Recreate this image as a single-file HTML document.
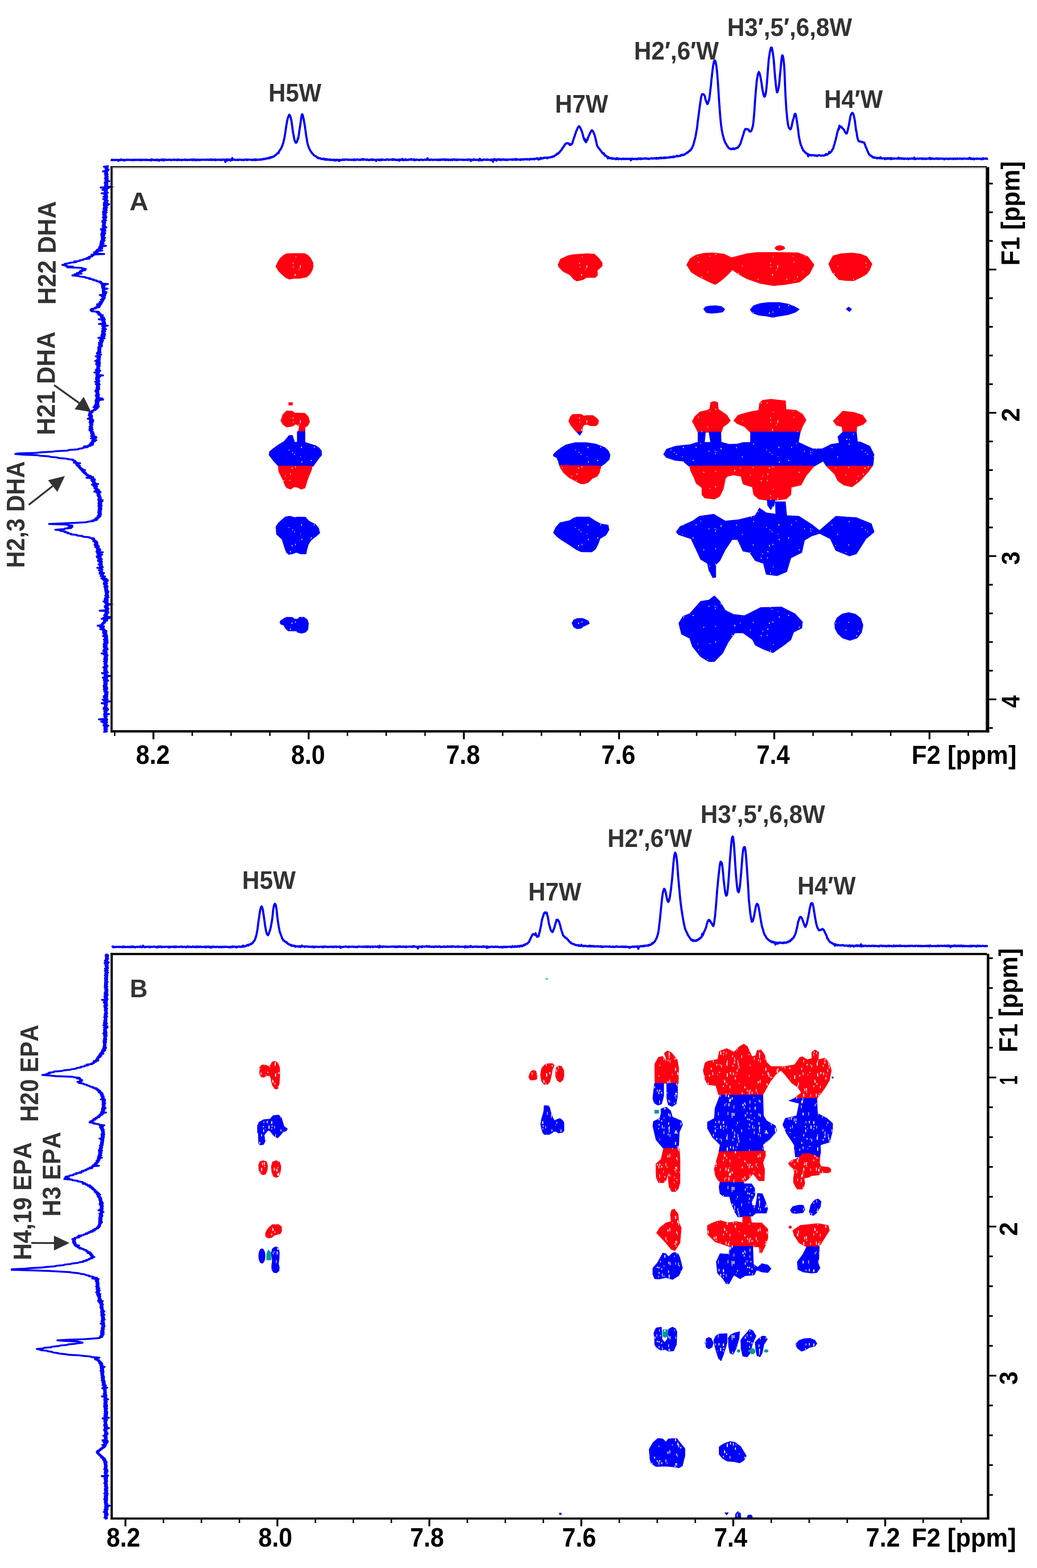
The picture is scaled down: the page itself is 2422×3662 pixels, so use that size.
<!DOCTYPE html><html><head><meta charset="utf-8"><title>NOESY spectra</title><style>html,body{margin:0;padding:0;background:#fff;}svg{display:block;}text{font-family:"Liberation Sans",Arial,sans-serif;font-weight:bold;font-kerning:none;}</style></head><body>
<svg xmlns="http://www.w3.org/2000/svg" width="2422" height="3662" viewBox="0 0 2422 3662">
<rect width="2422" height="3662" fill="#fff"/>
<polyline points="258.5,373.8 259.5,374.0 260.5,373.8 261.5,372.9 262.5,374.1 263.5,373.2 264.5,373.3 265.5,373.9 266.5,373.8 267.5,373.7 268.5,373.6 269.5,373.9 270.5,373.2 271.5,373.4 272.5,373.3 273.5,373.9 274.5,373.6 275.5,373.4 276.5,375.6 277.5,373.5 278.5,373.6 279.5,373.4 280.5,374.2 281.5,374.1 282.5,372.2 283.5,372.6 284.5,373.5 285.5,373.4 286.5,373.7 287.5,373.7 288.5,374.6 289.5,373.0 290.5,373.4 291.5,374.6 292.5,373.9 293.5,373.9 294.5,373.3 295.5,372.7 296.5,373.6 297.5,373.6 298.5,372.9 299.5,373.2 300.5,373.5 301.5,373.1 302.5,373.5 303.5,373.6 304.5,373.6 305.5,373.3 306.5,373.8 307.5,374.0 308.5,373.7 309.5,373.1 310.5,373.9 311.5,373.3 312.5,374.0 313.5,373.0 314.5,374.0 315.5,373.5 316.5,372.9 317.5,373.4 318.5,373.5 319.5,373.7 320.5,373.0 321.5,373.0 322.5,373.6 323.5,373.3 324.5,373.6 325.5,373.9 326.5,372.7 327.5,373.6 328.5,374.1 329.5,373.4 330.5,373.1 331.5,373.9 332.5,373.6 333.5,373.9 334.5,373.3 335.5,372.8 336.5,373.4 337.5,373.3 338.5,373.9 339.5,373.6 340.5,372.7 341.5,372.9 342.5,373.9 343.5,373.8 344.5,373.2 345.5,373.5 346.5,373.7 347.5,373.7 348.5,373.9 349.5,373.6 350.5,372.9 351.5,373.3 352.5,374.8 353.5,372.3 354.5,373.4 355.5,373.5 356.5,372.7 357.5,373.6 358.5,373.1 359.5,373.9 360.5,373.4 361.5,373.8 362.5,374.1 363.5,373.6 364.5,373.0 365.5,372.7 366.5,374.3 367.5,373.4 368.5,373.1 369.5,374.0 370.5,373.3 371.5,375.3 372.5,373.5 373.5,373.4 374.5,373.1 375.5,373.7 376.5,372.9 377.5,373.8 378.5,374.2 379.5,372.7 380.5,372.2 381.5,373.7 382.5,374.7 383.5,372.9 384.5,372.8 385.5,373.7 386.5,373.0 387.5,373.2 388.5,372.8 389.5,373.7 390.5,373.2 391.5,373.6 392.5,373.3 393.5,373.0 394.5,373.2 395.5,372.9 396.5,373.4 397.5,372.8 398.5,372.9 399.5,374.1 400.5,373.4 401.5,373.4 402.5,373.7 403.5,373.2 404.5,373.3 405.5,372.6 406.5,373.5 407.5,372.8 408.5,373.8 409.5,373.1 410.5,372.9 411.5,372.9 412.5,373.2 413.5,374.2 414.5,372.8 415.5,373.5 416.5,372.3 417.5,373.4 418.5,373.8 419.5,373.3 420.5,373.1 421.5,373.5 422.5,373.7 423.5,373.7 424.5,374.3 425.5,373.5 426.5,373.1 427.5,373.3 428.5,373.3 429.5,373.4 430.5,373.3 431.5,373.4 432.5,372.5 433.5,373.8 434.5,373.1 435.5,372.8 436.5,373.7 437.5,374.0 438.5,373.6 439.5,373.4 440.5,372.9 441.5,373.4 442.5,373.8 443.5,372.8 444.5,372.9 445.5,373.4 446.5,372.5 447.5,373.4 448.5,373.1 449.5,373.9 450.5,373.8 451.5,372.0 452.5,373.3 453.5,372.5 454.5,373.9 455.5,373.4 456.5,373.6 457.5,372.8 458.5,374.2 459.5,374.3 460.5,372.8 461.5,373.5 462.5,373.0 463.5,373.3 464.5,373.1 465.5,374.2 466.5,372.8 467.5,373.1 468.5,373.5 469.5,373.0 470.5,373.2 471.5,373.0 472.5,373.2 473.5,372.9 474.5,373.1 475.5,373.2 476.5,373.1 477.5,372.8 478.5,373.1 479.5,373.6 480.5,373.1 481.5,373.2 482.5,372.9 483.5,373.0 484.5,372.6 485.5,373.5 486.5,372.7 487.5,372.9 488.5,373.4 489.5,373.5 490.5,373.0 491.5,372.2 492.5,373.5 493.5,373.4 494.5,372.5 495.5,373.6 496.5,372.9 497.5,372.7 498.5,373.3 499.5,373.1 500.5,373.3 501.5,372.4 502.5,374.1 503.5,372.9 504.5,372.5 505.5,373.5 506.5,373.1 507.5,373.4 508.5,373.1 509.5,373.2 510.5,373.3 511.5,372.8 512.5,373.6 513.5,373.0 514.5,372.8 515.5,373.3 516.5,373.9 517.5,373.1 518.5,372.8 519.5,373.5 520.5,372.3 521.5,372.7 522.5,373.2 523.5,372.5 524.5,373.2 525.5,373.2 526.5,378.4 527.5,372.8 528.5,372.9 529.5,373.4 530.5,372.0 531.5,374.8 532.5,372.9 533.5,372.8 534.5,373.6 535.5,373.2 536.5,372.3 537.5,373.5 538.5,375.2 539.5,373.0 540.5,373.1 541.5,373.4 542.5,369.1 543.5,373.4 544.5,373.3 545.5,372.9 546.5,372.5 547.5,373.1 548.5,372.8 549.5,373.7 550.5,373.3 551.5,373.6 552.5,373.3 553.5,373.3 554.5,372.8 555.5,373.5 556.5,374.1 557.5,373.0 558.5,372.9 559.5,373.1 560.5,373.0 561.5,372.8 562.5,373.3 563.5,373.1 564.5,373.9 565.5,373.2 566.5,373.4 567.5,373.7 568.5,373.0 569.5,373.9 570.5,372.9 571.5,372.8 572.5,373.0 573.5,373.1 574.5,372.5 575.5,373.2 576.5,372.4 577.5,373.9 578.5,373.2 579.5,372.9 580.5,372.7 581.5,373.0 582.5,373.1 583.5,372.7 584.5,372.7 585.5,373.1 586.5,372.9 587.5,373.7 588.5,373.8 589.5,373.2 590.5,373.4 591.5,372.5 592.5,373.5 593.5,373.2 594.5,373.4 595.5,374.0 596.5,372.1 597.5,373.3 598.5,372.7 599.5,373.5 600.5,372.5 601.5,372.9 602.5,373.2 603.5,373.4 604.5,373.1 605.5,372.5 606.5,372.6 607.5,373.2 608.5,372.6 609.5,371.6 610.5,372.7 611.5,372.4 612.5,372.4 613.5,371.6 614.5,372.1 615.5,370.9 616.5,371.5 617.5,370.8 618.5,371.2 619.5,371.2 620.5,370.1 621.5,370.3 622.5,370.1 623.5,370.5 624.5,370.1 625.5,368.9 626.5,369.5 627.5,369.4 628.5,369.9 629.5,367.7 630.5,368.0 631.5,368.7 632.5,367.1 633.5,366.8 634.5,367.3 635.5,367.2 636.5,366.0 637.5,366.2 638.5,365.6 639.5,365.8 640.5,364.4 641.5,364.3 642.5,362.6 643.5,362.2 644.5,361.4 645.5,361.1 646.5,359.8 647.5,358.2 648.5,357.8 649.5,356.8 650.5,357.8 651.5,354.0 652.5,352.8 653.5,350.6 654.5,350.1 655.5,348.5 656.5,346.1 657.5,345.0 658.5,341.8 659.5,339.7 660.5,336.8 661.5,334.5 662.5,328.9 663.5,325.7 664.5,321.0 665.5,314.8 666.5,308.7 667.5,301.3 668.5,294.5 669.5,289.6 670.5,282.9 671.5,279.0 672.5,274.9 673.5,272.7 674.5,270.0 675.5,267.8 676.5,268.8 677.5,270.3 678.5,273.2 679.5,277.1 680.5,281.1 681.5,287.6 682.5,295.3 683.5,302.9 684.5,309.8 685.5,314.6 686.5,320.5 687.5,325.3 688.5,329.4 689.5,330.6 690.5,333.1 691.5,333.4 692.5,332.7 693.5,330.8 694.5,328.9 695.5,323.4 696.5,323.9 697.5,317.0 698.5,310.9 699.5,303.5 700.5,297.2 701.5,290.9 702.5,283.3 703.5,276.0 704.5,269.8 705.5,266.8 706.5,267.5 707.5,270.9 708.5,274.8 709.5,279.7 710.5,285.7 711.5,291.0 712.5,297.5 713.5,305.0 714.5,312.1 715.5,319.2 716.5,324.7 717.5,331.2 718.5,336.1 719.5,338.8 720.5,342.7 721.5,345.1 722.5,347.1 723.5,349.6 724.5,351.4 725.5,352.9 726.5,354.4 727.5,356.0 728.5,357.5 729.5,358.1 730.5,359.6 731.5,359.9 732.5,361.8 733.5,362.8 734.5,363.3 735.5,364.0 736.5,364.8 737.5,364.8 738.5,365.6 739.5,366.6 740.5,367.4 741.5,367.6 742.5,369.2 743.5,368.3 744.5,369.3 745.5,369.9 746.5,369.5 747.5,369.6 748.5,369.7 749.5,370.7 750.5,371.4 751.5,371.2 752.5,371.3 753.5,371.2 754.5,371.8 755.5,370.5 756.5,371.8 757.5,371.9 758.5,371.3 759.5,373.2 760.5,371.5 761.5,371.7 762.5,371.8 763.5,373.0 764.5,372.1 765.5,373.0 766.5,373.1 767.5,373.0 768.5,372.3 769.5,372.7 770.5,373.9 771.5,372.5 772.5,372.8 773.5,373.2 774.5,373.8 775.5,373.6 776.5,373.9 777.5,373.0 778.5,374.1 779.5,373.9 780.5,372.9 781.5,374.5 782.5,374.9 783.5,373.4 784.5,373.8 785.5,374.5 786.5,373.1 787.5,372.9 788.5,373.2 789.5,373.6 790.5,373.4 791.5,376.2 792.5,374.0 793.5,373.1 794.5,373.9 795.5,374.4 796.5,373.9 797.5,373.7 798.5,373.1 799.5,373.5 800.5,372.5 801.5,373.4 802.5,373.0 803.5,373.6 804.5,373.2 805.5,372.5 806.5,373.1 807.5,372.4 808.5,372.4 809.5,372.7 810.5,372.6 811.5,372.3 812.5,373.5 813.5,373.7 814.5,373.4 815.5,373.1 816.5,373.0 817.5,373.1 818.5,372.6 819.5,373.5 820.5,373.5 821.5,373.5 822.5,372.7 823.5,373.0 824.5,372.9 825.5,373.9 826.5,373.1 827.5,372.1 828.5,373.2 829.5,374.0 830.5,373.4 831.5,373.5 832.5,373.0 833.5,372.0 834.5,372.1 835.5,372.4 836.5,373.0 837.5,373.2 838.5,373.4 839.5,372.9 840.5,373.5 841.5,372.9 842.5,372.7 843.5,373.5 844.5,372.6 845.5,371.7 846.5,372.5 847.5,373.1 848.5,371.5 849.5,372.9 850.5,372.9 851.5,372.3 852.5,372.3 853.5,372.8 854.5,372.8 855.5,373.7 856.5,373.2 857.5,372.2 858.5,372.6 859.5,373.4 860.5,374.0 861.5,373.2 862.5,373.2 863.5,374.0 864.5,373.0 865.5,372.9 866.5,372.3 867.5,372.8 868.5,374.1 869.5,372.3 870.5,373.1 871.5,372.4 872.5,373.1 873.5,373.5 874.5,372.9 875.5,373.4 876.5,373.4 877.5,373.3 878.5,376.0 879.5,373.5 880.5,372.9 881.5,372.7 882.5,372.7 883.5,373.3 884.5,372.9 885.5,374.4 886.5,374.0 887.5,373.0 888.5,372.9 889.5,373.9 890.5,372.1 891.5,372.9 892.5,373.6 893.5,372.6 894.5,372.9 895.5,372.9 896.5,373.4 897.5,373.2 898.5,373.3 899.5,373.4 900.5,373.1 901.5,373.7 902.5,372.7 903.5,372.4 904.5,372.2 905.5,372.3 906.5,372.8 907.5,373.6 908.5,373.2 909.5,372.8 910.5,372.6 911.5,372.9 912.5,372.9 913.5,372.8 914.5,372.4 915.5,372.9 916.5,373.6 917.5,371.5 918.5,373.0 919.5,372.1 920.5,373.2 921.5,372.8 922.5,372.1 923.5,373.2 924.5,374.0 925.5,373.2 926.5,373.7 927.5,373.1 928.5,374.0 929.5,373.4 930.5,372.9 931.5,372.4 932.5,375.2 933.5,373.3 934.5,372.9 935.5,373.6 936.5,372.7 937.5,373.5 938.5,372.7 939.5,371.1 940.5,372.6 941.5,373.9 942.5,374.0 943.5,373.9 944.5,372.8 945.5,372.9 946.5,373.6 947.5,371.8 948.5,372.6 949.5,373.7 950.5,373.4 951.5,373.7 952.5,373.0 953.5,373.5 954.5,372.8 955.5,372.5 956.5,372.3 957.5,372.9 958.5,372.9 959.5,372.9 960.5,371.4 961.5,373.1 962.5,372.9 963.5,373.3 964.5,372.9 965.5,372.7 966.5,372.0 967.5,374.2 968.5,372.6 969.5,374.0 970.5,374.0 971.5,373.3 972.5,372.9 973.5,373.3 974.5,372.6 975.5,373.3 976.5,373.2 977.5,373.5 978.5,373.7 979.5,374.1 980.5,373.0 981.5,373.7 982.5,372.8 983.5,372.7 984.5,372.9 985.5,372.7 986.5,373.7 987.5,373.7 988.5,373.7 989.5,373.2 990.5,373.3 991.5,372.9 992.5,372.6 993.5,373.4 994.5,373.3 995.5,372.6 996.5,373.5 997.5,372.3 998.5,369.5 999.5,372.9 1000.5,372.9 1001.5,372.7 1002.5,373.7 1003.5,373.5 1004.5,373.8 1005.5,373.3 1006.5,372.6 1007.5,373.0 1008.5,372.6 1009.5,373.4 1010.5,373.8 1011.5,373.4 1012.5,372.9 1013.5,373.0 1014.5,373.3 1015.5,372.5 1016.5,373.3 1017.5,373.3 1018.5,372.9 1019.5,373.0 1020.5,373.8 1021.5,372.8 1022.5,372.8 1023.5,373.6 1024.5,373.3 1025.5,374.0 1026.5,372.7 1027.5,372.3 1028.5,373.7 1029.5,373.7 1030.5,372.8 1031.5,372.4 1032.5,373.2 1033.5,372.3 1034.5,373.0 1035.5,372.1 1036.5,373.1 1037.5,372.1 1038.5,373.1 1039.5,373.9 1040.5,372.4 1041.5,373.6 1042.5,372.8 1043.5,372.7 1044.5,372.4 1045.5,373.7 1046.5,373.1 1047.5,374.0 1048.5,372.6 1049.5,373.0 1050.5,373.2 1051.5,373.9 1052.5,374.1 1053.5,372.8 1054.5,372.6 1055.5,372.3 1056.5,373.8 1057.5,373.1 1058.5,372.8 1059.5,373.1 1060.5,371.9 1061.5,372.3 1062.5,373.6 1063.5,373.3 1064.5,373.2 1065.5,372.6 1066.5,373.4 1067.5,374.0 1068.5,372.5 1069.5,373.1 1070.5,372.9 1071.5,373.3 1072.5,373.1 1073.5,373.1 1074.5,372.7 1075.5,373.1 1076.5,372.8 1077.5,373.0 1078.5,373.1 1079.5,373.4 1080.5,372.8 1081.5,373.0 1082.5,373.7 1083.5,373.0 1084.5,373.0 1085.5,373.5 1086.5,373.2 1087.5,373.2 1088.5,373.2 1089.5,372.5 1090.5,373.3 1091.5,373.8 1092.5,373.4 1093.5,372.3 1094.5,373.2 1095.5,372.6 1096.5,373.0 1097.5,373.2 1098.5,372.5 1099.5,376.1 1100.5,373.1 1101.5,373.5 1102.5,373.4 1103.5,373.8 1104.5,373.7 1105.5,372.3 1106.5,373.1 1107.5,372.0 1108.5,372.9 1109.5,373.4 1110.5,373.5 1111.5,373.7 1112.5,372.9 1113.5,373.2 1114.5,373.1 1115.5,373.7 1116.5,373.9 1117.5,372.9 1118.5,374.9 1119.5,373.1 1120.5,370.7 1121.5,373.3 1122.5,373.4 1123.5,373.3 1124.5,374.7 1125.5,373.8 1126.5,373.1 1127.5,373.8 1128.5,373.7 1129.5,372.7 1130.5,372.5 1131.5,372.5 1132.5,373.2 1133.5,373.1 1134.5,373.2 1135.5,372.6 1136.5,373.2 1137.5,373.7 1138.5,372.3 1139.5,372.9 1140.5,373.1 1141.5,372.9 1142.5,372.9 1143.5,373.9 1144.5,373.6 1145.5,373.4 1146.5,372.6 1147.5,374.1 1148.5,373.2 1149.5,372.7 1150.5,372.8 1151.5,377.8 1152.5,374.0 1153.5,373.1 1154.5,371.0 1155.5,371.9 1156.5,373.3 1157.5,372.4 1158.5,372.4 1159.5,375.2 1160.5,372.5 1161.5,373.4 1162.5,373.5 1163.5,372.0 1164.5,371.8 1165.5,372.1 1166.5,372.9 1167.5,373.4 1168.5,372.2 1169.5,373.8 1170.5,372.8 1171.5,372.3 1172.5,372.8 1173.5,373.3 1174.5,372.2 1175.5,372.9 1176.5,372.2 1177.5,373.5 1178.5,373.0 1179.5,372.7 1180.5,373.4 1181.5,372.2 1182.5,372.7 1183.5,373.8 1184.5,372.8 1185.5,373.5 1186.5,372.9 1187.5,372.5 1188.5,372.7 1189.5,372.9 1190.5,372.6 1191.5,372.4 1192.5,372.4 1193.5,372.1 1194.5,372.9 1195.5,373.0 1196.5,373.2 1197.5,371.9 1198.5,373.2 1199.5,372.8 1200.5,372.1 1201.5,372.8 1202.5,373.2 1203.5,373.0 1204.5,371.2 1205.5,373.2 1206.5,373.2 1207.5,372.7 1208.5,371.7 1209.5,372.3 1210.5,372.8 1211.5,372.4 1212.5,373.0 1213.5,373.0 1214.5,372.6 1215.5,373.5 1216.5,372.0 1217.5,373.0 1218.5,372.2 1219.5,372.1 1220.5,372.7 1221.5,372.1 1222.5,372.8 1223.5,371.7 1224.5,372.3 1225.5,371.8 1226.5,372.1 1227.5,372.0 1228.5,371.6 1229.5,372.4 1230.5,371.4 1231.5,371.5 1232.5,372.4 1233.5,372.4 1234.5,372.2 1235.5,372.0 1236.5,372.9 1237.5,371.1 1238.5,371.3 1239.5,371.1 1240.5,372.0 1241.5,371.6 1242.5,372.0 1243.5,371.8 1244.5,371.2 1245.5,370.8 1246.5,370.7 1247.5,372.2 1248.5,371.5 1249.5,371.3 1250.5,370.7 1251.5,370.7 1252.5,370.6 1253.5,370.5 1254.5,369.4 1255.5,370.5 1256.5,370.3 1257.5,372.7 1258.5,370.4 1259.5,370.6 1260.5,370.1 1261.5,371.6 1262.5,368.7 1263.5,369.3 1264.5,370.6 1265.5,369.1 1266.5,369.5 1267.5,369.9 1268.5,369.0 1269.5,369.7 1270.5,368.5 1271.5,368.2 1272.5,368.4 1273.5,368.1 1274.5,368.8 1275.5,368.6 1276.5,368.8 1277.5,368.0 1278.5,369.7 1279.5,368.3 1280.5,368.1 1281.5,368.2 1282.5,367.7 1283.5,367.3 1284.5,367.5 1285.5,367.6 1286.5,367.3 1287.5,367.1 1288.5,366.1 1289.5,365.7 1290.5,366.7 1291.5,365.3 1292.5,365.3 1293.5,365.1 1294.5,365.0 1295.5,363.2 1296.5,363.1 1297.5,362.6 1298.5,362.1 1299.5,360.4 1300.5,360.8 1301.5,358.7 1302.5,359.5 1303.5,358.8 1304.5,358.0 1305.5,356.2 1306.5,356.3 1307.5,354.5 1308.5,353.2 1309.5,352.1 1310.5,350.8 1311.5,349.8 1312.5,348.6 1313.5,345.6 1314.5,344.8 1315.5,344.1 1316.5,342.3 1317.5,341.2 1318.5,338.8 1319.5,338.5 1320.5,335.8 1321.5,335.4 1322.5,335.1 1323.5,335.0 1324.5,334.3 1325.5,334.7 1326.5,334.3 1327.5,334.9 1328.5,336.2 1329.5,336.1 1330.5,338.7 1331.5,336.4 1332.5,337.5 1333.5,338.0 1334.5,337.2 1335.5,336.3 1336.5,335.2 1337.5,331.7 1338.5,328.4 1339.5,324.9 1340.5,322.4 1341.5,319.6 1342.5,317.1 1343.5,312.9 1344.5,311.1 1345.5,307.1 1346.5,305.1 1347.5,303.3 1348.5,300.5 1349.5,298.2 1350.5,296.9 1351.5,296.1 1352.5,294.6 1353.5,295.9 1354.5,297.2 1355.5,298.8 1356.5,301.5 1357.5,303.2 1358.5,305.7 1359.5,308.4 1360.5,312.1 1361.5,315.4 1362.5,320.2 1363.5,322.5 1364.5,326.4 1365.5,323.9 1366.5,329.1 1367.5,330.6 1368.5,332.0 1369.5,331.0 1370.5,326.6 1371.5,327.7 1372.5,324.4 1373.5,321.4 1374.5,319.2 1375.5,316.5 1376.5,314.9 1377.5,312.1 1378.5,310.4 1379.5,308.4 1380.5,306.5 1381.5,305.0 1382.5,304.2 1383.5,305.3 1384.5,306.1 1385.5,308.0 1386.5,309.8 1387.5,312.6 1388.5,314.8 1389.5,318.1 1390.5,321.6 1391.5,326.7 1392.5,330.8 1393.5,335.2 1394.5,339.8 1395.5,341.7 1396.5,342.7 1397.5,345.2 1398.5,346.1 1399.5,346.8 1400.5,348.8 1401.5,349.9 1402.5,351.3 1403.5,352.2 1404.5,353.8 1405.5,355.1 1406.5,357.1 1407.5,357.1 1408.5,358.5 1409.5,359.7 1410.5,357.9 1411.5,360.6 1412.5,363.4 1413.5,362.3 1414.5,364.3 1415.5,364.3 1416.5,365.0 1417.5,365.0 1418.5,366.0 1419.5,369.9 1420.5,366.6 1421.5,368.0 1422.5,368.2 1423.5,369.5 1424.5,368.6 1425.5,369.7 1426.5,369.8 1427.5,369.5 1428.5,369.0 1429.5,370.8 1430.5,369.5 1431.5,370.0 1432.5,370.8 1433.5,371.0 1434.5,370.0 1435.5,370.5 1436.5,370.4 1437.5,371.2 1438.5,371.9 1439.5,369.8 1440.5,371.2 1441.5,369.4 1442.5,370.9 1443.5,370.3 1444.5,371.9 1445.5,371.0 1446.5,370.6 1447.5,370.8 1448.5,370.8 1449.5,371.2 1450.5,371.0 1451.5,371.4 1452.5,371.9 1453.5,371.5 1454.5,370.5 1455.5,370.4 1456.5,370.8 1457.5,371.7 1458.5,371.0 1459.5,370.9 1460.5,371.3 1461.5,370.5 1462.5,370.6 1463.5,371.5 1464.5,371.0 1465.5,371.0 1466.5,371.3 1467.5,370.9 1468.5,370.8 1469.5,370.9 1470.5,371.5 1471.5,371.2 1472.5,370.5 1473.5,374.3 1474.5,371.4 1475.5,372.1 1476.5,370.5 1477.5,371.3 1478.5,370.9 1479.5,371.5 1480.5,371.3 1481.5,371.8 1482.5,371.3 1483.5,370.7 1484.5,370.7 1485.5,371.2 1486.5,371.2 1487.5,372.1 1488.5,371.8 1489.5,370.3 1490.5,371.1 1491.5,370.2 1492.5,370.0 1493.5,371.2 1494.5,371.1 1495.5,370.2 1496.5,371.6 1497.5,370.2 1498.5,370.1 1499.5,371.0 1500.5,370.8 1501.5,370.5 1502.5,370.6 1503.5,370.7 1504.5,370.2 1505.5,370.4 1506.5,369.5 1507.5,369.8 1508.5,370.7 1509.5,370.0 1510.5,370.6 1511.5,370.9 1512.5,370.1 1513.5,370.4 1514.5,371.3 1515.5,370.5 1516.5,371.1 1517.5,370.9 1518.5,370.5 1519.5,370.0 1520.5,369.6 1521.5,369.4 1522.5,370.2 1523.5,370.2 1524.5,369.8 1525.5,370.3 1526.5,369.5 1527.5,370.3 1528.5,369.8 1529.5,369.7 1530.5,369.7 1531.5,369.6 1532.5,370.8 1533.5,368.7 1534.5,369.6 1535.5,370.1 1536.5,369.8 1537.5,369.2 1538.5,370.2 1539.5,368.8 1540.5,368.6 1541.5,369.5 1542.5,368.4 1543.5,367.9 1544.5,369.5 1545.5,369.3 1546.5,369.3 1547.5,368.6 1548.5,368.8 1549.5,368.2 1550.5,369.5 1551.5,368.9 1552.5,368.9 1553.5,367.4 1554.5,368.7 1555.5,368.9 1556.5,368.7 1557.5,368.4 1558.5,367.9 1559.5,367.6 1560.5,367.9 1561.5,367.7 1562.5,367.5 1563.5,367.2 1564.5,368.0 1565.5,366.5 1566.5,367.0 1567.5,366.6 1568.5,367.2 1569.5,367.3 1570.5,367.1 1571.5,366.7 1572.5,365.5 1573.5,367.1 1574.5,366.2 1575.5,365.8 1576.5,365.7 1577.5,365.4 1578.5,365.6 1579.5,365.4 1580.5,365.0 1581.5,363.7 1582.5,364.8 1583.5,364.9 1584.5,364.7 1585.5,364.2 1586.5,364.3 1587.5,364.4 1588.5,363.4 1589.5,364.2 1590.5,362.2 1591.5,362.3 1592.5,362.3 1593.5,361.2 1594.5,361.7 1595.5,362.4 1596.5,362.0 1597.5,361.0 1598.5,361.3 1599.5,360.1 1600.5,359.2 1601.5,359.0 1602.5,358.3 1603.5,358.1 1604.5,356.3 1605.5,356.9 1606.5,355.5 1607.5,355.5 1608.5,353.5 1609.5,353.3 1610.5,352.6 1611.5,352.1 1612.5,349.9 1613.5,350.2 1614.5,348.2 1615.5,346.3 1616.5,345.3 1617.5,342.5 1618.5,340.4 1619.5,338.1 1620.5,334.2 1621.5,330.2 1622.5,326.7 1623.5,323.2 1624.5,318.5 1625.5,313.0 1626.5,307.5 1627.5,301.6 1628.5,294.8 1629.5,284.3 1630.5,278.1 1631.5,270.1 1632.5,262.7 1633.5,254.9 1634.5,247.2 1635.5,240.4 1636.5,233.7 1637.5,227.1 1638.5,223.6 1639.5,220.5 1640.5,220.2 1641.5,220.4 1642.5,219.8 1643.5,220.7 1644.5,221.3 1645.5,223.4 1646.5,225.8 1647.5,231.7 1648.5,234.4 1649.5,236.9 1650.5,240.2 1651.5,242.4 1652.5,243.0 1653.5,240.9 1654.5,237.9 1655.5,234.9 1656.5,231.9 1657.5,224.4 1658.5,216.3 1659.5,206.8 1660.5,199.1 1661.5,187.2 1662.5,179.3 1663.5,169.9 1664.5,161.9 1665.5,154.1 1666.5,149.3 1667.5,143.6 1668.5,141.6 1669.5,142.3 1670.5,141.8 1671.5,145.5 1672.5,150.9 1673.5,157.0 1674.5,165.6 1675.5,177.1 1676.5,189.6 1677.5,204.1 1678.5,220.1 1679.5,236.1 1680.5,249.5 1681.5,263.4 1682.5,275.2 1683.5,286.1 1684.5,294.4 1685.5,301.7 1686.5,307.0 1687.5,312.6 1688.5,316.2 1689.5,320.2 1690.5,323.8 1691.5,326.4 1692.5,330.1 1693.5,331.7 1694.5,334.6 1695.5,335.4 1696.5,337.3 1697.5,339.7 1698.5,341.1 1699.5,341.6 1700.5,343.8 1701.5,345.3 1702.5,346.2 1703.5,346.4 1704.5,347.1 1705.5,347.3 1706.5,348.4 1707.5,348.8 1708.5,347.8 1709.5,347.2 1710.5,348.0 1711.5,348.2 1712.5,346.3 1713.5,347.6 1714.5,348.4 1715.5,347.6 1716.5,347.2 1717.5,346.9 1718.5,347.0 1719.5,345.7 1720.5,345.4 1721.5,345.7 1722.5,344.8 1723.5,344.6 1724.5,342.4 1725.5,342.4 1726.5,340.8 1727.5,338.7 1728.5,336.8 1729.5,335.6 1730.5,331.2 1731.5,328.8 1732.5,325.4 1733.5,322.4 1734.5,318.8 1735.5,316.3 1736.5,312.9 1737.5,309.1 1738.5,305.7 1739.5,304.2 1740.5,301.7 1741.5,301.1 1742.5,301.3 1743.5,301.4 1744.5,302.0 1745.5,302.2 1746.5,301.9 1747.5,302.2 1748.5,303.1 1749.5,304.4 1750.5,307.1 1751.5,307.0 1752.5,306.9 1753.5,307.0 1754.5,305.6 1755.5,304.0 1756.5,300.4 1757.5,297.7 1758.5,293.6 1759.5,286.9 1760.5,276.2 1761.5,264.7 1762.5,250.8 1763.5,235.1 1764.5,221.9 1765.5,210.1 1766.5,199.0 1767.5,188.5 1768.5,182.4 1769.5,176.7 1770.5,172.7 1771.5,169.9 1772.5,168.2 1773.5,170.0 1774.5,173.2 1775.5,176.9 1776.5,182.2 1777.5,187.4 1778.5,193.2 1779.5,200.6 1780.5,207.5 1781.5,212.7 1782.5,217.3 1783.5,221.9 1784.5,224.3 1785.5,225.8 1786.5,225.0 1787.5,222.2 1788.5,217.8 1789.5,211.1 1790.5,201.7 1791.5,190.0 1792.5,176.8 1793.5,163.3 1794.5,150.6 1795.5,138.6 1796.5,132.4 1797.5,124.9 1798.5,119.6 1799.5,115.6 1800.5,111.3 1801.5,111.1 1802.5,111.2 1803.5,115.5 1804.5,120.6 1805.5,127.1 1806.5,134.4 1807.5,145.0 1808.5,157.5 1809.5,171.4 1810.5,182.2 1811.5,192.1 1812.5,202.0 1813.5,208.9 1814.5,215.2 1815.5,215.7 1816.5,212.6 1817.5,209.0 1818.5,205.1 1819.5,198.8 1820.5,189.6 1821.5,177.2 1822.5,168.2 1823.5,157.2 1824.5,146.0 1825.5,137.0 1826.5,130.3 1827.5,129.2 1828.5,131.9 1829.5,135.6 1830.5,144.2 1831.5,153.7 1832.5,170.6 1833.5,199.0 1834.5,221.0 1835.5,238.3 1836.5,254.1 1837.5,265.7 1838.5,275.8 1839.5,283.8 1840.5,290.7 1841.5,295.3 1842.5,297.9 1843.5,299.8 1844.5,300.7 1845.5,302.0 1846.5,301.6 1847.5,299.8 1848.5,296.6 1849.5,292.0 1850.5,287.4 1851.5,282.7 1852.5,279.1 1853.5,277.1 1854.5,272.4 1855.5,268.1 1856.5,266.2 1857.5,265.9 1858.5,267.4 1859.5,272.6 1860.5,278.2 1861.5,284.7 1862.5,291.3 1863.5,299.0 1864.5,306.3 1865.5,316.3 1866.5,321.4 1867.5,326.5 1868.5,330.4 1869.5,335.2 1870.5,338.7 1871.5,340.6 1872.5,342.7 1873.5,346.1 1874.5,347.3 1875.5,350.0 1876.5,352.1 1877.5,352.2 1878.5,353.3 1879.5,354.8 1880.5,356.0 1881.5,355.9 1882.5,357.8 1883.5,358.4 1884.5,358.9 1885.5,359.0 1886.5,360.4 1887.5,365.0 1888.5,360.4 1889.5,362.5 1890.5,361.7 1891.5,362.3 1892.5,362.1 1893.5,362.7 1894.5,363.2 1895.5,362.3 1896.5,361.9 1897.5,362.5 1898.5,362.2 1899.5,362.5 1900.5,362.8 1901.5,362.9 1902.5,363.6 1903.5,362.5 1904.5,363.2 1905.5,362.8 1906.5,363.8 1907.5,364.4 1908.5,363.3 1909.5,364.0 1910.5,362.9 1911.5,362.4 1912.5,362.6 1913.5,362.4 1914.5,362.8 1915.5,363.1 1916.5,363.8 1917.5,363.6 1918.5,363.5 1919.5,363.1 1920.5,362.9 1921.5,363.3 1922.5,363.4 1923.5,363.4 1924.5,363.4 1925.5,363.0 1926.5,361.9 1927.5,362.1 1928.5,361.9 1929.5,359.5 1930.5,361.2 1931.5,361.3 1932.5,361.2 1933.5,360.1 1934.5,359.2 1935.5,358.6 1936.5,354.9 1937.5,357.6 1938.5,357.2 1939.5,356.0 1940.5,355.0 1941.5,353.7 1942.5,353.0 1943.5,350.1 1944.5,348.9 1945.5,347.4 1946.5,345.2 1947.5,340.6 1948.5,338.2 1949.5,334.6 1950.5,330.4 1951.5,327.5 1952.5,323.6 1953.5,319.4 1954.5,314.4 1955.5,310.2 1956.5,306.3 1957.5,303.6 1958.5,300.2 1959.5,301.9 1960.5,293.4 1961.5,296.3 1962.5,296.7 1963.5,296.9 1964.5,295.7 1965.5,297.1 1966.5,298.4 1967.5,299.6 1968.5,300.2 1969.5,300.9 1970.5,302.6 1971.5,303.5 1972.5,306.3 1973.5,308.5 1974.5,308.8 1975.5,311.0 1976.5,311.8 1977.5,311.9 1978.5,309.8 1979.5,306.2 1980.5,301.3 1981.5,297.1 1982.5,293.3 1983.5,287.4 1984.5,281.4 1985.5,276.1 1986.5,270.9 1987.5,267.7 1988.5,266.2 1989.5,265.0 1990.5,263.5 1991.5,263.9 1992.5,265.4 1993.5,267.5 1994.5,271.7 1995.5,276.4 1996.5,281.0 1997.5,289.2 1998.5,297.1 1999.5,305.2 2000.5,307.7 2001.5,315.2 2002.5,321.5 2003.5,324.5 2004.5,327.9 2005.5,329.6 2006.5,330.2 2007.5,330.1 2008.5,330.7 2009.5,330.5 2010.5,330.8 2011.5,331.3 2012.5,331.7 2013.5,331.8 2014.5,331.5 2015.5,332.4 2016.5,332.6 2017.5,333.2 2018.5,333.1 2019.5,336.0 2020.5,338.1 2021.5,341.9 2022.5,344.3 2023.5,346.0 2024.5,348.1 2025.5,351.7 2026.5,353.0 2027.5,356.0 2028.5,357.5 2029.5,360.3 2030.5,360.5 2031.5,362.2 2032.5,363.1 2033.5,363.0 2034.5,363.9 2035.5,365.5 2036.5,365.4 2037.5,365.5 2038.5,367.1 2039.5,368.2 2040.5,367.2 2041.5,368.2 2042.5,367.6 2043.5,368.6 2044.5,368.0 2045.5,368.4 2046.5,368.8 2047.5,368.6 2048.5,370.0 2049.5,368.7 2050.5,368.5 2051.5,368.7 2052.5,369.3 2053.5,368.9 2054.5,369.7 2055.5,369.9 2056.5,367.0 2057.5,369.5 2058.5,369.8 2059.5,369.8 2060.5,370.5 2061.5,369.5 2062.5,369.7 2063.5,369.8 2064.5,369.9 2065.5,369.6 2066.5,371.7 2067.5,370.5 2068.5,369.7 2069.5,370.5 2070.5,371.1 2071.5,370.8 2072.5,369.2 2073.5,370.5 2074.5,370.4 2075.5,370.5 2076.5,369.4 2077.5,370.6 2078.5,369.7 2079.5,370.9 2080.5,369.1 2081.5,371.6 2082.5,370.1 2083.5,369.5 2084.5,370.8 2085.5,370.8 2086.5,370.1 2087.5,371.0 2088.5,370.7 2089.5,369.7 2090.5,370.2 2091.5,370.2 2092.5,370.3 2093.5,370.5 2094.5,370.1 2095.5,370.3 2096.5,370.7 2097.5,370.4 2098.5,368.2 2099.5,370.3 2100.5,370.4 2101.5,369.5 2102.5,370.5 2103.5,369.9 2104.5,370.5 2105.5,369.7 2106.5,370.9 2107.5,370.6 2108.5,369.8 2109.5,370.6 2110.5,370.1 2111.5,371.4 2112.5,370.7 2113.5,370.1 2114.5,370.6 2115.5,370.5 2116.5,371.1 2117.5,370.7 2118.5,370.8 2119.5,369.9 2120.5,370.9 2121.5,371.6 2122.5,370.8 2123.5,370.5 2124.5,370.6 2125.5,370.0 2126.5,370.6 2127.5,370.0 2128.5,370.6 2129.5,370.3 2130.5,370.1 2131.5,370.8 2132.5,369.8 2133.5,370.5 2134.5,369.9 2135.5,368.2 2136.5,371.5 2137.5,371.0 2138.5,371.5 2139.5,370.9 2140.5,370.8 2141.5,370.4 2142.5,370.1 2143.5,370.6 2144.5,370.3 2145.5,370.4 2146.5,370.9 2147.5,370.5 2148.5,369.8 2149.5,370.5 2150.5,370.2 2151.5,370.4 2152.5,370.0 2153.5,371.2 2154.5,371.5 2155.5,370.0 2156.5,370.9 2157.5,370.9 2158.5,370.1 2159.5,370.6 2160.5,371.3 2161.5,371.0 2162.5,371.4 2163.5,370.0 2164.5,370.2 2165.5,370.8 2166.5,370.8 2167.5,370.6 2168.5,370.4 2169.5,370.4 2170.5,368.9 2171.5,370.8 2172.5,369.2 2173.5,371.4 2174.5,370.3 2175.5,369.9 2176.5,370.9 2177.5,369.9 2178.5,370.8 2179.5,370.4 2180.5,370.9 2181.5,371.0 2182.5,371.3 2183.5,370.4 2184.5,370.5 2185.5,370.6 2186.5,369.9 2187.5,370.9 2188.5,370.7 2189.5,369.9 2190.5,371.2 2191.5,371.3 2192.5,370.0 2193.5,370.9 2194.5,371.2 2195.5,371.0 2196.5,370.1 2197.5,369.9 2198.5,370.6 2199.5,370.4 2200.5,370.6 2201.5,370.6 2202.5,370.9 2203.5,370.3 2204.5,370.5 2205.5,372.1 2206.5,370.6 2207.5,371.0 2208.5,370.8 2209.5,370.7 2210.5,370.2 2211.5,370.9 2212.5,370.6 2213.5,371.0 2214.5,371.6 2215.5,370.7 2216.5,371.0 2217.5,370.1 2218.5,370.7 2219.5,371.4 2220.5,370.6 2221.5,370.3 2222.5,370.7 2223.5,370.5 2224.5,370.5 2225.5,370.4 2226.5,371.6 2227.5,370.2 2228.5,370.4 2229.5,370.3 2230.5,371.2 2231.5,370.5 2232.5,371.3 2233.5,370.7 2234.5,370.6 2235.5,369.9 2236.5,371.2 2237.5,370.9 2238.5,370.8 2239.5,370.6 2240.5,370.4 2241.5,370.0 2242.5,371.1 2243.5,370.7 2244.5,370.4 2245.5,370.3 2246.5,370.7 2247.5,370.6 2248.5,371.4 2249.5,371.0 2250.5,370.3 2251.5,370.1 2252.5,370.5 2253.5,370.2 2254.5,370.6 2255.5,370.8 2256.5,370.9 2257.5,370.8 2258.5,370.5 2259.5,370.9 2260.5,370.2 2261.5,370.6 2262.5,371.0 2263.5,370.8 2264.5,368.5 2265.5,370.0 2266.5,369.8 2267.5,371.5 2268.5,369.8 2269.5,370.5 2270.5,371.5 2271.5,371.2 2272.5,371.3 2273.5,370.4 2274.5,371.0 2275.5,372.1 2276.5,370.6 2277.5,370.8 2278.5,370.5 2279.5,370.6 2280.5,370.8 2281.5,371.3 2282.5,370.2 2283.5,369.9 2284.5,370.6 2285.5,370.7 2286.5,371.3 2287.5,371.0 2288.5,370.3 2289.5,370.9 2290.5,371.2 2291.5,370.8 2292.5,372.1 2293.5,371.0 2294.5,370.4 2295.5,369.7 2296.5,371.3 2297.5,370.0 2298.5,370.5 2299.5,370.5 2300.5,370.4 2301.5,370.5 2302.5,369.9 2303.5,370.9 2304.5,370.6 2305.5,370.6 2306.5,371.2 2307.5,371.2" fill="none" stroke="#0000ff" stroke-width="5.0" stroke-linejoin="round" stroke-linecap="butt"/><polyline points="261.0,2211.8 262.0,2211.2 263.0,2211.3 264.0,2210.3 265.0,2212.4 266.0,2212.1 267.0,2211.3 268.0,2211.9 269.0,2211.6 270.0,2211.2 271.0,2212.0 272.0,2211.3 273.0,2211.3 274.0,2211.1 275.0,2211.7 276.0,2211.4 277.0,2211.7 278.0,2211.2 279.0,2211.5 280.0,2211.0 281.0,2211.9 282.0,2211.6 283.0,2211.6 284.0,2211.7 285.0,2211.0 286.0,2211.9 287.0,2212.5 288.0,2210.6 289.0,2210.6 290.0,2210.7 291.0,2211.9 292.0,2211.5 293.0,2212.0 294.0,2211.8 295.0,2211.6 296.0,2211.6 297.0,2211.4 298.0,2211.9 299.0,2210.9 300.0,2211.2 301.0,2211.6 302.0,2212.3 303.0,2211.1 304.0,2210.9 305.0,2211.2 306.0,2211.9 307.0,2211.3 308.0,2212.1 309.0,2210.5 310.0,2212.0 311.0,2211.9 312.0,2210.7 313.0,2211.5 314.0,2212.0 315.0,2211.5 316.0,2211.9 317.0,2212.6 318.0,2211.6 319.0,2211.3 320.0,2211.0 321.0,2211.7 322.0,2211.3 323.0,2211.3 324.0,2211.4 325.0,2211.7 326.0,2210.9 327.0,2210.6 328.0,2210.2 329.0,2212.0 330.0,2211.4 331.0,2212.2 332.0,2211.4 333.0,2211.0 334.0,2208.7 335.0,2211.4 336.0,2210.8 337.0,2211.0 338.0,2212.3 339.0,2211.6 340.0,2211.6 341.0,2211.3 342.0,2211.1 343.0,2211.8 344.0,2211.3 345.0,2211.0 346.0,2211.3 347.0,2210.9 348.0,2211.5 349.0,2212.2 350.0,2211.0 351.0,2212.1 352.0,2211.1 353.0,2211.5 354.0,2211.0 355.0,2211.3 356.0,2211.4 357.0,2211.2 358.0,2211.0 359.0,2211.0 360.0,2211.0 361.0,2210.6 362.0,2211.2 363.0,2211.6 364.0,2211.8 365.0,2211.7 366.0,2212.6 367.0,2211.5 368.0,2211.1 369.0,2212.3 370.0,2210.4 371.0,2211.9 372.0,2210.9 373.0,2211.5 374.0,2210.4 375.0,2211.8 376.0,2211.3 377.0,2210.9 378.0,2212.2 379.0,2211.7 380.0,2211.4 381.0,2211.0 382.0,2211.3 383.0,2211.3 384.0,2211.7 385.0,2211.8 386.0,2211.0 387.0,2211.1 388.0,2211.1 389.0,2210.7 390.0,2211.1 391.0,2211.3 392.0,2211.7 393.0,2212.0 394.0,2210.9 395.0,2212.8 396.0,2211.1 397.0,2212.4 398.0,2211.3 399.0,2211.6 400.0,2210.9 401.0,2210.9 402.0,2211.4 403.0,2211.2 404.0,2211.5 405.0,2210.6 406.0,2211.7 407.0,2210.9 408.0,2212.2 409.0,2211.2 410.0,2211.9 411.0,2210.6 412.0,2211.6 413.0,2210.9 414.0,2211.1 415.0,2211.3 416.0,2211.2 417.0,2211.5 418.0,2211.7 419.0,2211.7 420.0,2211.3 421.0,2210.7 422.0,2210.9 423.0,2211.2 424.0,2210.3 425.0,2211.7 426.0,2211.2 427.0,2211.2 428.0,2211.8 429.0,2211.7 430.0,2211.4 431.0,2210.8 432.0,2211.5 433.0,2211.5 434.0,2212.6 435.0,2211.8 436.0,2211.6 437.0,2210.3 438.0,2211.4 439.0,2210.7 440.0,2211.9 441.0,2211.7 442.0,2210.8 443.0,2210.9 444.0,2211.4 445.0,2211.2 446.0,2212.1 447.0,2211.7 448.0,2211.2 449.0,2211.6 450.0,2210.3 451.0,2211.5 452.0,2211.7 453.0,2211.2 454.0,2210.9 455.0,2211.6 456.0,2212.3 457.0,2211.4 458.0,2210.7 459.0,2212.0 460.0,2210.4 461.0,2211.6 462.0,2211.0 463.0,2211.8 464.0,2210.9 465.0,2212.0 466.0,2211.5 467.0,2210.5 468.0,2210.4 469.0,2211.2 470.0,2212.0 471.0,2211.4 472.0,2211.4 473.0,2211.3 474.0,2211.8 475.0,2211.6 476.0,2211.5 477.0,2210.9 478.0,2212.0 479.0,2212.1 480.0,2210.8 481.0,2212.6 482.0,2211.8 483.0,2211.2 484.0,2210.5 485.0,2211.8 486.0,2211.8 487.0,2211.2 488.0,2210.6 489.0,2212.1 490.0,2211.2 491.0,2211.3 492.0,2213.0 493.0,2213.2 494.0,2212.1 495.0,2211.4 496.0,2211.9 497.0,2210.5 498.0,2211.7 499.0,2211.3 500.0,2211.0 501.0,2210.9 502.0,2211.9 503.0,2211.7 504.0,2211.8 505.0,2212.1 506.0,2211.3 507.0,2211.1 508.0,2210.8 509.0,2211.5 510.0,2212.1 511.0,2211.7 512.0,2212.1 513.0,2211.2 514.0,2211.5 515.0,2211.4 516.0,2211.1 517.0,2212.7 518.0,2212.2 519.0,2211.4 520.0,2211.4 521.0,2211.7 522.0,2211.1 523.0,2212.0 524.0,2211.1 525.0,2211.6 526.0,2211.3 527.0,2211.5 528.0,2211.1 529.0,2211.0 530.0,2211.3 531.0,2211.4 532.0,2211.6 533.0,2211.8 534.0,2212.5 535.0,2212.1 536.0,2211.6 537.0,2212.1 538.0,2211.4 539.0,2212.4 540.0,2212.0 541.0,2211.0 542.0,2210.7 543.0,2212.0 544.0,2210.3 545.0,2211.2 546.0,2211.3 547.0,2210.6 548.0,2211.0 549.0,2211.0 550.0,2211.7 551.0,2211.6 552.0,2212.7 553.0,2211.1 554.0,2211.9 555.0,2211.3 556.0,2211.3 557.0,2210.6 558.0,2210.2 559.0,2210.7 560.0,2211.4 561.0,2211.7 562.0,2211.2 563.0,2211.1 564.0,2210.3 565.0,2211.4 566.0,2211.2 567.0,2210.2 568.0,2208.3 569.0,2209.8 570.0,2210.9 571.0,2210.2 572.0,2209.8 573.0,2209.9 574.0,2209.7 575.0,2208.9 576.0,2208.2 577.0,2207.1 578.0,2207.2 579.0,2207.9 580.0,2208.4 581.0,2206.1 582.0,2206.6 583.0,2206.4 584.0,2205.2 585.0,2205.4 586.0,2204.2 587.0,2204.8 588.0,2203.3 589.0,2202.9 590.0,2202.4 591.0,2200.8 592.0,2199.0 593.0,2198.2 594.0,2197.2 595.0,2194.9 596.0,2193.0 597.0,2189.7 598.0,2186.9 599.0,2183.0 600.0,2177.6 601.0,2172.8 602.0,2165.3 603.0,2157.7 604.0,2149.8 605.0,2143.3 606.0,2135.5 607.0,2129.7 608.0,2124.0 609.0,2120.5 610.0,2117.9 611.0,2116.8 612.0,2118.3 613.0,2121.7 614.0,2125.4 615.0,2132.6 616.0,2139.1 617.0,2146.1 618.0,2153.0 619.0,2160.6 620.0,2166.2 621.0,2172.4 622.0,2176.6 623.0,2180.3 624.0,2182.2 625.0,2183.7 626.0,2184.1 627.0,2181.3 628.0,2180.5 629.0,2176.9 630.0,2174.0 631.0,2171.4 632.0,2167.1 633.0,2162.6 634.0,2156.4 635.0,2151.3 636.0,2144.4 637.0,2135.3 638.0,2125.4 639.0,2119.6 640.0,2114.6 641.0,2112.2 642.0,2110.6 643.0,2111.8 644.0,2113.6 645.0,2118.2 646.0,2125.0 647.0,2134.4 648.0,2143.6 649.0,2151.2 650.0,2157.5 651.0,2164.2 652.0,2169.2 653.0,2174.6 654.0,2177.7 655.0,2180.2 656.0,2183.2 657.0,2185.7 658.0,2188.2 659.0,2191.8 660.0,2193.4 661.0,2194.0 662.0,2196.8 663.0,2197.0 664.0,2197.3 665.0,2198.7 666.0,2199.1 667.0,2199.5 668.0,2199.7 669.0,2201.4 670.0,2202.3 671.0,2201.6 672.0,2203.9 673.0,2204.7 674.0,2204.7 675.0,2205.6 676.0,2205.8 677.0,2206.0 678.0,2206.7 679.0,2208.0 680.0,2207.0 681.0,2208.2 682.0,2209.3 683.0,2208.4 684.0,2208.8 685.0,2208.5 686.0,2208.1 687.0,2209.5 688.0,2209.8 689.0,2209.3 690.0,2211.3 691.0,2209.6 692.0,2210.0 693.0,2209.9 694.0,2209.9 695.0,2210.8 696.0,2210.0 697.0,2210.9 698.0,2210.9 699.0,2209.8 700.0,2210.9 701.0,2210.1 702.0,2211.9 703.0,2210.3 704.0,2210.1 705.0,2208.4 706.0,2210.0 707.0,2210.4 708.0,2210.2 709.0,2210.1 710.0,2210.4 711.0,2210.7 712.0,2211.6 713.0,2210.0 714.0,2210.6 715.0,2210.4 716.0,2210.2 717.0,2210.3 718.0,2210.5 719.0,2211.3 720.0,2210.9 721.0,2210.7 722.0,2211.3 723.0,2211.2 724.0,2211.0 725.0,2211.3 726.0,2210.7 727.0,2211.4 728.0,2211.4 729.0,2210.9 730.0,2210.5 731.0,2211.9 732.0,2211.2 733.0,2212.7 734.0,2210.9 735.0,2211.6 736.0,2211.0 737.0,2211.3 738.0,2211.6 739.0,2210.8 740.0,2211.2 741.0,2211.3 742.0,2211.3 743.0,2211.6 744.0,2211.8 745.0,2211.7 746.0,2211.4 747.0,2211.1 748.0,2210.7 749.0,2210.9 750.0,2211.0 751.0,2211.6 752.0,2211.1 753.0,2210.7 754.0,2212.6 755.0,2210.9 756.0,2210.9 757.0,2211.2 758.0,2211.6 759.0,2210.1 760.0,2210.8 761.0,2211.4 762.0,2211.1 763.0,2210.9 764.0,2211.1 765.0,2212.0 766.0,2211.1 767.0,2211.7 768.0,2211.7 769.0,2211.1 770.0,2211.6 771.0,2211.1 772.0,2211.0 773.0,2210.8 774.0,2211.8 775.0,2211.1 776.0,2211.1 777.0,2210.8 778.0,2212.2 779.0,2211.7 780.0,2211.3 781.0,2211.0 782.0,2210.6 783.0,2211.5 784.0,2211.5 785.0,2210.6 786.0,2211.9 787.0,2211.7 788.0,2210.8 789.0,2211.0 790.0,2211.1 791.0,2211.4 792.0,2211.2 793.0,2210.5 794.0,2212.1 795.0,2211.5 796.0,2213.6 797.0,2211.9 798.0,2211.2 799.0,2211.5 800.0,2211.7 801.0,2211.7 802.0,2211.2 803.0,2211.0 804.0,2211.3 805.0,2210.9 806.0,2211.0 807.0,2210.3 808.0,2211.3 809.0,2210.8 810.0,2211.0 811.0,2211.2 812.0,2211.4 813.0,2212.2 814.0,2211.4 815.0,2210.5 816.0,2211.3 817.0,2211.0 818.0,2211.4 819.0,2210.9 820.0,2210.9 821.0,2211.0 822.0,2210.9 823.0,2210.3 824.0,2210.9 825.0,2211.2 826.0,2211.8 827.0,2211.1 828.0,2211.0 829.0,2211.5 830.0,2211.5 831.0,2212.0 832.0,2211.5 833.0,2211.2 834.0,2211.9 835.0,2211.9 836.0,2210.9 837.0,2211.3 838.0,2210.3 839.0,2211.0 840.0,2210.7 841.0,2211.1 842.0,2210.9 843.0,2211.1 844.0,2211.1 845.0,2211.4 846.0,2211.3 847.0,2210.9 848.0,2210.5 849.0,2211.8 850.0,2211.8 851.0,2210.9 852.0,2211.4 853.0,2210.4 854.0,2210.3 855.0,2211.0 856.0,2211.8 857.0,2210.6 858.0,2210.7 859.0,2211.9 860.0,2210.2 861.0,2211.4 862.0,2211.3 863.0,2211.0 864.0,2211.2 865.0,2212.4 866.0,2210.5 867.0,2210.9 868.0,2211.0 869.0,2210.7 870.0,2210.4 871.0,2211.9 872.0,2211.2 873.0,2210.7 874.0,2210.7 875.0,2211.3 876.0,2211.3 877.0,2210.3 878.0,2211.0 879.0,2211.2 880.0,2211.2 881.0,2211.2 882.0,2210.1 883.0,2212.0 884.0,2211.1 885.0,2211.9 886.0,2212.5 887.0,2208.9 888.0,2210.4 889.0,2211.5 890.0,2210.9 891.0,2210.8 892.0,2210.5 893.0,2211.9 894.0,2210.8 895.0,2210.3 896.0,2210.8 897.0,2210.4 898.0,2211.1 899.0,2210.8 900.0,2210.5 901.0,2211.3 902.0,2210.7 903.0,2211.4 904.0,2211.6 905.0,2210.8 906.0,2210.7 907.0,2211.1 908.0,2211.4 909.0,2211.0 910.0,2211.1 911.0,2211.0 912.0,2211.1 913.0,2211.3 914.0,2210.6 915.0,2210.7 916.0,2211.0 917.0,2210.6 918.0,2211.0 919.0,2210.6 920.0,2211.0 921.0,2210.7 922.0,2210.6 923.0,2211.9 924.0,2211.4 925.0,2210.4 926.0,2210.6 927.0,2211.9 928.0,2211.7 929.0,2211.0 930.0,2211.5 931.0,2210.2 932.0,2211.0 933.0,2211.3 934.0,2210.0 935.0,2210.6 936.0,2211.4 937.0,2211.5 938.0,2210.7 939.0,2211.1 940.0,2211.8 941.0,2210.8 942.0,2210.3 943.0,2210.9 944.0,2210.8 945.0,2211.6 946.0,2211.0 947.0,2210.6 948.0,2212.2 949.0,2210.7 950.0,2211.2 951.0,2211.3 952.0,2211.3 953.0,2211.0 954.0,2211.2 955.0,2210.9 956.0,2210.2 957.0,2210.8 958.0,2210.9 959.0,2210.9 960.0,2211.0 961.0,2210.6 962.0,2211.6 963.0,2211.7 964.0,2209.9 965.0,2211.0 966.0,2210.6 967.0,2209.7 968.0,2211.2 969.0,2210.6 970.0,2210.8 971.0,2210.6 972.0,2211.5 973.0,2211.6 974.0,2211.1 975.0,2211.3 976.0,2215.2 977.0,2211.0 978.0,2210.6 979.0,2211.0 980.0,2210.6 981.0,2211.1 982.0,2211.4 983.0,2211.1 984.0,2211.5 985.0,2212.3 986.0,2209.9 987.0,2211.0 988.0,2210.7 989.0,2210.7 990.0,2210.3 991.0,2211.0 992.0,2210.8 993.0,2210.6 994.0,2210.8 995.0,2210.7 996.0,2209.8 997.0,2209.4 998.0,2210.8 999.0,2210.5 1000.0,2211.1 1001.0,2210.6 1002.0,2209.9 1003.0,2211.4 1004.0,2210.1 1005.0,2210.8 1006.0,2211.0 1007.0,2211.6 1008.0,2211.6 1009.0,2211.0 1010.0,2210.6 1011.0,2210.8 1012.0,2211.5 1013.0,2211.9 1014.0,2211.2 1015.0,2210.6 1016.0,2211.5 1017.0,2210.8 1018.0,2210.0 1019.0,2210.8 1020.0,2211.3 1021.0,2211.1 1022.0,2211.5 1023.0,2211.6 1024.0,2211.2 1025.0,2209.8 1026.0,2210.1 1027.0,2211.0 1028.0,2210.9 1029.0,2212.0 1030.0,2211.0 1031.0,2210.9 1032.0,2211.4 1033.0,2211.5 1034.0,2210.9 1035.0,2211.2 1036.0,2210.4 1037.0,2210.5 1038.0,2211.6 1039.0,2210.3 1040.0,2211.4 1041.0,2211.3 1042.0,2211.4 1043.0,2211.4 1044.0,2211.3 1045.0,2209.9 1046.0,2210.5 1047.0,2210.7 1048.0,2211.4 1049.0,2210.4 1050.0,2210.6 1051.0,2210.8 1052.0,2211.6 1053.0,2210.3 1054.0,2210.3 1055.0,2211.3 1056.0,2209.9 1057.0,2211.2 1058.0,2210.8 1059.0,2210.2 1060.0,2210.8 1061.0,2210.5 1062.0,2211.1 1063.0,2211.2 1064.0,2211.7 1065.0,2211.0 1066.0,2211.0 1067.0,2210.7 1068.0,2211.0 1069.0,2211.5 1070.0,2210.0 1071.0,2211.3 1072.0,2210.7 1073.0,2211.0 1074.0,2211.2 1075.0,2211.4 1076.0,2211.1 1077.0,2210.8 1078.0,2211.2 1079.0,2211.0 1080.0,2210.9 1081.0,2211.1 1082.0,2211.4 1083.0,2211.1 1084.0,2211.1 1085.0,2210.4 1086.0,2212.8 1087.0,2210.1 1088.0,2211.4 1089.0,2210.5 1090.0,2211.6 1091.0,2212.5 1092.0,2210.8 1093.0,2211.7 1094.0,2211.2 1095.0,2210.7 1096.0,2210.6 1097.0,2211.3 1098.0,2211.7 1099.0,2209.3 1100.0,2210.2 1101.0,2210.5 1102.0,2210.9 1103.0,2211.7 1104.0,2211.1 1105.0,2211.2 1106.0,2211.6 1107.0,2210.9 1108.0,2211.0 1109.0,2210.9 1110.0,2210.1 1111.0,2211.3 1112.0,2211.2 1113.0,2211.5 1114.0,2210.5 1115.0,2210.6 1116.0,2211.5 1117.0,2211.2 1118.0,2211.8 1119.0,2210.7 1120.0,2211.2 1121.0,2210.8 1122.0,2211.3 1123.0,2210.9 1124.0,2211.4 1125.0,2211.7 1126.0,2211.5 1127.0,2210.3 1128.0,2211.6 1129.0,2211.4 1130.0,2210.0 1131.0,2210.8 1132.0,2211.2 1133.0,2211.5 1134.0,2211.0 1135.0,2210.4 1136.0,2211.4 1137.0,2213.9 1138.0,2212.5 1139.0,2210.6 1140.0,2212.6 1141.0,2212.2 1142.0,2211.5 1143.0,2212.2 1144.0,2211.4 1145.0,2211.8 1146.0,2211.0 1147.0,2211.4 1148.0,2210.9 1149.0,2210.6 1150.0,2211.3 1151.0,2211.1 1152.0,2211.7 1153.0,2212.1 1154.0,2211.3 1155.0,2211.5 1156.0,2211.5 1157.0,2210.6 1158.0,2211.6 1159.0,2211.5 1160.0,2211.4 1161.0,2210.9 1162.0,2210.5 1163.0,2211.4 1164.0,2211.6 1165.0,2212.2 1166.0,2212.1 1167.0,2212.2 1168.0,2211.7 1169.0,2212.1 1170.0,2211.4 1171.0,2211.8 1172.0,2212.0 1173.0,2212.8 1174.0,2211.6 1175.0,2210.9 1176.0,2212.2 1177.0,2211.1 1178.0,2211.4 1179.0,2211.3 1180.0,2211.0 1181.0,2212.1 1182.0,2211.7 1183.0,2211.1 1184.0,2211.5 1185.0,2211.2 1186.0,2211.7 1187.0,2211.2 1188.0,2211.0 1189.0,2211.0 1190.0,2211.1 1191.0,2211.4 1192.0,2210.8 1193.0,2211.2 1194.0,2211.4 1195.0,2212.3 1196.0,2211.6 1197.0,2209.6 1198.0,2210.8 1199.0,2210.8 1200.0,2211.2 1201.0,2211.7 1202.0,2211.3 1203.0,2209.7 1204.0,2210.9 1205.0,2210.7 1206.0,2210.8 1207.0,2211.2 1208.0,2209.9 1209.0,2210.8 1210.0,2209.3 1211.0,2210.1 1212.0,2210.1 1213.0,2210.9 1214.0,2209.3 1215.0,2208.7 1216.0,2209.7 1217.0,2208.8 1218.0,2209.7 1219.0,2208.3 1220.0,2209.9 1221.0,2208.7 1222.0,2207.8 1223.0,2207.9 1224.0,2206.3 1225.0,2207.5 1226.0,2206.0 1227.0,2206.3 1228.0,2205.0 1229.0,2204.2 1230.0,2204.3 1231.0,2203.8 1232.0,2203.7 1233.0,2202.2 1234.0,2201.2 1235.0,2199.8 1236.0,2199.5 1237.0,2195.8 1238.0,2194.9 1239.0,2192.1 1240.0,2190.1 1241.0,2187.6 1242.0,2186.4 1243.0,2183.5 1244.0,2182.2 1245.0,2182.0 1246.0,2181.4 1247.0,2182.5 1248.0,2182.9 1249.0,2182.4 1250.0,2183.5 1251.0,2179.6 1252.0,2184.0 1253.0,2185.1 1254.0,2187.5 1255.0,2187.8 1256.0,2187.6 1257.0,2186.4 1258.0,2186.5 1259.0,2181.0 1260.0,2178.1 1261.0,2174.2 1262.0,2168.8 1263.0,2164.6 1264.0,2159.6 1265.0,2152.7 1266.0,2147.5 1267.0,2144.2 1268.0,2140.7 1269.0,2138.7 1270.0,2134.6 1271.0,2132.5 1272.0,2131.3 1273.0,2130.7 1274.0,2131.3 1275.0,2132.6 1276.0,2133.6 1277.0,2131.4 1278.0,2136.5 1279.0,2139.3 1280.0,2144.2 1281.0,2149.7 1282.0,2157.6 1283.0,2160.4 1284.0,2163.6 1285.0,2168.0 1286.0,2171.4 1287.0,2173.5 1288.0,2174.5 1289.0,2175.3 1290.0,2176.8 1291.0,2175.9 1292.0,2173.7 1293.0,2170.5 1294.0,2168.8 1295.0,2165.6 1296.0,2161.8 1297.0,2158.4 1298.0,2154.2 1299.0,2152.4 1300.0,2147.7 1301.0,2148.5 1302.0,2148.1 1303.0,2148.3 1304.0,2150.3 1305.0,2151.1 1306.0,2153.9 1307.0,2156.8 1308.0,2160.1 1309.0,2163.7 1310.0,2168.4 1311.0,2171.7 1312.0,2174.8 1313.0,2177.9 1314.0,2180.7 1315.0,2184.2 1316.0,2185.1 1317.0,2186.6 1318.0,2187.5 1319.0,2188.3 1320.0,2188.8 1321.0,2190.5 1322.0,2191.1 1323.0,2191.3 1324.0,2191.9 1325.0,2193.4 1326.0,2194.4 1327.0,2195.1 1328.0,2197.0 1329.0,2198.0 1330.0,2199.0 1331.0,2200.3 1332.0,2200.5 1333.0,2202.3 1334.0,2201.9 1335.0,2203.3 1336.0,2204.0 1337.0,2204.1 1338.0,2204.8 1339.0,2204.5 1340.0,2204.7 1341.0,2205.7 1342.0,2205.8 1343.0,2206.7 1344.0,2206.7 1345.0,2207.2 1346.0,2207.3 1347.0,2207.4 1348.0,2207.5 1349.0,2207.5 1350.0,2207.6 1351.0,2209.0 1352.0,2207.2 1353.0,2208.2 1354.0,2208.9 1355.0,2208.6 1356.0,2209.3 1357.0,2209.0 1358.0,2206.5 1359.0,2208.7 1360.0,2208.3 1361.0,2209.6 1362.0,2209.9 1363.0,2209.0 1364.0,2209.5 1365.0,2209.1 1366.0,2208.7 1367.0,2209.2 1368.0,2208.7 1369.0,2209.3 1370.0,2209.7 1371.0,2210.0 1372.0,2210.3 1373.0,2209.5 1374.0,2209.9 1375.0,2210.0 1376.0,2210.1 1377.0,2208.4 1378.0,2209.5 1379.0,2210.3 1380.0,2209.4 1381.0,2210.1 1382.0,2210.4 1383.0,2209.1 1384.0,2210.0 1385.0,2210.2 1386.0,2210.1 1387.0,2209.4 1388.0,2210.4 1389.0,2209.9 1390.0,2210.6 1391.0,2210.5 1392.0,2210.0 1393.0,2210.4 1394.0,2210.0 1395.0,2210.0 1396.0,2209.6 1397.0,2210.3 1398.0,2210.8 1399.0,2210.5 1400.0,2210.5 1401.0,2210.2 1402.0,2210.2 1403.0,2210.9 1404.0,2209.8 1405.0,2211.6 1406.0,2210.6 1407.0,2211.7 1408.0,2211.2 1409.0,2210.5 1410.0,2211.0 1411.0,2210.8 1412.0,2211.0 1413.0,2211.1 1414.0,2210.5 1415.0,2210.5 1416.0,2210.6 1417.0,2210.1 1418.0,2210.7 1419.0,2211.0 1420.0,2211.0 1421.0,2211.0 1422.0,2210.7 1423.0,2211.3 1424.0,2209.9 1425.0,2210.8 1426.0,2210.8 1427.0,2211.5 1428.0,2211.4 1429.0,2211.4 1430.0,2211.1 1431.0,2211.5 1432.0,2210.6 1433.0,2211.1 1434.0,2211.7 1435.0,2212.0 1436.0,2211.9 1437.0,2210.9 1438.0,2210.7 1439.0,2210.1 1440.0,2210.4 1441.0,2211.3 1442.0,2211.1 1443.0,2210.5 1444.0,2211.0 1445.0,2210.9 1446.0,2211.5 1447.0,2211.6 1448.0,2211.2 1449.0,2211.3 1450.0,2211.3 1451.0,2210.3 1452.0,2211.4 1453.0,2211.3 1454.0,2211.7 1455.0,2210.4 1456.0,2211.7 1457.0,2211.0 1458.0,2211.5 1459.0,2211.9 1460.0,2210.6 1461.0,2210.7 1462.0,2211.8 1463.0,2210.8 1464.0,2210.9 1465.0,2211.6 1466.0,2211.2 1467.0,2211.7 1468.0,2211.5 1469.0,2211.3 1470.0,2213.6 1471.0,2212.4 1472.0,2212.8 1473.0,2212.0 1474.0,2211.8 1475.0,2211.3 1476.0,2211.4 1477.0,2210.7 1478.0,2210.8 1479.0,2211.3 1480.0,2211.1 1481.0,2211.7 1482.0,2210.4 1483.0,2210.8 1484.0,2210.6 1485.0,2210.8 1486.0,2211.5 1487.0,2210.2 1488.0,2211.2 1489.0,2210.4 1490.0,2210.5 1491.0,2216.0 1492.0,2210.4 1493.0,2210.8 1494.0,2210.5 1495.0,2210.3 1496.0,2210.1 1497.0,2209.3 1498.0,2209.7 1499.0,2210.1 1500.0,2210.0 1501.0,2209.1 1502.0,2210.2 1503.0,2209.9 1504.0,2208.8 1505.0,2208.9 1506.0,2209.5 1507.0,2208.2 1508.0,2208.6 1509.0,2208.8 1510.0,2208.6 1511.0,2208.4 1512.0,2208.4 1513.0,2207.6 1514.0,2207.6 1515.0,2208.6 1516.0,2206.6 1517.0,2206.8 1518.0,2206.7 1519.0,2206.0 1520.0,2206.6 1521.0,2205.5 1522.0,2205.2 1523.0,2202.8 1524.0,2203.9 1525.0,2203.0 1526.0,2201.1 1527.0,2201.0 1528.0,2200.7 1529.0,2198.6 1530.0,2197.9 1531.0,2195.7 1532.0,2193.6 1533.0,2192.3 1534.0,2189.5 1535.0,2187.0 1536.0,2183.7 1537.0,2179.6 1538.0,2175.0 1539.0,2167.5 1540.0,2158.3 1541.0,2150.5 1542.0,2139.8 1543.0,2130.3 1544.0,2120.2 1545.0,2110.6 1546.0,2100.9 1547.0,2092.7 1548.0,2086.1 1549.0,2081.5 1550.0,2078.7 1551.0,2075.9 1552.0,2076.6 1553.0,2077.7 1554.0,2081.3 1555.0,2085.1 1556.0,2090.4 1557.0,2095.5 1558.0,2100.0 1559.0,2103.7 1560.0,2105.1 1561.0,2106.5 1562.0,2104.3 1563.0,2101.9 1564.0,2096.9 1565.0,2092.2 1566.0,2084.2 1567.0,2078.0 1568.0,2068.3 1569.0,2060.0 1570.0,2049.9 1571.0,2038.0 1572.0,2026.6 1573.0,2014.0 1574.0,2005.7 1575.0,1998.0 1576.0,1993.8 1577.0,1991.1 1578.0,1992.9 1579.0,1996.4 1580.0,2002.0 1581.0,2009.9 1582.0,2020.2 1583.0,2034.8 1584.0,2047.6 1585.0,2059.0 1586.0,2071.1 1587.0,2080.5 1588.0,2092.5 1589.0,2102.0 1590.0,2110.7 1591.0,2118.3 1592.0,2125.4 1593.0,2131.7 1594.0,2138.8 1595.0,2143.9 1596.0,2149.8 1597.0,2155.0 1598.0,2160.0 1599.0,2164.7 1600.0,2168.8 1601.0,2171.2 1602.0,2173.8 1603.0,2175.6 1604.0,2177.6 1605.0,2179.4 1606.0,2182.9 1607.0,2183.6 1608.0,2185.8 1609.0,2187.4 1610.0,2188.8 1611.0,2190.0 1612.0,2191.9 1613.0,2192.5 1614.0,2195.0 1615.0,2194.6 1616.0,2194.8 1617.0,2196.4 1618.0,2195.6 1619.0,2198.0 1620.0,2196.3 1621.0,2196.8 1622.0,2196.6 1623.0,2197.1 1624.0,2197.7 1625.0,2196.3 1626.0,2195.6 1627.0,2197.1 1628.0,2195.9 1629.0,2195.7 1630.0,2194.4 1631.0,2194.6 1632.0,2194.1 1633.0,2191.9 1634.0,2192.3 1635.0,2191.1 1636.0,2189.9 1637.0,2189.7 1638.0,2189.2 1639.0,2187.0 1640.0,2180.9 1641.0,2185.0 1642.0,2182.4 1643.0,2180.2 1644.0,2177.0 1645.0,2175.1 1646.0,2173.3 1647.0,2171.0 1648.0,2168.4 1649.0,2166.2 1650.0,2162.0 1651.0,2157.6 1652.0,2154.5 1653.0,2152.0 1654.0,2150.5 1655.0,2148.4 1656.0,2148.3 1657.0,2151.0 1658.0,2150.0 1659.0,2151.6 1660.0,2153.4 1661.0,2155.4 1662.0,2156.2 1663.0,2157.5 1664.0,2160.3 1665.0,2161.4 1666.0,2162.8 1667.0,2159.8 1668.0,2154.6 1669.0,2146.8 1670.0,2140.4 1671.0,2128.5 1672.0,2118.3 1673.0,2105.5 1674.0,2093.0 1675.0,2079.2 1676.0,2068.7 1677.0,2058.0 1678.0,2048.2 1679.0,2039.4 1680.0,2030.7 1681.0,2022.2 1682.0,2016.3 1683.0,2012.2 1684.0,2013.8 1685.0,2014.1 1686.0,2016.1 1687.0,2022.2 1688.0,2030.7 1689.0,2039.7 1690.0,2053.9 1691.0,2061.7 1692.0,2070.3 1693.0,2078.2 1694.0,2085.3 1695.0,2088.4 1696.0,2091.8 1697.0,2091.3 1698.0,2089.5 1699.0,2082.5 1700.0,2074.7 1701.0,2063.4 1702.0,2050.0 1703.0,2035.1 1704.0,2020.1 1705.0,2005.8 1706.0,1994.0 1707.0,1981.3 1708.0,1970.3 1709.0,1961.5 1710.0,1955.7 1711.0,1953.6 1712.0,1954.6 1713.0,1962.6 1714.0,1969.5 1715.0,1984.1 1716.0,1998.5 1717.0,2013.7 1718.0,2030.0 1719.0,2044.3 1720.0,2055.9 1721.0,2066.4 1722.0,2074.5 1723.0,2081.0 1724.0,2082.5 1725.0,2083.9 1726.0,2081.4 1727.0,2076.0 1728.0,2070.4 1729.0,2061.2 1730.0,2049.5 1731.0,2038.4 1732.0,2025.5 1733.0,2012.2 1734.0,1999.8 1735.0,1990.5 1736.0,1983.1 1737.0,1979.9 1738.0,1978.4 1739.0,1978.2 1740.0,1980.2 1741.0,1985.9 1742.0,1995.2 1743.0,2006.6 1744.0,2020.7 1745.0,2034.9 1746.0,2050.7 1747.0,2064.8 1748.0,2081.5 1749.0,2101.8 1750.0,2109.8 1751.0,2120.6 1752.0,2129.7 1753.0,2137.8 1754.0,2143.1 1755.0,2148.1 1756.0,2152.8 1757.0,2151.5 1758.0,2151.5 1759.0,2148.4 1760.0,2144.8 1761.0,2140.3 1762.0,2135.1 1763.0,2129.3 1764.0,2124.8 1765.0,2118.7 1766.0,2114.6 1767.0,2112.8 1768.0,2110.8 1769.0,2111.9 1770.0,2112.4 1771.0,2115.4 1772.0,2119.2 1773.0,2125.4 1774.0,2130.7 1775.0,2137.2 1776.0,2143.3 1777.0,2149.4 1778.0,2155.1 1779.0,2160.2 1780.0,2164.7 1781.0,2168.2 1782.0,2170.7 1783.0,2174.9 1784.0,2178.4 1785.0,2180.5 1786.0,2183.7 1787.0,2184.9 1788.0,2186.1 1789.0,2187.8 1790.0,2190.2 1791.0,2191.3 1792.0,2192.2 1793.0,2193.7 1794.0,2193.8 1795.0,2195.3 1796.0,2195.5 1797.0,2196.4 1798.0,2197.6 1799.0,2197.5 1800.0,2198.8 1801.0,2199.3 1802.0,2198.7 1803.0,2200.7 1804.0,2199.3 1805.0,2200.2 1806.0,2200.9 1807.0,2199.7 1808.0,2201.5 1809.0,2201.7 1810.0,2201.2 1811.0,2206.0 1812.0,2201.6 1813.0,2201.5 1814.0,2202.2 1815.0,2201.6 1816.0,2204.2 1817.0,2202.1 1818.0,2202.4 1819.0,2202.5 1820.0,2201.2 1821.0,2201.0 1822.0,2201.9 1823.0,2202.0 1824.0,2201.4 1825.0,2201.9 1826.0,2202.3 1827.0,2202.1 1828.0,2202.7 1829.0,2201.2 1830.0,2201.7 1831.0,2202.6 1832.0,2201.8 1833.0,2200.8 1834.0,2201.3 1835.0,2201.7 1836.0,2202.0 1837.0,2201.1 1838.0,2201.1 1839.0,2199.7 1840.0,2199.9 1841.0,2200.3 1842.0,2198.8 1843.0,2198.7 1844.0,2197.2 1845.0,2198.3 1846.0,2196.7 1847.0,2196.3 1848.0,2194.3 1849.0,2193.4 1850.0,2193.9 1851.0,2191.8 1852.0,2190.7 1853.0,2190.2 1854.0,2189.1 1855.0,2186.3 1856.0,2184.9 1857.0,2183.1 1858.0,2180.0 1859.0,2176.6 1860.0,2172.4 1861.0,2168.4 1862.0,2164.4 1863.0,2159.7 1864.0,2152.5 1865.0,2151.4 1866.0,2148.0 1867.0,2144.9 1868.0,2142.6 1869.0,2141.5 1870.0,2141.3 1871.0,2142.1 1872.0,2143.4 1873.0,2144.4 1874.0,2147.9 1875.0,2149.2 1876.0,2153.1 1877.0,2155.5 1878.0,2158.9 1879.0,2161.5 1880.0,2162.2 1881.0,2165.0 1882.0,2162.8 1883.0,2160.3 1884.0,2158.1 1885.0,2153.9 1886.0,2149.8 1887.0,2144.5 1888.0,2140.3 1889.0,2134.8 1890.0,2129.2 1891.0,2122.9 1892.0,2118.9 1893.0,2114.7 1894.0,2110.8 1895.0,2109.2 1896.0,2109.0 1897.0,2110.5 1898.0,2110.5 1899.0,2115.0 1900.0,2119.0 1901.0,2126.0 1902.0,2131.9 1903.0,2138.3 1904.0,2144.6 1905.0,2149.4 1906.0,2155.0 1907.0,2159.0 1908.0,2162.9 1909.0,2166.2 1910.0,2168.0 1911.0,2169.5 1912.0,2172.0 1913.0,2172.6 1914.0,2172.7 1915.0,2171.9 1916.0,2172.1 1917.0,2172.1 1918.0,2171.5 1919.0,2170.3 1920.0,2170.3 1921.0,2169.6 1922.0,2170.0 1923.0,2171.2 1924.0,2172.1 1925.0,2173.9 1926.0,2176.3 1927.0,2178.6 1928.0,2180.0 1929.0,2182.5 1930.0,2184.3 1931.0,2186.6 1932.0,2191.8 1933.0,2191.4 1934.0,2192.7 1935.0,2195.7 1936.0,2196.6 1937.0,2198.1 1938.0,2199.6 1939.0,2200.6 1940.0,2201.2 1941.0,2201.0 1942.0,2201.9 1943.0,2202.8 1944.0,2202.9 1945.0,2202.9 1946.0,2205.0 1947.0,2204.7 1948.0,2205.0 1949.0,2205.6 1950.0,2208.8 1951.0,2205.1 1952.0,2206.4 1953.0,2206.8 1954.0,2206.8 1955.0,2207.5 1956.0,2207.9 1957.0,2206.7 1958.0,2207.0 1959.0,2207.8 1960.0,2207.6 1961.0,2207.7 1962.0,2208.1 1963.0,2208.1 1964.0,2207.6 1965.0,2207.9 1966.0,2207.6 1967.0,2207.9 1968.0,2206.9 1969.0,2207.1 1970.0,2207.9 1971.0,2207.9 1972.0,2208.7 1973.0,2209.1 1974.0,2208.4 1975.0,2208.6 1976.0,2208.1 1977.0,2208.0 1978.0,2208.4 1979.0,2208.4 1980.0,2208.7 1981.0,2209.9 1982.0,2209.5 1983.0,2208.5 1984.0,2207.7 1985.0,2208.8 1986.0,2208.4 1987.0,2210.2 1988.0,2209.3 1989.0,2208.5 1990.0,2208.8 1991.0,2209.1 1992.0,2208.4 1993.0,2209.0 1994.0,2210.8 1995.0,2209.3 1996.0,2209.5 1997.0,2209.2 1998.0,2209.2 1999.0,2208.3 2000.0,2207.6 2001.0,2208.5 2002.0,2209.7 2003.0,2209.1 2004.0,2207.9 2005.0,2208.8 2006.0,2209.2 2007.0,2208.2 2008.0,2209.4 2009.0,2208.5 2010.0,2209.6 2011.0,2205.4 2012.0,2210.7 2013.0,2208.5 2014.0,2209.3 2015.0,2208.4 2016.0,2209.7 2017.0,2209.2 2018.0,2209.6 2019.0,2209.2 2020.0,2208.6 2021.0,2208.9 2022.0,2208.6 2023.0,2208.7 2024.0,2209.3 2025.0,2209.8 2026.0,2209.7 2027.0,2209.5 2028.0,2209.0 2029.0,2208.6 2030.0,2208.8 2031.0,2209.4 2032.0,2209.7 2033.0,2209.2 2034.0,2209.0 2035.0,2209.1 2036.0,2209.6 2037.0,2209.1 2038.0,2208.6 2039.0,2209.1 2040.0,2208.8 2041.0,2210.0 2042.0,2209.3 2043.0,2208.6 2044.0,2209.4 2045.0,2209.7 2046.0,2209.5 2047.0,2209.1 2048.0,2209.4 2049.0,2209.5 2050.0,2209.8 2051.0,2209.5 2052.0,2210.4 2053.0,2209.2 2054.0,2210.1 2055.0,2209.3 2056.0,2208.5 2057.0,2208.7 2058.0,2208.4 2059.0,2208.5 2060.0,2209.9 2061.0,2209.0 2062.0,2209.6 2063.0,2208.9 2064.0,2209.3 2065.0,2208.8 2066.0,2209.8 2067.0,2209.2 2068.0,2209.1 2069.0,2209.2 2070.0,2210.4 2071.0,2209.5 2072.0,2209.7 2073.0,2208.7 2074.0,2209.0 2075.0,2209.5 2076.0,2208.4 2077.0,2210.0 2078.0,2209.5 2079.0,2209.3 2080.0,2209.2 2081.0,2209.2 2082.0,2209.1 2083.0,2210.0 2084.0,2209.7 2085.0,2209.9 2086.0,2209.2 2087.0,2208.2 2088.0,2210.0 2089.0,2208.7 2090.0,2209.0 2091.0,2209.7 2092.0,2209.9 2093.0,2208.7 2094.0,2208.5 2095.0,2209.3 2096.0,2209.2 2097.0,2208.9 2098.0,2209.6 2099.0,2209.0 2100.0,2209.2 2101.0,2208.2 2102.0,2209.3 2103.0,2208.3 2104.0,2209.7 2105.0,2209.6 2106.0,2209.1 2107.0,2209.4 2108.0,2209.4 2109.0,2209.2 2110.0,2209.5 2111.0,2209.2 2112.0,2209.1 2113.0,2208.9 2114.0,2210.1 2115.0,2209.4 2116.0,2209.3 2117.0,2209.7 2118.0,2209.1 2119.0,2209.1 2120.0,2209.6 2121.0,2209.8 2122.0,2209.6 2123.0,2208.6 2124.0,2209.3 2125.0,2209.3 2126.0,2209.5 2127.0,2208.9 2128.0,2208.8 2129.0,2209.2 2130.0,2208.9 2131.0,2208.8 2132.0,2209.3 2133.0,2209.8 2134.0,2209.4 2135.0,2209.8 2136.0,2208.8 2137.0,2209.6 2138.0,2209.3 2139.0,2208.9 2140.0,2209.1 2141.0,2208.9 2142.0,2209.2 2143.0,2208.9 2144.0,2209.9 2145.0,2209.1 2146.0,2208.6 2147.0,2209.2 2148.0,2209.5 2149.0,2209.5 2150.0,2209.7 2151.0,2208.8 2152.0,2208.9 2153.0,2210.1 2154.0,2209.3 2155.0,2209.6 2156.0,2209.5 2157.0,2209.6 2158.0,2209.3 2159.0,2209.2 2160.0,2209.8 2161.0,2209.1 2162.0,2209.4 2163.0,2209.6 2164.0,2209.1 2165.0,2208.5 2166.0,2209.5 2167.0,2209.8 2168.0,2209.4 2169.0,2208.5 2170.0,2209.6 2171.0,2210.3 2172.0,2208.5 2173.0,2208.0 2174.0,2209.2 2175.0,2209.3 2176.0,2209.7 2177.0,2209.7 2178.0,2209.4 2179.0,2209.6 2180.0,2209.5 2181.0,2209.4 2182.0,2209.3 2183.0,2209.2 2184.0,2209.7 2185.0,2209.5 2186.0,2209.1 2187.0,2209.8 2188.0,2209.0 2189.0,2209.2 2190.0,2209.4 2191.0,2208.4 2192.0,2209.1 2193.0,2209.7 2194.0,2209.7 2195.0,2208.7 2196.0,2208.9 2197.0,2208.8 2198.0,2209.2 2199.0,2209.3 2200.0,2208.5 2201.0,2209.5 2202.0,2209.4 2203.0,2209.3 2204.0,2209.0 2205.0,2209.2 2206.0,2208.4 2207.0,2209.4 2208.0,2209.4 2209.0,2209.3 2210.0,2208.7 2211.0,2209.9 2212.0,2209.9 2213.0,2208.4 2214.0,2209.5 2215.0,2209.4 2216.0,2208.1 2217.0,2209.6 2218.0,2209.6 2219.0,2209.7 2220.0,2212.1 2221.0,2209.0 2222.0,2209.1 2223.0,2209.6 2224.0,2209.9 2225.0,2209.1 2226.0,2209.2 2227.0,2209.7 2228.0,2208.3 2229.0,2208.0 2230.0,2209.2 2231.0,2208.2 2232.0,2209.7 2233.0,2208.9 2234.0,2209.7 2235.0,2210.0 2236.0,2208.7 2237.0,2208.7 2238.0,2209.3 2239.0,2208.5 2240.0,2209.7 2241.0,2209.4 2242.0,2209.8 2243.0,2208.4 2244.0,2209.4 2245.0,2209.5 2246.0,2208.4 2247.0,2209.8 2248.0,2210.2 2249.0,2209.4 2250.0,2208.7 2251.0,2209.7 2252.0,2210.1 2253.0,2209.3 2254.0,2209.3 2255.0,2210.0 2256.0,2209.1 2257.0,2209.3 2258.0,2209.4 2259.0,2209.5 2260.0,2210.1 2261.0,2209.9 2262.0,2210.3 2263.0,2209.3 2264.0,2209.9 2265.0,2208.9 2266.0,2209.8 2267.0,2210.2 2268.0,2210.5 2269.0,2208.7 2270.0,2209.3 2271.0,2209.7 2272.0,2208.9 2273.0,2209.6 2274.0,2209.6 2275.0,2209.1 2276.0,2209.1 2277.0,2208.9 2278.0,2209.5 2279.0,2210.0 2280.0,2209.5 2281.0,2210.7 2282.0,2208.6 2283.0,2209.1 2284.0,2209.7 2285.0,2208.8 2286.0,2209.5 2287.0,2209.7 2288.0,2208.5 2289.0,2209.2 2290.0,2209.8 2291.0,2209.6 2292.0,2209.7 2293.0,2209.6 2294.0,2209.0 2295.0,2208.8 2296.0,2209.2 2297.0,2209.4 2298.0,2209.3 2299.0,2209.8 2300.0,2209.5 2301.0,2209.8 2302.0,2209.4 2303.0,2209.0 2304.0,2209.8 2305.0,2209.6 2306.0,2208.9 2307.0,2208.6" fill="none" stroke="#0000ff" stroke-width="5.0" stroke-linejoin="round" stroke-linecap="butt"/><polyline points="254.0,388.0 242.5,389.4 251.3,390.7 246.1,392.1 251.2,393.4 246.5,394.8 254.0,396.1 246.5,397.5 252.1,398.8 240.4,400.2 250.3,401.5 245.8,402.9 250.2,404.2 245.1,405.6 251.6,406.9 245.6,408.3 250.7,409.6 245.9,411.0 251.9,412.3 246.7,413.7 250.6,415.0 244.7,416.4 251.9,417.7 246.6,419.1 251.0,420.4 246.1,421.8 255.2,423.1 246.0,424.5 250.2,425.8 244.4,427.2 251.1,428.5 245.6,429.9 251.0,431.2 245.1,432.6 249.6,433.9 244.7,435.3 263.0,436.6 234.8,438.0 253.9,439.3 242.9,440.7 249.8,442.0 239.2,443.4 250.0,444.7 244.1,446.1 249.4,447.4 245.6,448.8 251.9,450.1 237.4,451.5 249.6,452.8 243.9,454.2 249.7,455.5 244.1,456.9 250.2,458.2 241.6,459.6 250.6,460.9 244.5,462.3 249.4,463.6 241.0,465.0 249.9,466.3 244.4,467.7 251.6,469.0 244.9,470.4 250.0,471.7 243.0,473.1 251.3,474.4 242.5,475.8 255.0,477.1 242.2,478.5 251.4,479.8 242.9,481.2 247.9,482.5 242.9,483.9 250.4,485.2 241.9,486.6 248.0,487.9 241.8,489.3 249.6,490.6 243.6,492.0 247.6,493.3 240.1,494.7 249.1,496.0 241.2,497.4 247.3,498.7 240.6,500.1 246.9,501.4 241.3,502.8 247.3,504.1 241.2,505.5 248.5,506.8 240.2,508.2 247.3,509.5 242.0,510.9 246.3,512.2 241.1,513.6 247.8,514.9 238.8,516.3 245.1,517.6 239.2,519.0 246.1,520.3 240.8,521.7 245.1,523.0 240.5,524.4 244.9,525.7 239.6,527.1 245.7,528.4 240.6,529.8 248.7,531.1 239.8,532.5 244.3,533.8 235.6,535.2 245.9,536.5 236.9,537.9 246.4,539.2 238.7,540.6 243.5,541.9 237.8,543.3 246.2,544.6 236.5,546.0 244.0,547.3 236.4,548.7 243.8,550.0 237.2,551.4 242.0,552.7 237.4,554.1 245.5,555.4 237.8,556.8 242.9,558.1 237.7,559.5 244.3,560.8 236.2,562.2 243.2,563.5 235.1,564.9 240.3,566.2 234.8,567.6 242.2,568.9 234.4,570.3 238.9,571.6 233.9,573.0 247.5,574.3 232.4,575.7 238.1,577.0 231.3,578.4 239.1,579.7 229.7,581.1 233.7,582.4 225.8,583.8 239.2,585.1 224.1,586.5 228.6,587.8 219.7,589.2 225.3,590.5 219.7,591.9 243.4,593.2 213.8,594.6 219.3,595.9 212.9,597.3 215.7,598.6 207.4,600.0 210.3,601.3 201.9,602.7 209.0,604.0 194.6,605.4 194.8,606.7 185.3,608.1 186.5,609.4 173.4,610.8 178.1,612.1 163.3,613.5 161.2,614.8 151.3,616.2 152.3,617.5 145.4,618.9 155.5,620.2 154.2,621.6 170.7,622.9 156.9,624.3 191.1,625.6 192.5,627.0 200.8,628.3 191.9,629.7 199.1,631.0 187.5,632.4 192.1,633.7 185.5,635.1 187.4,636.4 179.4,637.8 190.7,639.1 174.1,640.5 176.2,641.8 169.0,643.2 183.0,644.5 186.8,645.9 199.9,647.2 199.4,648.6 210.8,649.9 208.0,651.3 218.8,652.6 217.2,654.0 226.3,655.3 225.4,656.7 235.9,658.0 231.7,659.4 238.3,660.7 236.1,662.1 252.2,663.4 237.1,664.8 245.6,666.1 238.4,667.5 243.4,668.8 238.1,670.2 243.7,671.5 239.1,672.9 251.1,674.2 239.6,675.6 244.2,676.9 240.4,678.3 243.9,679.6 239.8,681.0 248.8,682.3 240.2,683.7 247.8,685.0 240.2,686.4 246.0,687.7 232.9,689.1 246.0,690.4 237.1,691.8 244.2,693.1 240.1,694.5 245.2,695.8 238.3,697.2 243.0,698.5 235.1,699.9 241.5,701.2 237.0,702.6 240.0,703.9 232.9,705.3 238.6,706.6 231.6,708.0 237.0,709.3 226.6,710.7 235.2,712.0 227.2,713.4 233.3,714.7 225.2,716.1 232.1,717.4 221.4,718.8 224.3,720.1 213.6,721.5 217.9,722.8 211.2,724.2 214.3,725.5 213.5,726.9 230.8,728.2 225.4,729.6 232.8,730.9 229.1,732.3 235.4,733.6 229.8,735.0 240.2,736.3 234.9,737.7 239.7,739.0 235.4,740.4 242.7,741.7 237.5,743.1 244.1,744.4 230.6,745.8 245.1,747.1 238.5,748.5 243.5,749.8 238.9,751.2 245.2,752.5 240.7,753.9 245.9,755.2 231.2,756.6 245.3,757.9 241.2,759.3 251.7,760.6 238.4,762.0 245.4,763.3 241.3,764.7 244.8,766.0 238.8,767.4 247.6,768.7 239.9,770.1 245.5,771.4 238.3,772.8 245.8,774.1 238.3,775.5 243.5,776.8 238.6,778.2 245.1,779.5 237.5,780.9 245.0,782.2 236.6,783.6 244.6,784.9 237.2,786.3 242.6,787.6 229.7,789.0 244.3,790.3 235.3,791.7 239.6,793.0 233.4,794.4 240.8,795.7 234.1,797.1 239.2,798.4 231.1,799.8 238.4,801.1 231.6,802.5 237.1,803.8 231.1,805.2 238.5,806.5 232.1,807.9 237.4,809.2 229.3,810.6 234.7,811.9 229.4,813.3 234.8,814.6 229.5,816.0 234.3,817.3 229.5,818.7 234.0,820.0 228.9,821.4 235.0,822.7 226.3,824.1 233.2,825.4 226.9,826.8 236.4,828.1 227.8,829.5 232.8,830.8 223.7,832.2 234.0,833.5 227.4,834.9 233.3,836.2 228.0,837.6 233.2,838.9 226.4,840.3 232.9,841.6 222.3,843.0 232.7,844.3 226.5,845.7 233.6,847.0 224.5,848.4 233.1,849.7 224.7,851.1 232.6,852.4 227.1,853.8 233.2,855.1 226.9,856.5 230.8,857.8 227.0,859.2 231.9,860.5 225.3,861.9 231.3,863.2 223.6,864.6 234.2,865.9 225.6,867.3 231.9,868.6 220.4,870.0 231.0,871.3 226.2,872.7 230.4,874.0 224.6,875.4 240.7,876.7 226.1,878.1 234.0,879.4 224.4,880.8 232.0,882.1 224.5,883.5 230.8,884.8 224.1,886.2 230.7,887.5 226.0,888.9 232.2,890.2 222.4,891.6 230.6,892.9 225.5,894.3 231.6,895.6 223.5,897.0 233.0,898.3 226.2,899.7 230.8,901.0 226.0,902.4 231.5,903.7 225.7,905.1 231.5,906.4 225.0,907.8 231.9,909.1 224.4,910.5 229.6,911.8 222.5,913.2 229.9,914.5 224.5,915.9 229.9,917.2 225.2,918.6 230.2,919.9 225.2,921.3 231.3,922.6 223.6,924.0 229.8,925.3 225.0,926.7 231.5,928.0 225.3,929.4 239.3,930.7 224.9,932.1 241.1,933.4 223.0,934.8 231.4,936.1 223.6,937.5 230.3,938.8 223.4,940.2 229.7,941.5 223.6,942.9 229.8,944.2 222.0,945.6 230.2,946.9 220.6,948.3 231.0,949.6 218.2,951.0 228.6,952.3 222.1,953.7 226.3,955.0 219.4,956.4 222.7,957.7 214.8,959.1 217.3,960.4 209.5,961.8 216.1,963.1 208.5,964.5 211.9,965.8 208.1,967.2 213.8,968.5 207.1,969.9 215.0,971.2 209.2,972.6 215.2,973.9 208.8,975.3 214.1,976.6 205.0,978.0 216.4,979.3 209.6,980.7 217.8,982.0 210.5,983.4 217.6,984.7 208.9,986.1 215.9,987.4 210.3,988.8 215.9,990.1 210.4,991.5 215.7,992.8 211.0,994.2 214.3,995.5 209.0,996.9 215.4,998.2 210.0,999.6 215.3,1000.9 208.8,1002.3 216.3,1003.6 209.0,1005.0 215.2,1006.3 211.9,1007.7 217.5,1009.0 212.4,1010.4 218.6,1011.7 212.8,1013.1 219.4,1014.4 214.8,1015.8 219.0,1017.1 212.5,1018.5 224.0,1019.8 216.1,1021.2 225.3,1022.5 212.5,1023.9 220.4,1025.2 216.5,1026.6 225.1,1027.9 214.7,1029.3 221.9,1030.6 214.7,1032.0 218.0,1033.3 211.2,1034.7 217.6,1036.0 210.0,1037.4 216.9,1038.7 206.3,1040.1 211.4,1041.4 196.2,1042.8 205.1,1044.1 194.3,1045.5 193.4,1046.8 183.8,1048.2 181.5,1049.5 160.8,1050.9 158.9,1052.2 131.9,1053.6 121.8,1054.9 97.5,1056.3 83.6,1057.6 41.8,1059.0 35.6,1060.3 53.7,1061.7 86.8,1063.0 93.9,1064.4 113.2,1065.7 118.7,1067.1 133.3,1068.4 136.9,1069.8 154.7,1071.1 160.2,1072.5 171.3,1073.8 169.4,1075.2 175.8,1076.5 173.3,1077.9 178.3,1079.2 172.4,1080.6 187.3,1081.9 177.7,1083.3 182.3,1084.6 178.4,1086.0 186.4,1087.3 181.1,1088.7 186.9,1090.0 183.8,1091.4 189.4,1092.7 186.2,1094.1 193.4,1095.4 188.8,1096.8 198.7,1098.1 191.2,1099.5 196.2,1100.8 193.0,1102.2 200.3,1103.5 195.9,1104.9 201.9,1106.2 199.4,1107.6 205.7,1108.9 202.2,1110.3 212.3,1111.6 206.4,1113.0 217.6,1114.3 202.0,1115.7 218.1,1117.0 213.4,1118.4 221.7,1119.7 213.3,1121.1 221.1,1122.4 214.9,1123.8 221.2,1125.1 217.5,1126.5 222.2,1127.8 217.5,1129.2 229.2,1130.5 214.5,1131.9 224.6,1133.2 217.8,1134.6 226.8,1135.9 220.3,1137.3 225.2,1138.6 220.2,1140.0 227.8,1141.3 223.3,1142.7 230.9,1144.0 222.7,1145.4 232.4,1146.7 220.0,1148.1 235.1,1149.4 225.4,1150.8 232.1,1152.1 228.0,1153.5 233.2,1154.8 227.6,1156.2 233.3,1157.5 228.6,1158.9 234.6,1160.2 230.3,1161.6 235.5,1162.9 230.5,1164.3 235.5,1165.6 229.3,1167.0 239.7,1168.3 230.5,1169.7 239.1,1171.0 230.7,1172.4 235.6,1173.7 229.7,1175.1 237.1,1176.4 230.4,1177.8 236.7,1179.1 229.9,1180.5 237.4,1181.8 230.1,1183.2 236.0,1184.5 230.8,1185.9 236.8,1187.2 230.5,1188.6 236.7,1189.9 230.1,1191.3 235.6,1192.6 230.1,1194.0 235.5,1195.3 229.3,1196.7 235.4,1198.0 230.1,1199.4 236.1,1200.7 230.3,1202.1 235.0,1203.4 228.0,1204.8 234.4,1206.1 227.7,1207.5 231.2,1208.8 223.8,1210.2 228.3,1211.5 220.8,1212.9 226.3,1214.2 214.7,1215.6 219.2,1216.9 205.8,1218.3 201.7,1219.6 177.8,1221.0 149.3,1222.3 114.6,1223.7 155.1,1225.0 158.8,1226.4 169.0,1227.7 162.3,1229.1 169.3,1230.4 159.3,1231.8 166.5,1233.1 151.1,1234.5 150.7,1235.8 129.2,1237.2 144.4,1238.5 140.8,1239.9 152.8,1241.2 150.5,1242.6 159.8,1243.9 156.9,1245.3 166.3,1246.6 165.4,1248.0 179.7,1249.3 180.2,1250.7 193.1,1252.0 193.1,1253.4 209.3,1254.7 208.9,1256.1 219.5,1257.4 215.0,1258.8 220.5,1260.1 217.7,1261.5 223.7,1262.8 218.0,1264.2 226.7,1265.5 221.7,1266.9 227.5,1268.2 222.1,1269.6 227.6,1270.9 220.8,1272.3 228.8,1273.6 222.3,1275.0 231.0,1276.3 222.6,1277.7 229.8,1279.0 225.7,1280.4 232.9,1281.7 226.3,1283.1 234.5,1284.4 226.4,1285.8 232.7,1287.1 225.2,1288.5 240.1,1289.8 226.9,1291.2 233.8,1292.5 227.5,1293.9 238.8,1295.2 229.4,1296.6 235.1,1297.9 225.8,1299.3 235.7,1300.6 226.7,1302.0 235.0,1303.3 231.1,1304.7 237.9,1306.0 229.1,1307.4 236.5,1308.7 228.8,1310.1 238.2,1311.4 232.2,1312.8 237.8,1314.1 232.7,1315.5 237.7,1316.8 230.0,1318.2 237.7,1319.5 232.6,1320.9 238.7,1322.2 234.1,1323.6 240.3,1324.9 227.2,1326.3 237.7,1327.6 234.0,1329.0 239.3,1330.3 230.6,1331.7 238.2,1333.0 234.4,1334.4 238.7,1335.7 232.7,1337.1 243.1,1338.4 232.6,1339.8 240.4,1341.1 236.3,1342.5 241.1,1343.8 235.0,1345.2 245.4,1346.5 238.9,1347.9 244.6,1349.2 236.7,1350.6 248.6,1351.9 239.5,1353.3 251.8,1354.6 243.1,1356.0 251.4,1357.3 244.0,1358.7 248.4,1360.0 242.4,1361.4 250.5,1362.7 242.4,1364.1 248.6,1365.4 244.9,1366.8 250.7,1368.1 243.8,1369.5 251.5,1370.8 244.2,1372.2 249.4,1373.5 245.4,1374.9 250.8,1376.2 245.4,1377.6 251.1,1378.9 246.0,1380.3 253.7,1381.6 246.6,1383.0 252.6,1384.3 247.0,1385.7 251.6,1387.0 247.3,1388.4 252.1,1389.7 245.7,1391.1 252.8,1392.4 247.6,1393.8 253.7,1395.1 245.3,1396.5 250.9,1397.8 244.4,1399.2 251.6,1400.5 244.7,1401.9 251.5,1403.2 241.6,1404.6 251.3,1405.9 244.9,1407.3 251.6,1408.6 246.7,1410.0 262.3,1411.3 247.4,1412.7 252.9,1414.0 244.6,1415.4 251.3,1416.7 244.7,1418.1 252.0,1419.4 246.8,1420.8 253.8,1422.1 246.7,1423.5 251.7,1424.8 232.7,1426.2 251.9,1427.5 246.3,1428.9 253.7,1430.2 246.1,1431.6 251.7,1432.9 245.3,1434.3 250.0,1435.6 243.1,1437.0 250.3,1438.3 245.1,1439.7 256.3,1441.0 241.3,1442.4 255.7,1443.7 237.2,1445.1 250.6,1446.4 242.6,1447.8 250.3,1449.1 243.1,1450.5 246.5,1451.8 241.0,1453.2 244.6,1454.5 238.8,1455.9 241.9,1457.2 236.6,1458.6 239.1,1459.9 228.0,1461.3 242.9,1462.6 233.0,1464.0 242.0,1465.3 236.3,1466.7 242.4,1468.0 234.0,1469.4 244.7,1470.7 240.6,1472.1 248.5,1473.4 240.8,1474.8 248.6,1476.1 240.7,1477.5 247.7,1478.8 241.6,1480.2 249.1,1481.5 242.8,1482.9 249.7,1484.2 240.4,1485.6 250.3,1486.9 244.3,1488.3 250.2,1489.6 245.0,1491.0 250.1,1492.3 242.4,1493.7 251.0,1495.0 244.0,1496.4 250.8,1497.7 243.4,1499.1 251.5,1500.4 244.1,1501.8 250.5,1503.1 241.9,1504.5 248.6,1505.8 243.1,1507.2 249.5,1508.5 241.9,1509.9 248.6,1511.2 243.0,1512.6 250.9,1513.9 243.9,1515.3 251.3,1516.6 242.0,1518.0 249.0,1519.3 241.1,1520.7 248.4,1522.0 244.6,1523.4 249.5,1524.7 237.0,1526.1 249.4,1527.4 242.6,1528.8 251.3,1530.1 245.2,1531.5 250.4,1532.8 244.2,1534.2 249.7,1535.5 243.9,1536.9 250.2,1538.2 242.9,1539.6 250.1,1540.9 245.0,1542.3 249.7,1543.6 242.7,1545.0 249.5,1546.3 244.8,1547.7 248.9,1549.0 243.6,1550.4 248.7,1551.7 244.8,1553.1 251.1,1554.4 244.1,1555.8 250.8,1557.1 241.2,1558.5 248.9,1559.8 243.2,1561.2 248.9,1562.5 243.7,1563.9 249.6,1565.2 243.0,1566.6 250.0,1567.9 244.7,1569.3 251.9,1570.6 238.2,1572.0 248.8,1573.3 244.0,1574.7 250.2,1576.0 243.8,1577.4 257.4,1578.7 244.0,1580.1 251.0,1581.4 240.1,1582.8 249.6,1584.1 243.0,1585.5 250.3,1586.8 242.3,1588.2 253.0,1589.5 243.7,1590.9 249.7,1592.2 243.0,1593.6 249.0,1594.9 243.8,1596.3 249.8,1597.6 243.3,1599.0 248.7,1600.3 242.0,1601.7 248.9,1603.0 242.4,1604.4 250.4,1605.7 243.4,1607.1 250.7,1608.4 242.3,1609.8 249.2,1611.1 243.5,1612.5 249.5,1613.8 243.5,1615.2 251.7,1616.5 245.5,1617.9 251.0,1619.2 245.3,1620.6 251.1,1621.9 244.9,1623.3 250.5,1624.6 242.2,1626.0 250.7,1627.3 242.2,1628.7 249.8,1630.0 244.1,1631.4 251.2,1632.7 239.6,1634.1 249.8,1635.4 242.9,1636.8 257.0,1638.1 245.0,1639.5 250.2,1640.8 237.3,1642.2 249.7,1643.5 243.9,1644.9 249.6,1646.2 245.2,1647.6 249.0,1648.9 244.6,1650.3 248.5,1651.6 242.5,1653.0 251.3,1654.3 241.7,1655.7 252.8,1657.0 244.2,1658.4 250.1,1659.7 243.4,1661.1 248.9,1662.4 244.4,1663.8 248.5,1665.1 243.4,1666.5 254.9,1667.8 243.2,1669.2 248.4,1670.5 243.6,1671.9 249.6,1673.2 244.0,1674.6 248.1,1675.9 244.2,1677.3 249.5,1678.6 231.1,1680.0 250.6,1681.3 243.8,1682.7 247.9,1684.0 236.2,1685.4 250.4,1686.7 241.3,1688.1 248.4,1689.4 243.8,1690.8 249.7,1692.1 241.6,1693.5 253.3,1694.8 243.2,1696.2 250.4,1697.5 243.8,1698.9 248.8,1700.2 243.7,1701.6 249.9,1702.9 243.8,1704.3 249.3,1705.6 244.7,1707.0 249.9,1708.3 241.2,1709.7" fill="none" stroke="#0000ff" stroke-width="4.4" stroke-linejoin="round" stroke-linecap="butt"/><polyline points="251.7,2228.5 247.2,2229.8 252.9,2231.2 246.5,2232.5 252.7,2233.9 247.4,2235.2 251.5,2236.6 247.3,2237.9 252.8,2239.3 246.9,2240.6 250.9,2242.0 244.9,2243.3 250.7,2244.7 246.1,2246.0 254.0,2247.4 244.2,2248.7 252.7,2250.1 245.6,2251.4 250.8,2252.8 246.2,2254.1 251.7,2255.5 246.8,2256.8 251.4,2258.2 247.3,2259.5 252.6,2260.9 245.1,2262.2 250.7,2263.6 245.8,2264.9 251.7,2266.3 244.8,2267.6 250.9,2269.0 246.9,2270.3 252.4,2271.7 245.9,2273.0 250.5,2274.4 245.7,2275.7 251.1,2277.1 245.0,2278.4 250.5,2279.8 246.1,2281.1 250.5,2282.5 245.3,2283.8 250.3,2285.2 245.2,2286.5 250.4,2287.9 245.4,2289.2 249.7,2290.6 245.7,2291.9 251.6,2293.3 245.3,2294.6 249.5,2296.0 245.2,2297.3 250.3,2298.7 245.0,2300.0 249.0,2301.4 244.9,2302.7 250.9,2304.1 244.4,2305.4 249.8,2306.8 245.8,2308.1 250.6,2309.5 245.5,2310.8 251.2,2312.2 246.3,2313.5 250.8,2314.9 245.6,2316.2 250.6,2317.6 244.5,2318.9 250.2,2320.3 244.2,2321.6 251.5,2323.0 245.5,2324.3 250.6,2325.7 243.7,2327.0 249.7,2328.4 244.6,2329.7 250.3,2331.1 245.3,2332.4 251.2,2333.8 238.2,2335.1 250.0,2336.5 245.2,2337.8 249.4,2339.2 242.3,2340.5 249.7,2341.9 243.8,2343.2 249.5,2344.6 245.1,2345.9 250.4,2347.3 243.5,2348.6 249.6,2350.0 243.8,2351.3 248.5,2352.7 244.5,2354.0 250.3,2355.4 245.3,2356.7 249.2,2358.1 244.4,2359.4 249.8,2360.8 245.6,2362.1 249.4,2363.5 245.6,2364.8 250.4,2366.2 244.8,2367.5 249.4,2368.9 244.3,2370.2 249.1,2371.6 244.4,2372.9 250.3,2374.3 243.4,2375.6 248.6,2377.0 244.6,2378.3 248.8,2379.7 244.7,2381.0 248.6,2382.4 243.4,2383.7 248.5,2385.1 243.5,2386.4 248.5,2387.8 242.4,2389.1 249.9,2390.5 243.4,2391.8 247.7,2393.2 241.4,2394.5 250.1,2395.9 243.7,2397.2 251.6,2398.6 242.7,2399.9 249.4,2401.3 243.7,2402.6 247.4,2404.0 242.6,2405.3 247.8,2406.7 243.2,2408.0 248.4,2409.4 243.0,2410.7 248.8,2412.1 241.2,2413.4 248.2,2414.8 242.7,2416.1 249.1,2417.5 242.8,2418.8 248.8,2420.2 243.9,2421.5 247.1,2422.9 243.2,2424.2 247.8,2425.6 242.8,2426.9 248.4,2428.3 242.2,2429.6 247.2,2431.0 241.9,2432.3 247.8,2433.7 242.0,2435.0 246.6,2436.4 242.6,2437.7 246.5,2439.1 242.9,2440.4 246.6,2441.8 242.1,2443.1 246.5,2444.5 241.8,2445.8 247.7,2447.2 240.9,2448.5 246.0,2449.9 239.3,2451.2 246.0,2452.6 238.0,2453.9 243.3,2455.3 237.3,2456.6 240.2,2458.0 234.7,2459.3 241.6,2460.7 232.8,2462.0 237.4,2463.4 231.4,2464.7 236.5,2466.1 229.2,2467.4 234.1,2468.8 227.2,2470.1 230.6,2471.5 225.8,2472.8 229.3,2474.2 223.8,2475.5 229.5,2476.9 219.0,2478.2 224.3,2479.6 217.7,2480.9 220.0,2482.3 213.5,2483.6 215.7,2485.0 202.7,2486.3 206.0,2487.7 197.3,2489.0 197.8,2490.4 187.8,2491.7 189.0,2493.1 178.0,2494.4 178.3,2495.8 167.5,2497.1 163.4,2498.5 148.6,2499.8 144.2,2501.2 126.3,2502.5 125.9,2503.9 114.1,2505.2 116.8,2506.6 108.7,2507.9 109.3,2509.3 98.7,2510.6 118.7,2512.0 129.6,2513.3 168.7,2514.7 173.4,2516.0 186.4,2517.4 179.9,2518.7 188.1,2520.1 187.0,2521.4 192.3,2522.8 186.4,2524.1 190.5,2525.5 180.9,2526.8 186.5,2528.2 184.6,2529.5 196.2,2530.9 195.6,2532.2 203.6,2533.6 203.3,2534.9 210.2,2536.3 210.1,2537.6 217.9,2539.0 216.0,2540.3 225.8,2541.7 222.4,2543.0 229.8,2544.4 226.5,2545.7 233.7,2547.1 229.3,2548.4 235.3,2549.8 230.5,2551.1 238.3,2552.5 234.5,2553.8 240.0,2555.2 235.3,2556.5 240.2,2557.9 236.6,2559.2 242.2,2560.6 237.6,2561.9 241.9,2563.3 238.5,2564.6 243.5,2566.0 235.4,2567.3 245.4,2568.7 239.8,2570.0 245.2,2571.4 239.4,2572.7 244.4,2574.1 240.1,2575.4 245.9,2576.8 239.6,2578.1 244.2,2579.5 239.6,2580.8 244.3,2582.2 240.2,2583.5 244.3,2584.9 239.2,2586.2 246.9,2587.6 238.4,2588.9 244.4,2590.3 237.8,2591.6 243.7,2593.0 238.3,2594.3 241.4,2595.7 236.4,2597.0 247.5,2598.4 235.5,2599.7 240.9,2601.1 233.3,2602.4 238.1,2603.8 230.4,2605.1 233.9,2606.5 227.7,2607.8 231.8,2609.2 223.5,2610.5 226.1,2611.9 219.0,2613.2 223.3,2614.6 216.2,2615.9 218.4,2617.3 211.0,2618.6 214.7,2620.0 209.0,2621.3 220.6,2622.7 218.3,2624.0 230.8,2625.4 230.6,2626.7 243.5,2628.1 233.6,2629.4 240.9,2630.8 233.4,2632.1 240.0,2633.5 235.0,2634.8 240.7,2636.2 236.3,2637.5 242.6,2638.9 237.5,2640.2 242.1,2641.6 238.4,2642.9 243.1,2644.3 238.6,2645.6 242.6,2647.0 237.3,2648.3 243.6,2649.7 237.0,2651.0 242.4,2652.4 237.5,2653.7 242.6,2655.1 237.2,2656.4 242.2,2657.8 232.4,2659.1 241.3,2660.5 235.6,2661.8 241.4,2663.2 237.0,2664.5 240.9,2665.9 236.1,2667.2 240.6,2668.6 235.5,2669.9 240.1,2671.3 235.5,2672.6 239.9,2674.0 233.3,2675.3 238.3,2676.7 234.3,2678.0 238.7,2679.4 233.1,2680.7 237.8,2682.1 232.8,2683.4 237.3,2684.8 231.0,2686.1 238.4,2687.5 231.1,2688.8 235.8,2690.2 231.5,2691.5 237.4,2692.9 231.5,2694.2 235.5,2695.6 231.2,2696.9 236.7,2698.3 229.4,2699.6 234.7,2701.0 229.5,2702.3 238.1,2703.7 228.2,2705.0 233.2,2706.4 228.6,2707.7 232.0,2709.1 225.4,2710.4 231.1,2711.8 225.7,2713.1 228.8,2714.5 222.6,2715.8 227.0,2717.2 221.0,2718.5 224.6,2719.9 217.3,2721.2 231.1,2722.6 214.9,2723.9 216.7,2725.3 209.5,2726.6 215.2,2728.0 204.6,2729.3 206.4,2730.7 198.9,2732.0 201.1,2733.4 191.4,2734.7 194.0,2736.1 186.3,2737.4 189.6,2738.8 176.8,2740.1 179.0,2741.5 171.1,2742.8 171.5,2744.2 162.5,2745.5 162.2,2746.9 153.2,2748.2 156.5,2749.6 151.9,2750.9 162.0,2752.3 150.0,2753.6 168.2,2755.0 169.0,2756.3 181.6,2757.7 181.1,2759.0 192.5,2760.4 191.9,2761.7 198.6,2763.1 193.1,2764.4 203.2,2765.8 200.9,2767.1 210.4,2768.5 205.1,2769.8 214.0,2771.2 209.7,2772.5 217.2,2773.9 213.3,2775.2 219.7,2776.6 216.3,2777.9 222.8,2779.3 220.5,2780.6 225.2,2782.0 220.7,2783.3 228.6,2784.7 224.4,2786.0 231.3,2787.4 225.7,2788.7 233.9,2790.1 227.8,2791.4 232.1,2792.8 227.9,2794.1 234.1,2795.5 230.2,2796.8 236.3,2798.2 231.7,2799.5 236.7,2800.9 232.0,2802.2 237.0,2803.6 233.1,2804.9 238.3,2806.3 233.6,2807.6 240.0,2809.0 233.0,2810.3 240.0,2811.7 232.9,2813.0 239.5,2814.4 234.7,2815.7 240.4,2817.1 235.1,2818.4 239.4,2819.8 235.3,2821.1 240.0,2822.5 234.2,2823.8 239.3,2825.2 229.8,2826.5 239.5,2827.9 235.0,2829.2 241.7,2830.6 234.8,2831.9 238.6,2833.3 231.9,2834.6 238.2,2836.0 233.6,2837.3 239.2,2838.7 232.4,2840.0 238.4,2841.4 232.5,2842.7 236.8,2844.1 231.4,2845.4 237.5,2846.8 231.9,2848.1 236.8,2849.5 231.8,2850.8 237.6,2852.2 231.4,2853.5 238.1,2854.9 231.4,2856.2 235.8,2857.6 231.0,2858.9 234.2,2860.3 230.1,2861.6 233.8,2863.0 228.2,2864.3 232.2,2865.7 226.2,2867.0 229.7,2868.4 221.3,2869.7 224.5,2871.1 217.1,2872.4 221.3,2873.8 211.7,2875.1 216.7,2876.5 206.5,2877.8 208.9,2879.2 200.6,2880.5 203.3,2881.9 194.9,2883.2 195.2,2884.6 183.1,2885.9 189.3,2887.3 180.5,2888.6 184.5,2890.0 174.0,2891.3 175.0,2892.7 168.9,2894.0 175.9,2895.4 170.4,2896.7 174.3,2898.1 170.4,2899.4 175.6,2900.8 170.9,2902.1 176.7,2903.5 172.2,2904.8 177.0,2906.2 174.1,2907.5 184.7,2908.9 176.2,2910.2 183.6,2911.6 181.0,2912.9 189.0,2914.3 185.0,2915.6 195.6,2917.0 194.4,2918.3 201.7,2919.7 199.5,2921.0 205.4,2922.4 203.4,2923.7 211.6,2925.1 204.6,2926.4 213.3,2927.8 209.8,2929.1 215.4,2930.5 211.7,2931.8 217.1,2933.2 213.7,2934.5 220.5,2935.9 212.4,2937.2 215.8,2938.6 207.5,2939.9 209.0,2941.3 201.2,2942.6 203.1,2944.0 193.9,2945.3 195.3,2946.7 184.9,2948.0 182.1,2949.4 169.2,2950.7 164.5,2952.1 151.0,2953.4 148.1,2954.8 132.6,2956.1 127.3,2957.5 109.7,2958.8 98.1,2960.2 74.0,2961.5 58.7,2962.9 27.9,2964.2 27.1,2965.6 71.4,2966.9 115.5,2968.3 137.9,2969.6 162.4,2971.0 170.9,2972.3 184.9,2973.7 188.2,2975.0 198.8,2976.4 199.7,2977.7 208.4,2979.1 206.9,2980.4 217.5,2981.8 216.4,2983.1 226.9,2984.5 215.3,2985.8 230.4,2987.2 223.2,2988.5 229.2,2989.9 223.5,2991.2 229.5,2992.6 224.7,2993.9 229.8,2995.3 225.5,2996.6 230.4,2998.0 225.2,2999.3 230.0,3000.7 225.8,3002.0 230.5,3003.4 224.4,3004.7 230.3,3006.1 226.3,3007.4 232.3,3008.8 225.3,3010.1 231.3,3011.5 226.8,3012.8 233.0,3014.2 226.3,3015.5 230.7,3016.9 224.6,3018.2 231.6,3019.6 226.8,3020.9 234.5,3022.3 226.7,3023.6 233.5,3025.0 228.0,3026.3 234.3,3027.7 229.4,3029.0 233.9,3030.4 230.2,3031.7 235.0,3033.1 230.6,3034.4 235.5,3035.8 229.1,3037.1 240.1,3038.5 229.7,3039.8 238.8,3041.2 232.5,3042.5 239.1,3043.9 234.2,3045.2 240.5,3046.6 234.7,3047.9 239.0,3049.3 235.0,3050.6 239.8,3052.0 234.4,3053.3 239.8,3054.7 235.7,3056.0 240.4,3057.4 236.5,3058.7 241.4,3060.1 236.5,3061.4 243.8,3062.8 235.9,3064.1 241.4,3065.5 237.0,3066.8 242.3,3068.2 236.6,3069.5 244.1,3070.9 236.5,3072.2 242.0,3073.6 237.6,3074.9 243.0,3076.3 238.0,3077.6 243.2,3079.0 237.9,3080.3 244.5,3081.7 238.1,3083.0 242.4,3084.4 236.7,3085.7 242.4,3087.1 238.2,3088.4 243.2,3089.8 234.9,3091.1 242.9,3092.5 238.2,3093.8 243.9,3095.2 238.8,3096.5 244.1,3097.9 238.7,3099.2 242.5,3100.6 237.3,3101.9 242.6,3103.3 238.1,3104.6 242.3,3106.0 236.5,3107.3 241.5,3108.7 236.1,3110.0 242.4,3111.4 236.0,3112.7 242.0,3114.1 236.3,3115.4 241.9,3116.8 235.9,3118.1 240.0,3119.5 233.7,3120.8 239.1,3122.2 232.6,3123.5 233.1,3124.9 216.2,3126.2 196.4,3127.6 157.4,3128.9 134.0,3130.3 150.0,3131.6 182.8,3133.0 186.9,3134.3 193.0,3135.7 182.0,3137.0 174.9,3138.4 159.1,3139.7 156.2,3141.1 141.2,3142.4 135.9,3143.8 121.8,3145.1 118.9,3146.5 103.1,3147.8 100.8,3149.2 86.2,3150.5 92.9,3151.9 95.8,3153.2 109.9,3154.6 111.7,3155.9 121.8,3157.3 123.4,3158.6 134.1,3160.0 139.1,3161.3 153.4,3162.7 159.4,3164.0 185.1,3165.4 196.3,3166.7 211.7,3168.1 213.1,3169.4 232.3,3170.8 221.2,3172.1 227.1,3173.5 221.9,3174.8 231.2,3176.2 227.5,3177.5 233.8,3178.9 230.8,3180.2 236.3,3181.6 231.2,3182.9 239.0,3184.3 233.3,3185.6 238.3,3187.0 234.1,3188.3 240.1,3189.7 235.5,3191.0 244.4,3192.4 234.9,3193.7 241.2,3195.1 235.6,3196.4 240.9,3197.8 235.8,3199.1 241.4,3200.5 234.7,3201.8 241.8,3203.2 236.9,3204.5 241.8,3205.9 236.1,3207.2 240.8,3208.6 236.9,3209.9 241.1,3211.3 236.9,3212.6 242.5,3214.0 238.1,3215.3 243.1,3216.7 237.0,3218.0 242.5,3219.4 238.5,3220.7 243.0,3222.1 237.4,3223.4 243.8,3224.8 239.2,3226.1 245.0,3227.5 238.9,3228.8 244.4,3230.2 240.4,3231.5 245.4,3232.9 239.4,3234.2 247.4,3235.6 241.1,3236.9 246.4,3238.3 241.8,3239.6 250.3,3241.0 238.8,3242.3 246.9,3243.7 242.5,3245.0 247.0,3246.4 242.8,3247.7 247.0,3249.1 243.5,3250.4 247.5,3251.8 243.1,3253.1 247.2,3254.5 242.4,3255.8 248.2,3257.2 243.0,3258.5 248.6,3259.9 238.2,3261.2 247.8,3262.6 244.1,3263.9 248.9,3265.3 243.7,3266.6 252.5,3268.0 243.3,3269.3 248.6,3270.7 244.0,3272.0 249.9,3273.4 244.2,3274.7 248.6,3276.1 243.4,3277.4 249.1,3278.8 243.5,3280.1 249.9,3281.5 243.5,3282.8 250.2,3284.2 243.0,3285.5 249.3,3286.9 244.7,3288.2 250.3,3289.6 244.0,3290.9 249.3,3292.3 244.8,3293.6 249.2,3295.0 244.4,3296.3 250.8,3297.7 245.0,3299.0 250.4,3300.4 243.9,3301.7 250.3,3303.1 244.9,3304.4 249.9,3305.8 243.4,3307.1 249.8,3308.5 245.0,3309.8 254.6,3311.2 239.6,3312.5 248.4,3313.9 243.4,3315.2 250.2,3316.6 243.7,3317.9 248.3,3319.3 243.7,3320.6 248.2,3322.0 244.6,3323.3 248.3,3324.7 243.9,3326.0 249.5,3327.4 243.0,3328.7 249.6,3330.1 244.3,3331.4 250.7,3332.8 244.9,3334.1 255.0,3335.5 244.3,3336.8 249.4,3338.2 242.9,3339.5 248.5,3340.9 244.3,3342.2 249.2,3343.6 245.0,3344.9 250.9,3346.3 245.1,3347.6 251.5,3349.0 245.0,3350.3 249.3,3351.7 241.5,3353.0 249.1,3354.4 244.2,3355.7 249.4,3357.1 244.5,3358.4 249.4,3359.8 245.4,3361.1 249.4,3362.5 239.2,3363.8 251.4,3365.2 241.0,3366.5 251.6,3367.9 242.5,3369.2 249.8,3370.6 244.4,3371.9 247.9,3373.3 238.9,3374.6 246.9,3376.0 241.7,3377.3 245.8,3378.7 239.0,3380.0 242.3,3381.4 235.6,3382.7 238.4,3384.1 232.1,3385.4 234.9,3386.8 227.5,3388.1 231.5,3389.5 225.9,3390.8 229.6,3392.2 226.6,3393.5 231.5,3394.9 229.3,3396.2 234.7,3397.6 232.0,3398.9 237.7,3400.3 234.8,3401.6 240.9,3403.0 236.3,3404.3 244.5,3405.7 239.7,3407.0 246.0,3408.4 240.7,3409.7 246.8,3411.1 243.0,3412.4 249.1,3413.8 243.2,3415.1 248.8,3416.5 244.1,3417.8 248.5,3419.2 244.5,3420.5 249.1,3421.9 245.0,3423.2 249.5,3424.6 244.8,3425.9 248.5,3427.3 244.5,3428.6 249.5,3430.0 243.2,3431.3 250.2,3432.7 245.3,3434.0 251.4,3435.4 244.9,3436.7 249.9,3438.1 244.3,3439.4 249.7,3440.8 244.9,3442.1 249.0,3443.5 245.5,3444.8 252.8,3446.2 237.7,3447.5 250.6,3448.9 244.6,3450.2 249.9,3451.6 243.8,3452.9 249.8,3454.3 244.8,3455.6 249.7,3457.0 244.8,3458.3 250.4,3459.7 245.0,3461.0 249.0,3462.4 243.4,3463.7 249.6,3465.1 244.8,3466.4 250.2,3467.8 245.2,3469.1 249.7,3470.5 245.0,3471.8 250.5,3473.2 246.1,3474.5 251.0,3475.9 244.8,3477.2 249.4,3478.6 244.7,3479.9 250.9,3481.3 245.6,3482.6 249.9,3484.0 245.0,3485.3 250.8,3486.7 243.5,3488.0 251.5,3489.4 246.1,3490.7 250.9,3492.1 244.4,3493.4 250.2,3494.8 244.6,3496.1 250.3,3497.5 244.4,3498.8 250.1,3500.2 243.3,3501.5 250.4,3502.9 245.1,3504.2 249.9,3505.6 244.6,3506.9 249.1,3508.3 244.9,3509.6 250.5,3511.0 245.3,3512.3 250.5,3513.7 245.7,3515.0 256.0,3516.4 245.6,3517.7 253.0,3519.1 245.5,3520.4 249.3,3521.8 245.4,3523.1 251.8,3524.5 244.0,3525.8 249.9,3527.2 244.9,3528.5 250.0,3529.9 242.4,3531.2 250.2,3532.6 244.8,3533.9 251.3,3535.3 245.2,3536.6 251.5,3538.0 244.8,3539.3 249.3,3540.7 245.4,3542.0 249.8,3543.4 243.9,3544.7 249.8,3546.1 245.0,3547.4" fill="none" stroke="#0000ff" stroke-width="4.4" stroke-linejoin="round" stroke-linecap="butt"/><defs><pattern id="spA" patternUnits="userSpaceOnUse" width="223" height="181"><rect x="28.3" y="86.4" width="1.9" height="1.6" fill="#fff" fill-opacity="1.00"/><rect x="32.5" y="160.6" width="1.3" height="1.8" fill="#fff" fill-opacity="1.00"/><rect x="208.6" y="107.6" width="1.6" height="2.8" fill="#fff" fill-opacity="1.00"/><rect x="145.8" y="47.6" width="1.4" height="3.5" fill="#fff" fill-opacity="1.00"/><rect x="147.5" y="88.6" width="2.2" height="2.9" fill="#fff" fill-opacity="1.00"/><rect x="215.8" y="35.4" width="1.9" height="2.7" fill="#fff" fill-opacity="1.00"/><rect x="77.7" y="102.3" width="1.5" height="3.5" fill="#fff" fill-opacity="1.00"/><rect x="190.8" y="22.3" width="1.8" height="2.2" fill="#fff" fill-opacity="1.00"/><rect x="18.3" y="155.0" width="1.7" height="1.9" fill="#fff" fill-opacity="1.00"/><rect x="148.1" y="35.0" width="2.3" height="2.0" fill="#fff" fill-opacity="1.00"/><rect x="7.3" y="34.7" width="1.6" height="2.7" fill="#fff" fill-opacity="1.00"/><rect x="199.3" y="120.6" width="1.6" height="1.5" fill="#fff" fill-opacity="1.00"/><rect x="35.2" y="172.4" width="1.8" height="3.2" fill="#fff" fill-opacity="1.00"/><rect x="12.0" y="5.9" width="2.2" height="3.0" fill="#fff" fill-opacity="1.00"/><rect x="67.9" y="54.9" width="1.3" height="1.9" fill="#fff" fill-opacity="1.00"/><rect x="5.4" y="145.2" width="1.8" height="1.8" fill="#fff" fill-opacity="1.00"/><rect x="162.6" y="33.8" width="1.3" height="3.0" fill="#fff" fill-opacity="1.00"/><rect x="197.1" y="4.7" width="2.2" height="2.0" fill="#fff" fill-opacity="1.00"/><rect x="20.4" y="3.1" width="1.6" height="3.3" fill="#fff" fill-opacity="1.00"/><rect x="108.5" y="147.6" width="1.5" height="2.3" fill="#fff" fill-opacity="1.00"/><rect x="56.8" y="169.2" width="2.3" height="2.4" fill="#fff" fill-opacity="1.00"/><rect x="95.9" y="54.4" width="2.1" height="1.6" fill="#fff" fill-opacity="1.00"/><rect x="14.8" y="69.9" width="1.5" height="3.6" fill="#fff" fill-opacity="1.00"/><rect x="163.2" y="94.4" width="2.0" height="3.2" fill="#fff" fill-opacity="1.00"/><rect x="171.8" y="160.5" width="1.4" height="3.1" fill="#fff" fill-opacity="1.00"/><rect x="31.6" y="76.7" width="2.1" height="3.7" fill="#fff" fill-opacity="1.00"/><rect x="167.0" y="6.1" width="1.6" height="1.9" fill="#fff" fill-opacity="1.00"/><rect x="219.7" y="24.9" width="1.5" height="2.4" fill="#fff" fill-opacity="1.00"/><rect x="13.4" y="150.6" width="2.0" height="1.9" fill="#fff" fill-opacity="1.00"/><rect x="109.6" y="13.6" width="1.9" height="2.1" fill="#fff" fill-opacity="1.00"/><rect x="8.5" y="19.9" width="1.9" height="3.1" fill="#fff" fill-opacity="1.00"/><rect x="71.5" y="111.3" width="1.6" height="1.8" fill="#fff" fill-opacity="1.00"/><rect x="69.3" y="68.4" width="2.3" height="1.8" fill="#fff" fill-opacity="1.00"/><rect x="19.0" y="97.1" width="2.4" height="3.8" fill="#fff" fill-opacity="1.00"/><rect x="154.1" y="11.5" width="2.2" height="3.2" fill="#fff" fill-opacity="1.00"/><rect x="31.7" y="80.4" width="1.3" height="3.5" fill="#fff" fill-opacity="1.00"/><rect x="158.1" y="139.2" width="2.1" height="2.2" fill="#fff" fill-opacity="1.00"/><rect x="173.7" y="43.1" width="1.4" height="2.5" fill="#fff" fill-opacity="1.00"/><rect x="109.5" y="49.4" width="1.9" height="3.0" fill="#fff" fill-opacity="1.00"/><rect x="52.8" y="107.7" width="1.6" height="3.3" fill="#fff" fill-opacity="1.00"/><rect x="63.9" y="138.2" width="1.7" height="2.9" fill="#fff" fill-opacity="1.00"/><rect x="148.1" y="89.7" width="1.5" height="3.9" fill="#fff" fill-opacity="1.00"/><rect x="21.1" y="56.2" width="1.9" height="1.6" fill="#fff" fill-opacity="1.00"/><rect x="34.1" y="138.3" width="2.1" height="3.1" fill="#fff" fill-opacity="1.00"/><rect x="198.4" y="130.7" width="1.6" height="3.1" fill="#fff" fill-opacity="1.00"/><rect x="74.8" y="129.7" width="1.7" height="1.9" fill="#fff" fill-opacity="1.00"/><rect x="192.8" y="119.4" width="2.1" height="2.9" fill="#fff" fill-opacity="1.00"/><rect x="172.2" y="77.5" width="1.9" height="1.7" fill="#fff" fill-opacity="1.00"/><rect x="122.1" y="140.9" width="2.0" height="3.5" fill="#fff" fill-opacity="1.00"/><rect x="109.1" y="152.5" width="1.3" height="3.7" fill="#fff" fill-opacity="1.00"/><rect x="81.7" y="15.7" width="1.9" height="2.6" fill="#fff" fill-opacity="1.00"/><rect x="94.2" y="147.4" width="1.4" height="3.0" fill="#fff" fill-opacity="1.00"/><rect x="91.0" y="91.4" width="1.8" height="1.8" fill="#fff" fill-opacity="1.00"/><rect x="112.6" y="149.1" width="1.4" height="1.5" fill="#fff" fill-opacity="1.00"/><rect x="14.9" y="79.5" width="2.4" height="1.6" fill="#fff" fill-opacity="1.00"/></pattern><pattern id="spB" patternUnits="userSpaceOnUse" width="211" height="173"><rect x="52.2" y="156.2" width="1.5" height="3.1" fill="#fff" fill-opacity="1.00"/><rect x="72.8" y="38.0" width="2.1" height="2.7" fill="#fff" fill-opacity="1.00"/><rect x="186.4" y="141.6" width="1.2" height="5.2" fill="#fff" fill-opacity="1.00"/><rect x="22.2" y="42.6" width="1.8" height="4.7" fill="#fff" fill-opacity="1.00"/><rect x="97.4" y="153.0" width="1.6" height="3.1" fill="#fff" fill-opacity="1.00"/><rect x="139.5" y="156.2" width="2.5" height="7.3" fill="#fff" fill-opacity="1.00"/><rect x="13.4" y="154.6" width="2.1" height="7.2" fill="#fff" fill-opacity="1.00"/><rect x="84.9" y="36.2" width="2.3" height="6.0" fill="#fff" fill-opacity="1.00"/><rect x="162.0" y="33.2" width="1.4" height="6.6" fill="#fff" fill-opacity="1.00"/><rect x="4.2" y="156.0" width="1.4" height="5.6" fill="#fff" fill-opacity="1.00"/><rect x="87.2" y="53.4" width="1.4" height="6.7" fill="#fff" fill-opacity="1.00"/><rect x="190.2" y="120.3" width="2.0" height="6.3" fill="#fff" fill-opacity="1.00"/><rect x="111.5" y="92.1" width="2.5" height="3.7" fill="#fff" fill-opacity="1.00"/><rect x="46.2" y="156.2" width="2.5" height="4.9" fill="#fff" fill-opacity="1.00"/><rect x="166.6" y="122.6" width="2.5" height="2.5" fill="#fff" fill-opacity="1.00"/><rect x="186.8" y="82.5" width="1.8" height="6.1" fill="#fff" fill-opacity="1.00"/><rect x="128.2" y="72.0" width="1.6" height="7.5" fill="#fff" fill-opacity="1.00"/><rect x="170.3" y="16.9" width="1.8" height="6.6" fill="#fff" fill-opacity="1.00"/><rect x="182.8" y="158.8" width="1.5" height="7.4" fill="#fff" fill-opacity="1.00"/><rect x="144.5" y="11.3" width="1.5" height="3.1" fill="#fff" fill-opacity="1.00"/><rect x="16.1" y="113.4" width="1.6" height="6.2" fill="#fff" fill-opacity="1.00"/><rect x="17.0" y="143.7" width="2.2" height="6.7" fill="#fff" fill-opacity="1.00"/><rect x="126.1" y="75.5" width="1.5" height="7.7" fill="#fff" fill-opacity="1.00"/><rect x="30.3" y="86.0" width="1.4" height="2.7" fill="#fff" fill-opacity="1.00"/><rect x="144.9" y="146.7" width="1.8" height="6.8" fill="#fff" fill-opacity="1.00"/><rect x="178.8" y="88.3" width="2.3" height="3.8" fill="#fff" fill-opacity="1.00"/><rect x="31.2" y="31.2" width="1.2" height="2.4" fill="#fff" fill-opacity="1.00"/><rect x="156.2" y="149.0" width="1.3" height="6.3" fill="#fff" fill-opacity="1.00"/><rect x="161.8" y="112.4" width="1.9" height="4.9" fill="#fff" fill-opacity="1.00"/><rect x="144.5" y="40.4" width="2.3" height="3.2" fill="#fff" fill-opacity="1.00"/><rect x="7.3" y="154.1" width="1.3" height="3.2" fill="#fff" fill-opacity="1.00"/><rect x="11.6" y="1.7" width="1.4" height="7.5" fill="#fff" fill-opacity="1.00"/><rect x="144.7" y="66.8" width="1.2" height="7.0" fill="#fff" fill-opacity="1.00"/><rect x="100.9" y="140.9" width="1.9" height="2.5" fill="#fff" fill-opacity="1.00"/><rect x="15.3" y="130.3" width="1.5" height="2.9" fill="#fff" fill-opacity="1.00"/><rect x="85.1" y="43.1" width="1.6" height="6.8" fill="#fff" fill-opacity="1.00"/><rect x="97.6" y="164.3" width="1.3" height="3.8" fill="#fff" fill-opacity="1.00"/><rect x="183.3" y="71.8" width="2.3" height="4.6" fill="#fff" fill-opacity="1.00"/><rect x="84.4" y="146.2" width="1.6" height="5.3" fill="#fff" fill-opacity="1.00"/><rect x="117.4" y="7.1" width="1.3" height="3.4" fill="#fff" fill-opacity="1.00"/><rect x="0.6" y="112.7" width="2.0" height="4.1" fill="#fff" fill-opacity="1.00"/><rect x="87.2" y="6.8" width="1.8" height="7.0" fill="#fff" fill-opacity="1.00"/><rect x="7.9" y="107.8" width="2.2" height="3.3" fill="#fff" fill-opacity="1.00"/><rect x="61.5" y="29.6" width="2.0" height="4.2" fill="#fff" fill-opacity="1.00"/><rect x="27.1" y="47.7" width="1.5" height="7.9" fill="#fff" fill-opacity="1.00"/><rect x="127.0" y="79.0" width="1.9" height="5.5" fill="#fff" fill-opacity="1.00"/><rect x="204.1" y="63.5" width="1.3" height="3.1" fill="#fff" fill-opacity="1.00"/><rect x="1.6" y="33.3" width="2.0" height="3.5" fill="#fff" fill-opacity="1.00"/><rect x="173.9" y="157.0" width="1.4" height="6.8" fill="#fff" fill-opacity="1.00"/><rect x="137.6" y="163.8" width="1.5" height="6.6" fill="#fff" fill-opacity="1.00"/><rect x="69.0" y="32.8" width="1.6" height="7.6" fill="#fff" fill-opacity="1.00"/><rect x="99.6" y="71.8" width="2.4" height="7.1" fill="#fff" fill-opacity="1.00"/><rect x="186.5" y="3.7" width="2.6" height="6.1" fill="#fff" fill-opacity="1.00"/><rect x="187.8" y="132.5" width="2.5" height="7.3" fill="#fff" fill-opacity="1.00"/><rect x="134.6" y="21.0" width="2.2" height="2.2" fill="#fff" fill-opacity="1.00"/><rect x="72.8" y="46.8" width="1.6" height="6.8" fill="#fff" fill-opacity="1.00"/><rect x="183.5" y="148.7" width="2.1" height="6.6" fill="#fff" fill-opacity="1.00"/><rect x="26.2" y="57.2" width="2.3" height="4.7" fill="#fff" fill-opacity="1.00"/><rect x="102.8" y="129.5" width="1.5" height="7.2" fill="#fff" fill-opacity="1.00"/><rect x="154.0" y="12.7" width="1.8" height="7.5" fill="#fff" fill-opacity="1.00"/><rect x="56.3" y="2.1" width="1.4" height="5.3" fill="#fff" fill-opacity="1.00"/><rect x="21.2" y="8.9" width="1.4" height="6.9" fill="#fff" fill-opacity="1.00"/><rect x="201.3" y="22.3" width="2.0" height="6.1" fill="#fff" fill-opacity="1.00"/><rect x="14.7" y="145.2" width="2.2" height="6.1" fill="#fff" fill-opacity="1.00"/><rect x="99.9" y="130.4" width="2.4" height="3.7" fill="#fff" fill-opacity="1.00"/><rect x="49.3" y="162.3" width="1.9" height="4.5" fill="#fff" fill-opacity="1.00"/><rect x="194.4" y="119.0" width="2.2" height="6.8" fill="#fff" fill-opacity="1.00"/><rect x="173.6" y="112.6" width="2.6" height="6.7" fill="#fff" fill-opacity="1.00"/><rect x="172.1" y="137.1" width="1.3" height="7.9" fill="#fff" fill-opacity="1.00"/><rect x="159.0" y="14.0" width="2.2" height="6.3" fill="#fff" fill-opacity="1.00"/><rect x="103.7" y="50.0" width="2.0" height="3.0" fill="#fff" fill-opacity="1.00"/><rect x="81.9" y="102.9" width="2.2" height="5.3" fill="#fff" fill-opacity="1.00"/><rect x="184.9" y="147.3" width="2.5" height="5.6" fill="#fff" fill-opacity="1.00"/><rect x="51.8" y="7.6" width="2.0" height="5.1" fill="#fff" fill-opacity="1.00"/><rect x="0.3" y="23.5" width="2.6" height="6.5" fill="#fff" fill-opacity="1.00"/><rect x="188.2" y="53.5" width="1.8" height="5.5" fill="#fff" fill-opacity="1.00"/><rect x="83.7" y="5.2" width="1.9" height="6.0" fill="#fff" fill-opacity="1.00"/><rect x="74.4" y="152.5" width="2.5" height="2.2" fill="#fff" fill-opacity="1.00"/><rect x="86.5" y="99.6" width="1.8" height="7.9" fill="#fff" fill-opacity="1.00"/><rect x="62.7" y="148.1" width="1.7" height="7.3" fill="#fff" fill-opacity="1.00"/><rect x="21.0" y="140.5" width="2.4" height="5.4" fill="#fff" fill-opacity="1.00"/><rect x="63.3" y="64.4" width="1.4" height="3.7" fill="#fff" fill-opacity="1.00"/><rect x="107.3" y="86.1" width="1.9" height="7.2" fill="#fff" fill-opacity="1.00"/><rect x="44.5" y="129.2" width="2.4" height="4.1" fill="#fff" fill-opacity="1.00"/><rect x="11.9" y="135.3" width="2.2" height="4.9" fill="#fff" fill-opacity="1.00"/><rect x="192.6" y="42.9" width="2.2" height="5.9" fill="#fff" fill-opacity="1.00"/><rect x="80.6" y="128.5" width="1.3" height="3.8" fill="#fff" fill-opacity="1.00"/><rect x="102.8" y="159.2" width="2.3" height="2.3" fill="#fff" fill-opacity="1.00"/><rect x="130.2" y="22.7" width="1.7" height="7.8" fill="#fff" fill-opacity="1.00"/><rect x="57.0" y="17.1" width="2.5" height="3.3" fill="#fff" fill-opacity="1.00"/><rect x="122.4" y="43.1" width="2.5" height="6.5" fill="#fff" fill-opacity="1.00"/><rect x="166.3" y="16.8" width="1.7" height="7.1" fill="#fff" fill-opacity="1.00"/><rect x="61.2" y="17.8" width="2.4" height="3.6" fill="#fff" fill-opacity="1.00"/><rect x="123.0" y="31.4" width="1.4" height="5.0" fill="#fff" fill-opacity="1.00"/><rect x="132.9" y="127.0" width="2.5" height="5.1" fill="#fff" fill-opacity="1.00"/><rect x="142.9" y="51.5" width="2.4" height="4.1" fill="#fff" fill-opacity="1.00"/><rect x="7.7" y="34.7" width="1.4" height="5.8" fill="#fff" fill-opacity="1.00"/><rect x="33.1" y="75.2" width="1.7" height="6.8" fill="#fff" fill-opacity="1.00"/><rect x="60.4" y="39.2" width="1.6" height="3.1" fill="#fff" fill-opacity="1.00"/><rect x="136.4" y="86.3" width="2.2" height="2.7" fill="#fff" fill-opacity="1.00"/><rect x="166.8" y="89.6" width="2.6" height="7.9" fill="#fff" fill-opacity="1.00"/><rect x="3.1" y="99.3" width="1.6" height="6.2" fill="#fff" fill-opacity="1.00"/><rect x="28.5" y="93.6" width="2.3" height="5.4" fill="#fff" fill-opacity="1.00"/><rect x="62.8" y="122.9" width="2.5" height="3.7" fill="#fff" fill-opacity="1.00"/><rect x="22.8" y="65.1" width="1.8" height="4.4" fill="#fff" fill-opacity="1.00"/><rect x="197.3" y="39.7" width="1.3" height="2.1" fill="#fff" fill-opacity="1.00"/><rect x="100.3" y="44.4" width="1.9" height="6.2" fill="#fff" fill-opacity="1.00"/><rect x="67.0" y="21.3" width="2.5" height="3.1" fill="#fff" fill-opacity="1.00"/><rect x="64.6" y="3.7" width="2.1" height="3.4" fill="#fff" fill-opacity="1.00"/><rect x="155.5" y="70.8" width="2.4" height="4.0" fill="#fff" fill-opacity="1.00"/><rect x="162.4" y="11.7" width="1.7" height="3.9" fill="#fff" fill-opacity="1.00"/><rect x="84.9" y="35.8" width="1.6" height="7.8" fill="#fff" fill-opacity="1.00"/><rect x="16.9" y="81.8" width="2.5" height="4.8" fill="#fff" fill-opacity="1.00"/><rect x="92.7" y="86.1" width="1.4" height="3.2" fill="#fff" fill-opacity="1.00"/><rect x="145.9" y="98.7" width="1.5" height="4.9" fill="#fff" fill-opacity="1.00"/><rect x="205.1" y="33.7" width="2.3" height="7.6" fill="#fff" fill-opacity="1.00"/><rect x="112.5" y="26.6" width="1.9" height="6.7" fill="#fff" fill-opacity="1.00"/><rect x="137.3" y="139.0" width="1.9" height="2.0" fill="#fff" fill-opacity="1.00"/><rect x="6.7" y="131.7" width="2.0" height="7.5" fill="#fff" fill-opacity="1.00"/><rect x="176.0" y="106.0" width="2.0" height="6.7" fill="#fff" fill-opacity="1.00"/><rect x="35.6" y="60.9" width="2.1" height="5.1" fill="#fff" fill-opacity="1.00"/><rect x="34.6" y="53.5" width="1.4" height="7.0" fill="#fff" fill-opacity="1.00"/><rect x="37.8" y="106.9" width="1.4" height="2.8" fill="#fff" fill-opacity="1.00"/><rect x="8.6" y="59.5" width="2.4" height="7.5" fill="#fff" fill-opacity="1.00"/><rect x="111.9" y="142.6" width="2.1" height="7.7" fill="#fff" fill-opacity="1.00"/><rect x="43.4" y="42.2" width="1.6" height="6.9" fill="#fff" fill-opacity="1.00"/><rect x="194.7" y="127.9" width="2.5" height="2.0" fill="#fff" fill-opacity="1.00"/><rect x="33.6" y="25.1" width="1.7" height="4.2" fill="#fff" fill-opacity="1.00"/><rect x="83.6" y="26.0" width="1.9" height="5.9" fill="#fff" fill-opacity="1.00"/><rect x="169.3" y="25.0" width="2.6" height="3.6" fill="#fff" fill-opacity="1.00"/><rect x="86.9" y="148.7" width="1.4" height="4.5" fill="#fff" fill-opacity="1.00"/><rect x="73.2" y="14.6" width="1.3" height="3.2" fill="#fff" fill-opacity="1.00"/><rect x="106.8" y="7.6" width="1.5" height="7.7" fill="#fff" fill-opacity="1.00"/><rect x="100.9" y="45.4" width="2.6" height="6.3" fill="#fff" fill-opacity="1.00"/><rect x="71.9" y="139.5" width="1.3" height="3.9" fill="#fff" fill-opacity="1.00"/><rect x="198.0" y="87.0" width="1.3" height="2.5" fill="#fff" fill-opacity="1.00"/><rect x="195.8" y="62.8" width="2.4" height="3.5" fill="#fff" fill-opacity="1.00"/><rect x="121.7" y="39.1" width="2.4" height="6.8" fill="#fff" fill-opacity="1.00"/><rect x="202.4" y="81.1" width="2.3" height="2.6" fill="#fff" fill-opacity="1.00"/><rect x="127.5" y="122.6" width="2.2" height="3.7" fill="#fff" fill-opacity="1.00"/><rect x="3.5" y="101.7" width="2.3" height="5.2" fill="#fff" fill-opacity="1.00"/><rect x="37.2" y="66.8" width="1.5" height="7.3" fill="#fff" fill-opacity="1.00"/><rect x="141.4" y="100.8" width="2.2" height="7.9" fill="#fff" fill-opacity="1.00"/><rect x="200.0" y="2.2" width="1.3" height="8.0" fill="#fff" fill-opacity="1.00"/><rect x="77.4" y="121.2" width="1.7" height="6.8" fill="#fff" fill-opacity="1.00"/><rect x="156.1" y="48.8" width="2.2" height="2.1" fill="#fff" fill-opacity="1.00"/><rect x="9.5" y="84.6" width="2.5" height="8.0" fill="#fff" fill-opacity="1.00"/><rect x="9.9" y="54.1" width="1.4" height="7.3" fill="#fff" fill-opacity="1.00"/><rect x="82.6" y="52.2" width="1.8" height="4.3" fill="#fff" fill-opacity="1.00"/><rect x="109.3" y="13.5" width="1.3" height="3.6" fill="#fff" fill-opacity="1.00"/><rect x="25.4" y="159.6" width="1.4" height="7.3" fill="#fff" fill-opacity="1.00"/><rect x="62.7" y="163.8" width="1.4" height="5.5" fill="#fff" fill-opacity="1.00"/><rect x="146.4" y="4.4" width="2.0" height="5.0" fill="#fff" fill-opacity="1.00"/><rect x="167.2" y="60.6" width="1.9" height="2.2" fill="#fff" fill-opacity="1.00"/><rect x="144.0" y="159.4" width="2.3" height="6.8" fill="#fff" fill-opacity="1.00"/><rect x="156.9" y="38.1" width="2.5" height="2.5" fill="#fff" fill-opacity="1.00"/><rect x="98.7" y="135.5" width="2.2" height="3.5" fill="#fff" fill-opacity="1.00"/><rect x="61.1" y="89.2" width="1.7" height="2.9" fill="#fff" fill-opacity="1.00"/><rect x="57.3" y="122.5" width="1.8" height="5.1" fill="#fff" fill-opacity="1.00"/><rect x="24.8" y="4.1" width="2.5" height="7.1" fill="#fff" fill-opacity="1.00"/><rect x="102.4" y="107.8" width="2.1" height="4.7" fill="#fff" fill-opacity="1.00"/><rect x="20.9" y="3.8" width="2.2" height="6.9" fill="#fff" fill-opacity="1.00"/><rect x="13.6" y="134.1" width="1.2" height="7.3" fill="#fff" fill-opacity="1.00"/><rect x="104.7" y="81.9" width="2.6" height="6.4" fill="#fff" fill-opacity="1.00"/><rect x="110.2" y="140.1" width="1.8" height="3.7" fill="#fff" fill-opacity="1.00"/><rect x="167.1" y="135.4" width="2.1" height="3.6" fill="#fff" fill-opacity="1.00"/><rect x="204.7" y="133.8" width="1.4" height="5.9" fill="#fff" fill-opacity="1.00"/><rect x="120.8" y="7.3" width="2.2" height="2.5" fill="#fff" fill-opacity="1.00"/><rect x="140.6" y="105.4" width="2.4" height="3.7" fill="#fff" fill-opacity="1.00"/><rect x="119.9" y="120.4" width="1.3" height="3.2" fill="#fff" fill-opacity="1.00"/><rect x="125.0" y="141.8" width="1.8" height="7.7" fill="#fff" fill-opacity="1.00"/><rect x="207.0" y="65.0" width="1.7" height="5.9" fill="#fff" fill-opacity="1.00"/><rect x="135.3" y="150.7" width="1.5" height="7.5" fill="#fff" fill-opacity="1.00"/><rect x="98.5" y="49.3" width="1.7" height="3.3" fill="#fff" fill-opacity="1.00"/><rect x="61.0" y="126.4" width="1.7" height="7.3" fill="#fff" fill-opacity="1.00"/><rect x="138.7" y="66.5" width="1.8" height="5.5" fill="#fff" fill-opacity="1.00"/><rect x="125.6" y="50.7" width="1.2" height="5.4" fill="#fff" fill-opacity="1.00"/><rect x="67.3" y="128.1" width="2.4" height="4.1" fill="#fff" fill-opacity="1.00"/><rect x="74.7" y="162.8" width="2.3" height="6.7" fill="#fff" fill-opacity="1.00"/><rect x="50.3" y="152.5" width="2.0" height="4.8" fill="#fff" fill-opacity="1.00"/><rect x="50.6" y="115.1" width="2.3" height="4.5" fill="#fff" fill-opacity="1.00"/><rect x="158.7" y="114.5" width="1.6" height="6.1" fill="#fff" fill-opacity="1.00"/><rect x="23.7" y="82.7" width="1.9" height="6.5" fill="#fff" fill-opacity="1.00"/><rect x="157.8" y="95.2" width="1.2" height="2.8" fill="#fff" fill-opacity="1.00"/><rect x="128.9" y="143.5" width="1.3" height="6.8" fill="#fff" fill-opacity="1.00"/><rect x="104.6" y="111.4" width="1.2" height="4.4" fill="#fff" fill-opacity="1.00"/><rect x="193.6" y="23.6" width="1.5" height="4.4" fill="#fff" fill-opacity="1.00"/><rect x="100.2" y="7.4" width="1.3" height="5.6" fill="#fff" fill-opacity="1.00"/><rect x="0.8" y="39.7" width="1.6" height="3.5" fill="#fff" fill-opacity="1.00"/><rect x="192.2" y="34.6" width="2.1" height="3.1" fill="#fff" fill-opacity="1.00"/></pattern></defs><path d="M644.6,622.0 L649.0,612.0 L655.0,603.0 L662.0,596.5 L670.0,592.5 L690.0,592.1 L712.0,592.3 L720.0,597.0 L726.0,604.0 L730.5,613.0 L731.4,622.0 L729.0,631.0 L724.0,640.0 L716.0,647.0 L700.0,650.0 L686.0,650.0 L676.0,652.0 L667.0,648.0 L659.0,641.0 L651.0,633.0Z" fill="#ff0010" stroke="#ff0010" stroke-width="1.5" stroke-linejoin="round"/><path d="M1303.6,618.0 L1309.3,605.3 L1325.9,597.6 L1338.7,594.7 L1371.8,592.5 L1388.4,593.8 L1398.6,603.4 L1406.3,613.6 L1406.3,621.2 L1394.8,631.4 L1395.4,642.9 L1389.7,648.0 L1369.3,648.0 L1361.6,653.1 L1347.6,656.3 L1340.0,651.8 L1331.0,641.6 L1315.7,634.0 L1305.5,623.8Z" fill="#ff0010" stroke="#ff0010" stroke-width="1.5" stroke-linejoin="round"/><path d="M1604.1,618.5 L1612.0,604.0 L1626.3,595.5 L1645.0,591.5 L1664.6,590.5 L1691.4,593.6 L1708.6,602.0 L1725.8,597.4 L1745.0,592.5 L1767.9,589.8 L1810.0,589.5 L1863.6,590.5 L1886.5,599.3 L1901.1,618.5 L1890.4,639.5 L1867.4,658.6 L1833.0,664.4 L1806.2,667.1 L1775.5,661.7 L1744.9,651.0 L1725.0,640.0 L1710.5,629.9 L1701.0,640.0 L1691.4,649.1 L1680.0,658.0 L1670.3,664.4 L1658.0,659.0 L1645.4,652.9 L1630.0,645.0 L1614.8,635.7Z" fill="#ff0010" stroke="#ff0010" stroke-width="1.5" stroke-linejoin="round"/><path d="M1935.5,616.5 L1945.8,597.4 L1965.0,592.5 L1989.9,590.9 L2010.0,593.5 L2024.3,599.3 L2036.5,616.5 L2031.0,630.0 L2024.3,639.5 L2010.0,648.0 L1993.7,655.6 L1975.0,655.0 L1959.2,652.9 L1943.9,635.7Z" fill="#ff0010" stroke="#ff0010" stroke-width="1.5" stroke-linejoin="round"/><path d="M1810.0,579.0 L1815.0,574.5 L1823.0,573.5 L1831.0,576.5 L1833.0,580.0 L1827.0,583.5 L1820.0,585.0 L1813.0,583.0Z" fill="#ff0010" stroke="#ff0010" stroke-width="1.5" stroke-linejoin="round"/><path d="M1643.5,722.0 L1648.0,716.5 L1660.0,714.5 L1672.0,714.0 L1685.0,716.0 L1692.5,722.0 L1688.0,728.5 L1675.0,730.5 L1662.0,731.4 L1650.0,730.0Z" fill="#0000ff" stroke="#0000ff" stroke-width="1.5" stroke-linejoin="round"/><path d="M1752.6,723.0 L1760.0,714.0 L1775.0,709.0 L1795.0,706.5 L1820.0,706.5 L1840.0,710.0 L1855.0,716.0 L1866.6,722.5 L1858.0,729.0 L1840.0,735.0 L1815.0,739.0 L1805.0,741.0 L1790.0,738.0 L1772.0,736.0 L1758.0,731.0Z" fill="#0000ff" stroke="#0000ff" stroke-width="1.5" stroke-linejoin="round"/><path d="M1976.5,722.0 L1982.0,717.0 L1989.0,722.0 L1984.0,727.5Z" fill="#0000ff" stroke="#0000ff" stroke-width="1.5" stroke-linejoin="round"/><path d="M674.6,940.2 L682.9,940.2 L682.9,946.1 L674.6,946.1Z" fill="#ff0010" stroke="#ff0010" stroke-width="1.5" stroke-linejoin="round"/><path d="M656.1,982.5 L661.2,967.8 L669.5,959.8 L682.3,960.2 L688.0,964.6 L712.2,965.3 L719.9,973.6 L723.1,985.0 L718.6,994.0 L712.2,997.8 L712.2,1008.0 L696.9,1008.0 L699.5,995.3 L690.6,990.2 L682.9,995.3 L669.5,997.2 L661.2,991.4Z" fill="#ff0010" stroke="#ff0010" stroke-width="1.5" stroke-linejoin="round"/><path d="M694.4,1008.0 L712.2,1008.0 L712.2,1034.0 L694.4,1034.0Z" fill="#0000ff" stroke="#0000ff" stroke-width="1.5" stroke-linejoin="round"/><path d="M663.8,1031.0 L675.3,1016.9 L682.9,1016.9 L688.0,1032.9 L712.2,1032.9 L737.8,1041.2 L745.4,1046.3 L750.5,1052.7 L751.1,1062.9 L745.4,1069.2 L731.4,1088.8 L650.4,1088.8 L638.3,1075.6 L628.7,1062.9 L629.3,1055.2 L638.3,1047.6 L651.0,1038.6Z" fill="#0000ff" stroke="#0000ff" stroke-width="1.5" stroke-linejoin="round"/><path d="M650.4,1088.4 L728.8,1088.4 L727.6,1097.3 L722.0,1110.0 L717.3,1122.8 L712.2,1139.4 L704.0,1142.5 L695.0,1138.0 L686.7,1136.8 L679.0,1142.5 L670.0,1139.0 L666.3,1134.3 L660.0,1119.0 L653.6,1106.2 L650.4,1097.3Z" fill="#ff0010" stroke="#ff0010" stroke-width="1.5" stroke-linejoin="round"/><path d="M1328.5,983.4 L1332.3,973.2 L1337.4,968.1 L1356.5,967.4 L1364.2,971.9 L1369.3,970.6 L1384.6,970.6 L1392.2,975.7 L1398.0,982.1 L1396.7,989.7 L1392.2,994.2 L1378.2,994.2 L1371.8,991.0 L1364.2,992.3 L1360.4,997.4 L1359.7,1008.9 L1346.3,1008.9 L1341.2,1002.5 L1333.6,993.6Z" fill="#ff0010" stroke="#ff0010" stroke-width="1.5" stroke-linejoin="round"/><path d="M1347.6,1008.9 L1359.0,1008.9 L1354.0,1016.5Z" fill="#0000ff" stroke="#0000ff" stroke-width="1.5" stroke-linejoin="round"/><path d="M1292.8,1061.2 L1292.8,1065.0 L1300.4,1068.8 L1304.2,1077.8 L1306.8,1087.2 L1403.7,1089.0 L1413.9,1081.6 L1422.9,1072.7 L1424.8,1062.4 L1420.3,1052.2 L1411.4,1044.6 L1391.0,1036.9 L1369.3,1033.8 L1343.8,1033.8 L1322.1,1038.9 L1310.6,1045.9 L1299.1,1054.8Z" fill="#0000ff" stroke="#0000ff" stroke-width="1.5" stroke-linejoin="round"/><path d="M1306.8,1086.7 L1403.7,1088.6 L1399.9,1103.3 L1394.8,1112.2 L1383.3,1117.3 L1374.4,1126.2 L1364.2,1130.0 L1355.3,1129.4 L1340.0,1121.1 L1328.5,1114.7 L1317.0,1104.5 L1309.3,1093.1Z" fill="#ff0010" stroke="#ff0010" stroke-width="1.5" stroke-linejoin="round"/><path d="M1657.7,954.8 L1660.2,939.9 L1667.7,937.4 L1676.0,939.9 L1677.6,955.6 L1685.9,961.5 L1697.5,969.7 L1705.8,982.2 L1699.2,989.6 L1689.2,996.3 L1684.3,1009.5 L1630.4,1009.5 L1624.6,997.9 L1617.1,983.8 L1622.9,973.1 L1634.5,962.3 L1652.8,958.1Z" fill="#ff0010" stroke="#ff0010" stroke-width="1.5" stroke-linejoin="round"/><path d="M1714.1,982.2 L1724.0,969.7 L1750.6,962.3 L1772.0,958.5 L1774.3,942.0 L1781.0,935.0 L1800.2,932.4 L1834.6,936.3 L1835.6,956.3 L1859.5,958.3 L1874.8,967.8 L1882.4,981.2 L1874.8,994.6 L1869.0,1009.5 L1752.2,1009.5 L1739.0,996.3 L1722.4,989.6Z" fill="#ff0010" stroke="#ff0010" stroke-width="1.5" stroke-linejoin="round"/><path d="M1946.5,983.1 L1968.5,960.2 L1993.4,963.0 L2014.5,969.7 L2024.0,983.1 L2016.4,990.8 L2001.1,996.5 L2000.1,1009.5 L1968.5,1009.5 L1966.6,996.5 L1953.2,992.7Z" fill="#ff0010" stroke="#ff0010" stroke-width="1.5" stroke-linejoin="round"/><path d="M1630.4,1009.0 L1647.8,1009.0 L1645.0,1034.0 L1630.4,1034.0Z" fill="#0000ff" stroke="#0000ff" stroke-width="1.5" stroke-linejoin="round"/><path d="M1656.0,1009.0 L1683.4,1009.0 L1684.3,1034.0 L1660.0,1034.0Z" fill="#0000ff" stroke="#0000ff" stroke-width="1.5" stroke-linejoin="round"/><path d="M1753.0,1009.0 L1869.0,1009.0 L1864.3,1034.0 L1753.0,1034.0Z" fill="#0000ff" stroke="#0000ff" stroke-width="1.5" stroke-linejoin="round"/><path d="M1957.0,1020.0 L1968.5,1009.0 L2000.1,1009.0 L2003.0,1034.0 L1960.0,1034.0Z" fill="#0000ff" stroke="#0000ff" stroke-width="1.5" stroke-linejoin="round"/><path d="M1550.0,1061.0 L1556.6,1049.3 L1578.1,1041.9 L1611.3,1038.6 L1626.2,1033.6 L1684.3,1032.7 L1702.5,1037.7 L1722.4,1036.9 L1735.7,1033.6 L1800.0,1032.7 L1864.3,1032.9 L1897.7,1048.2 L1920.7,1048.2 L1941.7,1037.7 L1960.9,1034.8 L2008.7,1031.9 L2031.7,1042.4 L2041.2,1061.6 L2039.3,1084.5 L2037.4,1088.8 L1930.3,1088.8 L1922.6,1076.9 L1901.6,1088.8 L1609.6,1088.8 L1594.7,1076.7 L1576.5,1075.0 L1556.6,1068.4Z" fill="#0000ff" stroke="#0000ff" stroke-width="1.5" stroke-linejoin="round"/><path d="M1611.3,1088.3 L1613.0,1099.1 L1621.2,1115.7 L1626.2,1128.9 L1639.5,1138.9 L1639.5,1155.5 L1646.1,1162.9 L1669.3,1165.4 L1680.9,1158.8 L1689.2,1142.2 L1694.2,1117.3 L1699.2,1112.3 L1712.4,1109.0 L1730.7,1112.3 L1735.7,1130.6 L1757.2,1137.2 L1760.5,1155.5 L1772.1,1165.4 L1793.7,1168.7 L1817.4,1167.8 L1836.5,1164.9 L1847.0,1155.3 L1848.0,1138.1 L1871.0,1132.4 L1882.4,1111.3 L1901.6,1088.3Z" fill="#ff0010" stroke="#ff0010" stroke-width="1.5" stroke-linejoin="round"/><path d="M1930.3,1088.4 L2037.4,1088.4 L2027.8,1101.7 L2008.7,1122.8 L1989.6,1137.1 L1970.4,1132.4 L1957.1,1122.8 L1949.4,1107.5Z" fill="#ff0010" stroke="#ff0010" stroke-width="1.5" stroke-linejoin="round"/><path d="M1792.0,1168.0 L1810.0,1168.0 L1808.0,1180.0 L1800.0,1190.0 L1793.0,1180.0Z" fill="#0000ff" stroke="#0000ff" stroke-width="1.5" stroke-linejoin="round"/><path d="M1811.0,1172.0 L1834.2,1172.0 L1837.4,1205.0 L1812.0,1205.0Z" fill="#0000ff" stroke="#0000ff" stroke-width="1.5" stroke-linejoin="round"/><path d="M644.6,1229.7 L651.0,1220.8 L666.3,1207.4 L676.5,1205.5 L688.0,1208.7 L695.7,1207.4 L713.5,1208.1 L721.2,1217.0 L736.5,1224.6 L744.1,1233.6 L746.7,1245.0 L737.8,1252.7 L726.3,1261.6 L719.9,1271.8 L716.1,1285.9 L714.8,1293.5 L702.0,1293.5 L691.8,1289.7 L682.9,1293.5 L674.0,1294.8 L668.9,1289.7 L663.8,1275.7 L658.7,1259.1 L645.9,1247.6Z" fill="#0000ff" stroke="#0000ff" stroke-width="1.5" stroke-linejoin="round"/><path d="M1292.8,1243.8 L1297.9,1232.3 L1308.1,1220.8 L1331.0,1215.7 L1340.0,1210.0 L1347.6,1207.4 L1375.7,1207.4 L1388.4,1215.7 L1402.4,1223.4 L1420.3,1226.6 L1422.2,1237.4 L1415.2,1249.5 L1401.2,1257.8 L1397.3,1269.3 L1391.0,1282.0 L1382.0,1289.1 L1356.5,1288.4 L1343.8,1282.0 L1331.0,1273.1 L1310.6,1260.4 L1300.4,1252.7Z" fill="#0000ff" stroke="#0000ff" stroke-width="1.5" stroke-linejoin="round"/><path d="M1579.1,1242.5 L1588.7,1229.7 L1617.4,1217.0 L1633.3,1205.8 L1666.8,1201.0 L1693.9,1217.0 L1725.8,1213.8 L1764.1,1204.2 L1773.6,1186.7 L1789.6,1197.8 L1837.4,1204.2 L1866.1,1205.8 L1898.0,1226.5 L1914.0,1239.3 L1952.2,1205.8 L2000.0,1209.0 L2035.1,1223.3 L2041.5,1242.5 L2022.4,1258.4 L2000.0,1293.5 L1984.1,1298.3 L1952.2,1285.5 L1939.5,1258.4 L1914.0,1245.7 L1894.8,1252.0 L1878.9,1261.6 L1872.5,1290.3 L1847.0,1303.1 L1837.4,1335.0 L1815.1,1344.5 L1789.6,1341.3 L1783.2,1315.8 L1764.1,1309.4 L1751.3,1290.3 L1735.4,1287.1 L1722.6,1260.0 L1709.9,1260.0 L1693.9,1283.9 L1681.2,1309.4 L1671.6,1319.0 L1671.6,1347.7 L1665.2,1349.3 L1655.7,1331.8 L1652.5,1315.8 L1636.5,1306.3 L1614.2,1258.4 L1585.5,1248.9Z" fill="#0000ff" stroke="#0000ff" stroke-width="1.5" stroke-linejoin="round"/><path d="M653.9,1453.9 L655.7,1449.5 L663.8,1444.1 L670.0,1441.4 L682.5,1441.9 L687.9,1445.9 L695.9,1445.9 L699.5,1441.4 L709.3,1441.4 L717.3,1446.8 L720.4,1455.7 L719.1,1470.0 L713.8,1476.3 L704.8,1478.9 L694.1,1476.3 L693.2,1473.6 L673.6,1473.6 L667.3,1468.2 L662.9,1460.2 L655.7,1457.5Z" fill="#0000ff" stroke="#0000ff" stroke-width="1.5" stroke-linejoin="round"/><path d="M1336.1,1455.0 L1340.0,1448.0 L1348.0,1444.5 L1360.0,1444.2 L1366.0,1446.5 L1373.5,1450.0 L1376.6,1456.0 L1370.0,1459.5 L1362.0,1463.0 L1358.0,1467.0 L1348.0,1468.5 L1341.0,1465.0 L1338.0,1460.0Z" fill="#0000ff" stroke="#0000ff" stroke-width="1.5" stroke-linejoin="round"/><path d="M1585.5,1455.7 L1595.1,1439.7 L1611.0,1433.3 L1636.5,1404.6 L1655.7,1401.5 L1668.4,1391.9 L1681.2,1404.6 L1693.9,1425.4 L1713.1,1434.9 L1738.6,1438.1 L1776.8,1419.0 L1824.7,1417.4 L1856.6,1433.3 L1874.1,1452.5 L1872.5,1466.8 L1853.4,1476.4 L1847.0,1493.9 L1831.0,1506.7 L1805.5,1524.2 L1783.2,1516.2 L1764.1,1506.7 L1757.7,1493.9 L1735.4,1478.0 L1716.3,1478.0 L1700.3,1500.3 L1687.6,1525.8 L1668.4,1545.0 L1655.7,1545.0 L1636.5,1533.8 L1617.4,1509.9 L1611.0,1490.7 L1591.9,1481.2Z" fill="#0000ff" stroke="#0000ff" stroke-width="1.5" stroke-linejoin="round"/><path d="M1949.5,1455.0 L1955.0,1443.0 L1967.0,1434.0 L1982.5,1430.8 L1998.0,1434.5 L2010.0,1444.0 L2015.5,1460.0 L2012.0,1477.0 L2002.0,1490.0 L1985.0,1495.5 L1968.0,1490.0 L1957.0,1480.0 L1950.5,1468.0Z" fill="#0000ff" stroke="#0000ff" stroke-width="1.5" stroke-linejoin="round"/><path d="M606.6,2492.9 L611.6,2487.2 L620.5,2487.2 L628.1,2491.6 L631.9,2487.8 L635.7,2480.3 L643.3,2478.4 L649.6,2484.1 L652.8,2492.9 L653.4,2510.6 L652.2,2529.6 L649.0,2542.3 L642.7,2543.5 L635.7,2533.4 L633.2,2519.5 L630.6,2511.9 L621.8,2511.9 L616.7,2515.7 L610.4,2515.1 L606.6,2508.1Z" fill="#ff0010" stroke="#ff0010" stroke-width="1.5" stroke-linejoin="round"/><path d="M601.5,2629.6 L605.3,2620.8 L615.4,2615.1 L630.6,2613.8 L638.2,2605.6 L650.9,2604.3 L657.2,2610.6 L661.0,2623.3 L663.5,2630.9 L671.1,2636.0 L668.6,2641.0 L661.0,2643.5 L653.4,2652.4 L648.4,2657.5 L639.5,2652.4 L630.6,2641.0 L625.6,2639.7 L616.7,2651.1 L619.2,2665.1 L615.4,2672.7 L607.8,2673.9 L604.1,2670.1 L603.4,2647.3 L601.5,2644.8Z" fill="#0000ff" stroke="#0000ff" stroke-width="1.5" stroke-linejoin="round"/><path d="M604.1,2722.0 L607.0,2713.0 L614.5,2710.6 L622.0,2713.0 L624.9,2722.0 L624.0,2733.0 L620.0,2742.0 L614.5,2743.5 L608.5,2741.0 L605.0,2732.0Z" fill="#ff0010" stroke="#ff0010" stroke-width="1.5" stroke-linejoin="round"/><path d="M633.8,2724.0 L637.0,2713.5 L644.8,2710.6 L652.5,2713.5 L655.9,2724.0 L655.0,2738.0 L650.0,2748.0 L644.8,2749.9 L639.0,2747.0 L635.0,2738.0Z" fill="#ff0010" stroke="#ff0010" stroke-width="1.5" stroke-linejoin="round"/><path d="M620.2,2879.8 L623.6,2872.9 L629.0,2866.0 L636.6,2859.9 L650.4,2859.9 L657.3,2865.2 L657.7,2875.2 L654.2,2881.3 L639.7,2885.1 L635.1,2889.7 L626.7,2891.6 L620.6,2887.4Z" fill="#ff0010" stroke="#ff0010" stroke-width="1.5" stroke-linejoin="round"/><ellipse cx="611.7" cy="2933.3" rx="8.2" ry="17.6" fill="#0000ff"/><path d="M623.0,2928.0 L626.0,2920.5 L628.0,2919.6 L629.0,2923.0 L632.8,2924.0 L632.8,2942.5 L622.8,2942.5Z" fill="#009a9a" stroke="#009a9a" stroke-width="1.5" stroke-linejoin="round"/><path d="M634.0,2928.0 L636.0,2917.0 L640.0,2913.5 L645.0,2911.9 L650.0,2914.0 L652.3,2925.0 L651.8,2940.0 L650.2,2952.0 L652.3,2960.0 L651.5,2968.0 L646.0,2972.5 L640.0,2972.0 L635.0,2966.0 L634.5,2956.0 L636.2,2945.0Z" fill="#0000ff" stroke="#0000ff" stroke-width="1.5" stroke-linejoin="round"/><path d="M1235.1,2516.0 L1237.0,2508.0 L1241.5,2501.0 L1246.6,2499.9 L1251.5,2501.5 L1254.1,2512.0 L1253.5,2520.0 L1248.0,2522.0 L1239.0,2522.0Z" fill="#ff0010" stroke="#ff0010" stroke-width="1.5" stroke-linejoin="round"/><path d="M1262.5,2510.0 L1265.0,2496.0 L1272.0,2487.0 L1280.0,2484.2 L1290.0,2484.0 L1294.4,2488.0 L1290.0,2498.0 L1287.5,2512.0 L1284.5,2525.0 L1279.0,2532.6 L1271.0,2532.6 L1265.0,2525.0Z" fill="#ff0010" stroke="#ff0010" stroke-width="1.5" stroke-linejoin="round"/><path d="M1297.9,2503.0 L1299.5,2493.0 L1305.0,2489.2 L1311.0,2490.5 L1316.5,2500.0 L1317.0,2512.0 L1314.5,2522.0 L1308.0,2527.3 L1301.5,2523.0 L1298.0,2514.0Z" fill="#ff0010" stroke="#ff0010" stroke-width="1.5" stroke-linejoin="round"/><path d="M1270.9,2582.2 L1281.1,2582.2 L1283.8,2587.5 L1286.4,2598.2 L1290.9,2610.6 L1295.3,2617.7 L1301.5,2614.1 L1307.7,2612.3 L1313.9,2616.8 L1317.0,2622.1 L1317.0,2640.7 L1313.0,2645.1 L1303.3,2646.0 L1299.7,2642.5 L1292.6,2642.5 L1289.1,2646.0 L1282.0,2649.5 L1271.4,2649.5 L1267.8,2645.1 L1265.2,2637.1 L1263.0,2625.6 L1265.2,2612.3 L1268.3,2602.6 L1270.5,2592.9Z" fill="#0000ff" stroke="#0000ff" stroke-width="1.5" stroke-linejoin="round"/><rect x="1274.5" y="2283.5" width="5.0" height="5.0" fill="#66c6c6"/><rect x="1306.2" y="3533.0" width="5.3" height="5.1" fill="#0000ff"/><path d="M1529.5,2510.9 L1529.5,2484.9 L1537.8,2469.5 L1547.2,2467.2 L1553.0,2474.0 L1555.0,2487.0 L1556.3,2472.0 L1551.5,2460.0 L1559.1,2454.2 L1568.5,2458.9 L1581.5,2475.4 L1585.0,2494.3 L1584.0,2530.0 L1530.0,2530.0Z" fill="#ff0010" stroke="#ff0010" stroke-width="1.5" stroke-linejoin="round"/><path d="M1529.0,2530.0 L1549.9,2530.0 L1549.9,2560.0 L1545.0,2578.0 L1537.0,2581.1 L1528.0,2576.0 L1524.9,2565.0 L1527.0,2545.0Z" fill="#0000ff" stroke="#0000ff" stroke-width="1.5" stroke-linejoin="round"/><path d="M1557.2,2530.0 L1582.6,2530.0 L1582.1,2560.0 L1579.0,2578.0 L1570.0,2584.0 L1561.0,2580.0 L1557.5,2565.0Z" fill="#0000ff" stroke="#0000ff" stroke-width="1.5" stroke-linejoin="round"/><path d="M1529.3,2592.8 L1538.1,2592.8 L1538.1,2600.1 L1529.3,2600.1Z" fill="#009a9a" stroke="#009a9a" stroke-width="1.5" stroke-linejoin="round"/><path d="M1544.0,2600.1 L1544.0,2589.9 L1555.7,2585.5 L1566.0,2594.3 L1570.4,2608.9 L1590.9,2617.7 L1593.9,2626.5 L1586.5,2644.1 L1585.1,2673.5 L1582.1,2682.6 L1549.9,2682.6 L1532.3,2661.7 L1524.9,2629.5 L1526.4,2619.2 L1541.1,2611.9Z" fill="#0000ff" stroke="#0000ff" stroke-width="1.5" stroke-linejoin="round"/><path d="M1549.9,2682.5 L1586.5,2682.5 L1588.0,2709.3 L1588.0,2762.1 L1584.0,2776.0 L1577.7,2782.7 L1568.9,2782.7 L1563.0,2772.0 L1561.6,2762.1 L1560.1,2738.7 L1556.0,2755.0 L1549.9,2762.1 L1538.1,2762.1 L1533.0,2750.0 L1532.3,2738.7 L1532.3,2718.1 L1544.0,2707.9Z" fill="#ff0010" stroke="#ff0010" stroke-width="1.5" stroke-linejoin="round"/><path d="M1574.8,2823.7 L1583.6,2835.5 L1585.1,2853.1 L1590.9,2867.7 L1588.0,2902.9 L1576.3,2920.5 L1567.5,2917.6 L1555.7,2902.9 L1533.7,2879.5 L1541.1,2867.7 L1555.7,2856.0 L1567.5,2853.1 L1566.0,2835.5 L1569.0,2826.0Z" fill="#ff0010" stroke="#ff0010" stroke-width="1.5" stroke-linejoin="round"/><path d="M1524.9,2961.6 L1535.2,2949.9 L1548.4,2926.4 L1555.0,2928.0 L1561.6,2935.2 L1570.0,2927.0 L1576.3,2924.9 L1584.0,2929.0 L1588.0,2938.1 L1593.9,2961.6 L1585.1,2979.2 L1570.4,2988.0 L1555.7,2983.6 L1540.0,2987.0 L1529.3,2986.5 L1524.9,2976.3Z" fill="#0000ff" stroke="#0000ff" stroke-width="1.5" stroke-linejoin="round"/><path d="M1527.1,3113.3 L1532.3,3101.6 L1544.7,3099.4 L1546.2,3128.0 L1552.1,3135.4 L1558.7,3128.0 L1561.6,3104.5 L1570.4,3099.4 L1577.7,3103.1 L1580.7,3110.4 L1579.9,3139.8 L1573.3,3154.4 L1561.6,3155.9 L1554.3,3151.5 L1542.5,3153.0 L1532.3,3145.6 L1529.3,3139.8 L1528.6,3122.1Z" fill="#0000ff" stroke="#0000ff" stroke-width="1.5" stroke-linejoin="round"/><path d="M1548.4,3106.0 L1553.0,3104.5 L1559.4,3106.0 L1559.4,3120.0 L1554.0,3123.6 L1548.4,3121.0Z" fill="#009a9a" stroke="#009a9a" stroke-width="1.5" stroke-linejoin="round"/><path d="M1516.3,3384.9 L1524.9,3369.6 L1536.3,3359.5 L1547.8,3360.5 L1555.5,3368.0 L1561.2,3360.5 L1580.4,3359.5 L1589.9,3371.5 L1599.5,3383.0 L1599.5,3400.2 L1593.7,3423.1 L1586.1,3427.9 L1576.5,3426.0 L1553.6,3424.1 L1532.5,3425.0 L1521.0,3417.4 L1518.2,3407.8Z" fill="#0000ff" stroke="#0000ff" stroke-width="1.5" stroke-linejoin="round"/><path d="M1642.6,2499.4 L1646.8,2482.6 L1653.1,2478.4 L1676.3,2474.2 L1680.5,2455.3 L1697.3,2448.9 L1714.2,2457.4 L1726.8,2444.7 L1737.3,2438.4 L1745.7,2444.7 L1756.3,2467.9 L1764.7,2465.8 L1768.9,2453.1 L1777.3,2452.1 L1785.7,2463.7 L1789.9,2480.5 L1800.5,2491.0 L1832.0,2491.0 L1856.2,2486.8 L1867.8,2470.0 L1874.1,2467.9 L1885.7,2475.2 L1896.2,2472.1 L1896.2,2457.4 L1903.6,2452.1 L1912.0,2457.4 L1910.9,2475.2 L1926.7,2471.0 L1936.2,2482.6 L1941.5,2499.4 L1937.2,2522.6 L1928.8,2537.3 L1918.3,2552.1 L1907.8,2565.5 L1888.8,2565.5 L1874.1,2565.5 L1853.1,2566.8 L1872.0,2552.1 L1863.6,2539.4 L1848.9,2528.9 L1832.0,2507.9 L1823.6,2499.4 L1811.0,2510.0 L1798.3,2526.8 L1781.5,2556.8 L1678.4,2556.8 L1672.1,2535.2 L1653.1,2533.1 L1646.8,2520.5Z" fill="#ff0010" stroke="#ff0010" stroke-width="1.5" stroke-linejoin="round"/><path d="M1681.9,2557.6 L1781.6,2557.6 L1783.1,2606.0 L1790.4,2617.7 L1810.9,2629.5 L1813.9,2641.2 L1799.2,2658.8 L1781.6,2673.5 L1784.5,2691.5 L1678.9,2691.5 L1681.9,2673.5 L1664.3,2655.9 L1652.5,2635.3 L1652.5,2620.7 L1668.7,2611.9 L1670.1,2588.4Z" fill="#0000ff" stroke="#0000ff" stroke-width="1.5" stroke-linejoin="round"/><path d="M1843.2,2570.8 L1854.9,2565.5 L1907.7,2564.9 L1909.2,2600.1 L1931.2,2611.9 L1944.4,2623.6 L1944.4,2641.2 L1937.1,2667.6 L1916.5,2673.5 L1916.5,2694.0 L1857.9,2694.0 L1855.0,2673.5 L1837.3,2647.1 L1828.5,2626.5 L1834.4,2611.9 L1860.8,2606.0 L1866.7,2576.7Z" fill="#0000ff" stroke="#0000ff" stroke-width="1.5" stroke-linejoin="round"/><rect x="1942.5" y="2514.5" width="4.0" height="4.0" fill="#0000ff"/><path d="M1679.6,2690.0 L1787.2,2688.2 L1787.8,2698.4 L1781.6,2715.7 L1785.7,2731.0 L1784.7,2757.6 L1772.4,2757.6 L1762.2,2745.3 L1758.2,2741.2 L1746.9,2754.5 L1735.7,2762.0 L1683.7,2762.0 L1676.5,2755.5 L1671.4,2746.3 L1668.4,2731.0 L1673.5,2710.6Z" fill="#ff0010" stroke="#ff0010" stroke-width="1.5" stroke-linejoin="round"/><path d="M1681.6,2761.6 L1735.7,2761.6 L1738.8,2764.7 L1755.1,2764.7 L1762.2,2774.9 L1763.3,2790.2 L1755.1,2807.6 L1757.1,2815.7 L1765.3,2815.7 L1769.4,2787.1 L1780.6,2788.2 L1787.8,2806.5 L1792.9,2822.9 L1789.8,2833.1 L1765.3,2833.1 L1757.1,2840.2 L1723.5,2842.2 L1716.3,2830.0 L1707.1,2807.6 L1704.1,2794.3 L1689.8,2794.3 L1681.6,2787.1 L1679.6,2771.8Z" fill="#0000ff" stroke="#0000ff" stroke-width="1.5" stroke-linejoin="round"/><path d="M1652.5,2861.9 L1664.3,2856.0 L1681.9,2850.1 L1699.5,2856.0 L1720.0,2853.1 L1734.7,2856.0 L1734.7,2841.3 L1752.3,2841.3 L1755.2,2856.0 L1778.7,2856.0 L1793.3,2870.7 L1793.3,2891.2 L1787.5,2908.8 L1778.7,2926.4 L1772.8,2911.7 L1705.3,2911.7 L1670.1,2900.0 L1652.5,2882.4Z" fill="#ff0010" stroke="#ff0010" stroke-width="1.5" stroke-linejoin="round"/><path d="M1673.1,2946.9 L1681.9,2927.9 L1702.4,2929.3 L1705.3,2911.0 L1758.1,2911.0 L1759.6,2952.8 L1769.9,2960.1 L1778.7,2951.3 L1793.3,2954.3 L1800.7,2963.1 L1793.3,2971.9 L1778.7,2970.4 L1766.9,2966.0 L1761.1,2977.7 L1740.5,2979.2 L1728.8,2986.5 L1714.1,2977.7 L1702.4,2998.3 L1696.5,2998.3 L1687.7,2985.1 L1676.0,2973.3Z" fill="#0000ff" stroke="#0000ff" stroke-width="1.5" stroke-linejoin="round"/><path d="M1772.8,2910.3 L1777.2,2910.3 L1775.0,2926.4Z" fill="#ff0010" stroke="#ff0010" stroke-width="1.5" stroke-linejoin="round"/><path d="M1646.7,3136.0 L1650.0,3126.0 L1656.0,3123.6 L1661.0,3126.0 L1665.8,3136.0 L1663.0,3146.0 L1656.0,3150.0 L1650.0,3147.0Z" fill="#0000ff" stroke="#0000ff" stroke-width="1.5" stroke-linejoin="round"/><path d="M1667.2,3130.0 L1672.0,3120.0 L1680.0,3115.5 L1698.0,3114.8 L1698.0,3135.0 L1694.0,3150.0 L1688.0,3168.0 L1684.0,3177.9 L1678.0,3172.0 L1671.0,3150.0Z" fill="#0000ff" stroke="#0000ff" stroke-width="1.5" stroke-linejoin="round"/><path d="M1701.0,3125.0 L1706.0,3118.0 L1716.0,3113.0 L1727.3,3110.3 L1726.0,3125.0 L1720.0,3148.0 L1712.0,3163.1 L1705.0,3160.0 L1702.0,3145.0Z" fill="#0000ff" stroke="#0000ff" stroke-width="1.5" stroke-linejoin="round"/><path d="M1730.3,3130.0 L1736.0,3122.0 L1745.0,3112.0 L1751.0,3104.4 L1758.0,3108.0 L1765.5,3120.0 L1757.0,3140.0 L1752.0,3160.0 L1745.0,3168.9 L1735.0,3167.0 L1731.0,3150.0Z" fill="#0000ff" stroke="#0000ff" stroke-width="1.5" stroke-linejoin="round"/><path d="M1764.0,3135.0 L1770.0,3128.0 L1780.0,3120.5 L1788.0,3121.0 L1791.9,3128.0 L1784.0,3140.0 L1780.0,3160.0 L1775.0,3168.9 L1768.0,3166.0 L1765.0,3150.0Z" fill="#0000ff" stroke="#0000ff" stroke-width="1.5" stroke-linejoin="round"/><ellipse cx="1725.1" cy="3155.0" rx="3.8" ry="3.8" fill="#009a9a"/><ellipse cx="1757.4" cy="3155.7" rx="6.6" ry="7.3" fill="#009a9a"/><ellipse cx="1789.6" cy="3155.0" rx="5.0" ry="3.8" fill="#009a9a"/><path d="M1857.9,3140.0 L1866.0,3131.0 L1878.0,3126.5 L1892.0,3125.8 L1903.0,3130.0 L1907.7,3138.0 L1903.0,3144.0 L1890.0,3147.0 L1880.0,3153.0 L1872.0,3155.7 L1863.0,3149.0Z" fill="#0000ff" stroke="#0000ff" stroke-width="1.5" stroke-linejoin="round"/><path d="M1679.8,3379.1 L1689.4,3372.4 L1704.7,3366.7 L1716.2,3368.6 L1729.6,3378.2 L1737.2,3390.6 L1743.0,3400.2 L1737.2,3410.7 L1727.7,3416.4 L1714.3,3413.6 L1699.0,3412.6 L1687.5,3405.9 L1679.8,3396.3Z" fill="#0000ff" stroke="#0000ff" stroke-width="1.5" stroke-linejoin="round"/><path d="M1693.2,3533.1 L1700.9,3533.1 L1697.0,3538.0Z" fill="#0000ff" stroke="#0000ff" stroke-width="1.5" stroke-linejoin="round"/><path d="M1717.1,3545.0 L1718.5,3535.0 L1723.5,3530.3 L1729.0,3534.0 L1730.5,3545.0Z" fill="#0000ff" stroke="#0000ff" stroke-width="1.5" stroke-linejoin="round"/><path d="M1744.9,3545.0 L1747.0,3539.0 L1752.0,3537.9 L1756.0,3539.5 L1757.3,3545.0Z" fill="#0000ff" stroke="#0000ff" stroke-width="1.5" stroke-linejoin="round"/><path d="M1855.0,2680.0 L1916.5,2680.0 L1915.0,2702.0 L1858.0,2702.0Z" fill="#0000ff" stroke="#0000ff" stroke-width="1.5" stroke-linejoin="round"/><path d="M1842.3,2716.3 L1847.7,2710.9 L1862.0,2705.5 L1870.0,2699.3 L1873.6,2694.8 L1887.0,2693.9 L1900.4,2697.5 L1914.6,2702.9 L1913.8,2715.4 L1917.3,2724.3 L1936.1,2726.5 L1940.1,2730.5 L1940.1,2735.9 L1934.3,2739.0 L1918.2,2738.6 L1912.9,2743.9 L1894.1,2745.7 L1889.6,2749.3 L1878.0,2751.1 L1879.4,2763.6 L1877.1,2771.6 L1873.6,2777.0 L1862.0,2777.0 L1857.5,2769.8 L1853.5,2761.8 L1853.5,2751.1 L1855.7,2738.6 L1853.0,2728.8 L1845.9,2723.4 L1842.3,2718.9Z" fill="#ff0010" stroke="#ff0010" stroke-width="1.5" stroke-linejoin="round"/><path d="M1846.1,2826.0 L1852.0,2818.0 L1866.0,2814.5 L1876.0,2815.0 L1879.9,2825.0 L1875.0,2832.0 L1860.0,2834.0 L1850.0,2833.0Z" fill="#0000ff" stroke="#0000ff" stroke-width="1.5" stroke-linejoin="round"/><path d="M1890.1,2830.0 L1894.0,2814.0 L1902.0,2803.0 L1911.0,2800.3 L1917.5,2806.0 L1916.0,2818.0 L1908.0,2832.0 L1900.0,2838.4 L1893.0,2837.0Z" fill="#0000ff" stroke="#0000ff" stroke-width="1.5" stroke-linejoin="round"/><ellipse cx="1845.5" cy="2866.0" rx="3.5" ry="3.5" fill="#ff0010"/><path d="M1852.0,2873.6 L1869.6,2861.9 L1910.7,2857.5 L1934.1,2861.9 L1937.1,2873.6 L1916.5,2905.9 L1910.7,2912.0 L1884.3,2912.0 L1866.7,2902.9 L1854.9,2885.3Z" fill="#ff0010" stroke="#ff0010" stroke-width="1.5" stroke-linejoin="round"/><path d="M1884.3,2911.7 L1913.6,2911.7 L1912.1,2942.5 L1910.7,2949.9 L1915.1,2961.6 L1907.7,2971.9 L1896.0,2973.3 L1875.5,2970.4 L1863.7,2964.5 L1862.3,2946.9 L1875.5,2929.3Z" fill="#0000ff" stroke="#0000ff" stroke-width="1.5" stroke-linejoin="round"/><path d="M644.6,622.0 L649.0,612.0 L655.0,603.0 L662.0,596.5 L670.0,592.5 L690.0,592.1 L712.0,592.3 L720.0,597.0 L726.0,604.0 L730.5,613.0 L731.4,622.0 L729.0,631.0 L724.0,640.0 L716.0,647.0 L700.0,650.0 L686.0,650.0 L676.0,652.0 L667.0,648.0 L659.0,641.0 L651.0,633.0Z" fill="url(#spA)" stroke="none"/><path d="M1303.6,618.0 L1309.3,605.3 L1325.9,597.6 L1338.7,594.7 L1371.8,592.5 L1388.4,593.8 L1398.6,603.4 L1406.3,613.6 L1406.3,621.2 L1394.8,631.4 L1395.4,642.9 L1389.7,648.0 L1369.3,648.0 L1361.6,653.1 L1347.6,656.3 L1340.0,651.8 L1331.0,641.6 L1315.7,634.0 L1305.5,623.8Z" fill="url(#spA)" stroke="none"/><path d="M1604.1,618.5 L1612.0,604.0 L1626.3,595.5 L1645.0,591.5 L1664.6,590.5 L1691.4,593.6 L1708.6,602.0 L1725.8,597.4 L1745.0,592.5 L1767.9,589.8 L1810.0,589.5 L1863.6,590.5 L1886.5,599.3 L1901.1,618.5 L1890.4,639.5 L1867.4,658.6 L1833.0,664.4 L1806.2,667.1 L1775.5,661.7 L1744.9,651.0 L1725.0,640.0 L1710.5,629.9 L1701.0,640.0 L1691.4,649.1 L1680.0,658.0 L1670.3,664.4 L1658.0,659.0 L1645.4,652.9 L1630.0,645.0 L1614.8,635.7Z" fill="url(#spA)" stroke="none"/><path d="M1935.5,616.5 L1945.8,597.4 L1965.0,592.5 L1989.9,590.9 L2010.0,593.5 L2024.3,599.3 L2036.5,616.5 L2031.0,630.0 L2024.3,639.5 L2010.0,648.0 L1993.7,655.6 L1975.0,655.0 L1959.2,652.9 L1943.9,635.7Z" fill="url(#spA)" stroke="none"/><path d="M1810.0,579.0 L1815.0,574.5 L1823.0,573.5 L1831.0,576.5 L1833.0,580.0 L1827.0,583.5 L1820.0,585.0 L1813.0,583.0Z" fill="url(#spA)" stroke="none"/><path d="M1643.5,722.0 L1648.0,716.5 L1660.0,714.5 L1672.0,714.0 L1685.0,716.0 L1692.5,722.0 L1688.0,728.5 L1675.0,730.5 L1662.0,731.4 L1650.0,730.0Z" fill="url(#spA)" stroke="none"/><path d="M1752.6,723.0 L1760.0,714.0 L1775.0,709.0 L1795.0,706.5 L1820.0,706.5 L1840.0,710.0 L1855.0,716.0 L1866.6,722.5 L1858.0,729.0 L1840.0,735.0 L1815.0,739.0 L1805.0,741.0 L1790.0,738.0 L1772.0,736.0 L1758.0,731.0Z" fill="url(#spA)" stroke="none"/><path d="M656.1,982.5 L661.2,967.8 L669.5,959.8 L682.3,960.2 L688.0,964.6 L712.2,965.3 L719.9,973.6 L723.1,985.0 L718.6,994.0 L712.2,997.8 L712.2,1008.0 L696.9,1008.0 L699.5,995.3 L690.6,990.2 L682.9,995.3 L669.5,997.2 L661.2,991.4Z" fill="url(#spA)" stroke="none"/><path d="M663.8,1031.0 L675.3,1016.9 L682.9,1016.9 L688.0,1032.9 L712.2,1032.9 L737.8,1041.2 L745.4,1046.3 L750.5,1052.7 L751.1,1062.9 L745.4,1069.2 L731.4,1088.8 L650.4,1088.8 L638.3,1075.6 L628.7,1062.9 L629.3,1055.2 L638.3,1047.6 L651.0,1038.6Z" fill="url(#spA)" stroke="none"/><path d="M650.4,1088.4 L728.8,1088.4 L727.6,1097.3 L722.0,1110.0 L717.3,1122.8 L712.2,1139.4 L704.0,1142.5 L695.0,1138.0 L686.7,1136.8 L679.0,1142.5 L670.0,1139.0 L666.3,1134.3 L660.0,1119.0 L653.6,1106.2 L650.4,1097.3Z" fill="url(#spA)" stroke="none"/><path d="M1328.5,983.4 L1332.3,973.2 L1337.4,968.1 L1356.5,967.4 L1364.2,971.9 L1369.3,970.6 L1384.6,970.6 L1392.2,975.7 L1398.0,982.1 L1396.7,989.7 L1392.2,994.2 L1378.2,994.2 L1371.8,991.0 L1364.2,992.3 L1360.4,997.4 L1359.7,1008.9 L1346.3,1008.9 L1341.2,1002.5 L1333.6,993.6Z" fill="url(#spA)" stroke="none"/><path d="M1292.8,1061.2 L1292.8,1065.0 L1300.4,1068.8 L1304.2,1077.8 L1306.8,1087.2 L1403.7,1089.0 L1413.9,1081.6 L1422.9,1072.7 L1424.8,1062.4 L1420.3,1052.2 L1411.4,1044.6 L1391.0,1036.9 L1369.3,1033.8 L1343.8,1033.8 L1322.1,1038.9 L1310.6,1045.9 L1299.1,1054.8Z" fill="url(#spA)" stroke="none"/><path d="M1306.8,1086.7 L1403.7,1088.6 L1399.9,1103.3 L1394.8,1112.2 L1383.3,1117.3 L1374.4,1126.2 L1364.2,1130.0 L1355.3,1129.4 L1340.0,1121.1 L1328.5,1114.7 L1317.0,1104.5 L1309.3,1093.1Z" fill="url(#spA)" stroke="none"/><path d="M1657.7,954.8 L1660.2,939.9 L1667.7,937.4 L1676.0,939.9 L1677.6,955.6 L1685.9,961.5 L1697.5,969.7 L1705.8,982.2 L1699.2,989.6 L1689.2,996.3 L1684.3,1009.5 L1630.4,1009.5 L1624.6,997.9 L1617.1,983.8 L1622.9,973.1 L1634.5,962.3 L1652.8,958.1Z" fill="url(#spA)" stroke="none"/><path d="M1714.1,982.2 L1724.0,969.7 L1750.6,962.3 L1772.0,958.5 L1774.3,942.0 L1781.0,935.0 L1800.2,932.4 L1834.6,936.3 L1835.6,956.3 L1859.5,958.3 L1874.8,967.8 L1882.4,981.2 L1874.8,994.6 L1869.0,1009.5 L1752.2,1009.5 L1739.0,996.3 L1722.4,989.6Z" fill="url(#spA)" stroke="none"/><path d="M1946.5,983.1 L1968.5,960.2 L1993.4,963.0 L2014.5,969.7 L2024.0,983.1 L2016.4,990.8 L2001.1,996.5 L2000.1,1009.5 L1968.5,1009.5 L1966.6,996.5 L1953.2,992.7Z" fill="url(#spA)" stroke="none"/><path d="M1957.0,1020.0 L1968.5,1009.0 L2000.1,1009.0 L2003.0,1034.0 L1960.0,1034.0Z" fill="url(#spA)" stroke="none"/><path d="M1550.0,1061.0 L1556.6,1049.3 L1578.1,1041.9 L1611.3,1038.6 L1626.2,1033.6 L1684.3,1032.7 L1702.5,1037.7 L1722.4,1036.9 L1735.7,1033.6 L1800.0,1032.7 L1864.3,1032.9 L1897.7,1048.2 L1920.7,1048.2 L1941.7,1037.7 L1960.9,1034.8 L2008.7,1031.9 L2031.7,1042.4 L2041.2,1061.6 L2039.3,1084.5 L2037.4,1088.8 L1930.3,1088.8 L1922.6,1076.9 L1901.6,1088.8 L1609.6,1088.8 L1594.7,1076.7 L1576.5,1075.0 L1556.6,1068.4Z" fill="url(#spA)" stroke="none"/><path d="M1611.3,1088.3 L1613.0,1099.1 L1621.2,1115.7 L1626.2,1128.9 L1639.5,1138.9 L1639.5,1155.5 L1646.1,1162.9 L1669.3,1165.4 L1680.9,1158.8 L1689.2,1142.2 L1694.2,1117.3 L1699.2,1112.3 L1712.4,1109.0 L1730.7,1112.3 L1735.7,1130.6 L1757.2,1137.2 L1760.5,1155.5 L1772.1,1165.4 L1793.7,1168.7 L1817.4,1167.8 L1836.5,1164.9 L1847.0,1155.3 L1848.0,1138.1 L1871.0,1132.4 L1882.4,1111.3 L1901.6,1088.3Z" fill="url(#spA)" stroke="none"/><path d="M1930.3,1088.4 L2037.4,1088.4 L2027.8,1101.7 L2008.7,1122.8 L1989.6,1137.1 L1970.4,1132.4 L1957.1,1122.8 L1949.4,1107.5Z" fill="url(#spA)" stroke="none"/><path d="M1792.0,1168.0 L1810.0,1168.0 L1808.0,1180.0 L1800.0,1190.0 L1793.0,1180.0Z" fill="url(#spA)" stroke="none"/><path d="M644.6,1229.7 L651.0,1220.8 L666.3,1207.4 L676.5,1205.5 L688.0,1208.7 L695.7,1207.4 L713.5,1208.1 L721.2,1217.0 L736.5,1224.6 L744.1,1233.6 L746.7,1245.0 L737.8,1252.7 L726.3,1261.6 L719.9,1271.8 L716.1,1285.9 L714.8,1293.5 L702.0,1293.5 L691.8,1289.7 L682.9,1293.5 L674.0,1294.8 L668.9,1289.7 L663.8,1275.7 L658.7,1259.1 L645.9,1247.6Z" fill="url(#spA)" stroke="none"/><path d="M1292.8,1243.8 L1297.9,1232.3 L1308.1,1220.8 L1331.0,1215.7 L1340.0,1210.0 L1347.6,1207.4 L1375.7,1207.4 L1388.4,1215.7 L1402.4,1223.4 L1420.3,1226.6 L1422.2,1237.4 L1415.2,1249.5 L1401.2,1257.8 L1397.3,1269.3 L1391.0,1282.0 L1382.0,1289.1 L1356.5,1288.4 L1343.8,1282.0 L1331.0,1273.1 L1310.6,1260.4 L1300.4,1252.7Z" fill="url(#spA)" stroke="none"/><path d="M1579.1,1242.5 L1588.7,1229.7 L1617.4,1217.0 L1633.3,1205.8 L1666.8,1201.0 L1693.9,1217.0 L1725.8,1213.8 L1764.1,1204.2 L1773.6,1186.7 L1789.6,1197.8 L1837.4,1204.2 L1866.1,1205.8 L1898.0,1226.5 L1914.0,1239.3 L1952.2,1205.8 L2000.0,1209.0 L2035.1,1223.3 L2041.5,1242.5 L2022.4,1258.4 L2000.0,1293.5 L1984.1,1298.3 L1952.2,1285.5 L1939.5,1258.4 L1914.0,1245.7 L1894.8,1252.0 L1878.9,1261.6 L1872.5,1290.3 L1847.0,1303.1 L1837.4,1335.0 L1815.1,1344.5 L1789.6,1341.3 L1783.2,1315.8 L1764.1,1309.4 L1751.3,1290.3 L1735.4,1287.1 L1722.6,1260.0 L1709.9,1260.0 L1693.9,1283.9 L1681.2,1309.4 L1671.6,1319.0 L1671.6,1347.7 L1665.2,1349.3 L1655.7,1331.8 L1652.5,1315.8 L1636.5,1306.3 L1614.2,1258.4 L1585.5,1248.9Z" fill="url(#spA)" stroke="none"/><path d="M653.9,1453.9 L655.7,1449.5 L663.8,1444.1 L670.0,1441.4 L682.5,1441.9 L687.9,1445.9 L695.9,1445.9 L699.5,1441.4 L709.3,1441.4 L717.3,1446.8 L720.4,1455.7 L719.1,1470.0 L713.8,1476.3 L704.8,1478.9 L694.1,1476.3 L693.2,1473.6 L673.6,1473.6 L667.3,1468.2 L662.9,1460.2 L655.7,1457.5Z" fill="url(#spA)" stroke="none"/><path d="M1336.1,1455.0 L1340.0,1448.0 L1348.0,1444.5 L1360.0,1444.2 L1366.0,1446.5 L1373.5,1450.0 L1376.6,1456.0 L1370.0,1459.5 L1362.0,1463.0 L1358.0,1467.0 L1348.0,1468.5 L1341.0,1465.0 L1338.0,1460.0Z" fill="url(#spA)" stroke="none"/><path d="M1585.5,1455.7 L1595.1,1439.7 L1611.0,1433.3 L1636.5,1404.6 L1655.7,1401.5 L1668.4,1391.9 L1681.2,1404.6 L1693.9,1425.4 L1713.1,1434.9 L1738.6,1438.1 L1776.8,1419.0 L1824.7,1417.4 L1856.6,1433.3 L1874.1,1452.5 L1872.5,1466.8 L1853.4,1476.4 L1847.0,1493.9 L1831.0,1506.7 L1805.5,1524.2 L1783.2,1516.2 L1764.1,1506.7 L1757.7,1493.9 L1735.4,1478.0 L1716.3,1478.0 L1700.3,1500.3 L1687.6,1525.8 L1668.4,1545.0 L1655.7,1545.0 L1636.5,1533.8 L1617.4,1509.9 L1611.0,1490.7 L1591.9,1481.2Z" fill="url(#spA)" stroke="none"/><path d="M1949.5,1455.0 L1955.0,1443.0 L1967.0,1434.0 L1982.5,1430.8 L1998.0,1434.5 L2010.0,1444.0 L2015.5,1460.0 L2012.0,1477.0 L2002.0,1490.0 L1985.0,1495.5 L1968.0,1490.0 L1957.0,1480.0 L1950.5,1468.0Z" fill="url(#spA)" stroke="none"/><path d="M606.6,2492.9 L611.6,2487.2 L620.5,2487.2 L628.1,2491.6 L631.9,2487.8 L635.7,2480.3 L643.3,2478.4 L649.6,2484.1 L652.8,2492.9 L653.4,2510.6 L652.2,2529.6 L649.0,2542.3 L642.7,2543.5 L635.7,2533.4 L633.2,2519.5 L630.6,2511.9 L621.8,2511.9 L616.7,2515.7 L610.4,2515.1 L606.6,2508.1Z" fill="url(#spB)" stroke="none"/><path d="M601.5,2629.6 L605.3,2620.8 L615.4,2615.1 L630.6,2613.8 L638.2,2605.6 L650.9,2604.3 L657.2,2610.6 L661.0,2623.3 L663.5,2630.9 L671.1,2636.0 L668.6,2641.0 L661.0,2643.5 L653.4,2652.4 L648.4,2657.5 L639.5,2652.4 L630.6,2641.0 L625.6,2639.7 L616.7,2651.1 L619.2,2665.1 L615.4,2672.7 L607.8,2673.9 L604.1,2670.1 L603.4,2647.3 L601.5,2644.8Z" fill="url(#spB)" stroke="none"/><path d="M604.1,2722.0 L607.0,2713.0 L614.5,2710.6 L622.0,2713.0 L624.9,2722.0 L624.0,2733.0 L620.0,2742.0 L614.5,2743.5 L608.5,2741.0 L605.0,2732.0Z" fill="url(#spB)" stroke="none"/><path d="M633.8,2724.0 L637.0,2713.5 L644.8,2710.6 L652.5,2713.5 L655.9,2724.0 L655.0,2738.0 L650.0,2748.0 L644.8,2749.9 L639.0,2747.0 L635.0,2738.0Z" fill="url(#spB)" stroke="none"/><path d="M620.2,2879.8 L623.6,2872.9 L629.0,2866.0 L636.6,2859.9 L650.4,2859.9 L657.3,2865.2 L657.7,2875.2 L654.2,2881.3 L639.7,2885.1 L635.1,2889.7 L626.7,2891.6 L620.6,2887.4Z" fill="url(#spB)" stroke="none"/><path d="M623.0,2928.0 L626.0,2920.5 L628.0,2919.6 L629.0,2923.0 L632.8,2924.0 L632.8,2942.5 L622.8,2942.5Z" fill="url(#spB)" stroke="none"/><path d="M634.0,2928.0 L636.0,2917.0 L640.0,2913.5 L645.0,2911.9 L650.0,2914.0 L652.3,2925.0 L651.8,2940.0 L650.2,2952.0 L652.3,2960.0 L651.5,2968.0 L646.0,2972.5 L640.0,2972.0 L635.0,2966.0 L634.5,2956.0 L636.2,2945.0Z" fill="url(#spB)" stroke="none"/><path d="M1235.1,2516.0 L1237.0,2508.0 L1241.5,2501.0 L1246.6,2499.9 L1251.5,2501.5 L1254.1,2512.0 L1253.5,2520.0 L1248.0,2522.0 L1239.0,2522.0Z" fill="url(#spB)" stroke="none"/><path d="M1262.5,2510.0 L1265.0,2496.0 L1272.0,2487.0 L1280.0,2484.2 L1290.0,2484.0 L1294.4,2488.0 L1290.0,2498.0 L1287.5,2512.0 L1284.5,2525.0 L1279.0,2532.6 L1271.0,2532.6 L1265.0,2525.0Z" fill="url(#spB)" stroke="none"/><path d="M1297.9,2503.0 L1299.5,2493.0 L1305.0,2489.2 L1311.0,2490.5 L1316.5,2500.0 L1317.0,2512.0 L1314.5,2522.0 L1308.0,2527.3 L1301.5,2523.0 L1298.0,2514.0Z" fill="url(#spB)" stroke="none"/><path d="M1270.9,2582.2 L1281.1,2582.2 L1283.8,2587.5 L1286.4,2598.2 L1290.9,2610.6 L1295.3,2617.7 L1301.5,2614.1 L1307.7,2612.3 L1313.9,2616.8 L1317.0,2622.1 L1317.0,2640.7 L1313.0,2645.1 L1303.3,2646.0 L1299.7,2642.5 L1292.6,2642.5 L1289.1,2646.0 L1282.0,2649.5 L1271.4,2649.5 L1267.8,2645.1 L1265.2,2637.1 L1263.0,2625.6 L1265.2,2612.3 L1268.3,2602.6 L1270.5,2592.9Z" fill="url(#spB)" stroke="none"/><path d="M1529.5,2510.9 L1529.5,2484.9 L1537.8,2469.5 L1547.2,2467.2 L1553.0,2474.0 L1555.0,2487.0 L1556.3,2472.0 L1551.5,2460.0 L1559.1,2454.2 L1568.5,2458.9 L1581.5,2475.4 L1585.0,2494.3 L1584.0,2530.0 L1530.0,2530.0Z" fill="url(#spB)" stroke="none"/><path d="M1529.0,2530.0 L1549.9,2530.0 L1549.9,2560.0 L1545.0,2578.0 L1537.0,2581.1 L1528.0,2576.0 L1524.9,2565.0 L1527.0,2545.0Z" fill="url(#spB)" stroke="none"/><path d="M1557.2,2530.0 L1582.6,2530.0 L1582.1,2560.0 L1579.0,2578.0 L1570.0,2584.0 L1561.0,2580.0 L1557.5,2565.0Z" fill="url(#spB)" stroke="none"/><path d="M1544.0,2600.1 L1544.0,2589.9 L1555.7,2585.5 L1566.0,2594.3 L1570.4,2608.9 L1590.9,2617.7 L1593.9,2626.5 L1586.5,2644.1 L1585.1,2673.5 L1582.1,2682.6 L1549.9,2682.6 L1532.3,2661.7 L1524.9,2629.5 L1526.4,2619.2 L1541.1,2611.9Z" fill="url(#spB)" stroke="none"/><path d="M1549.9,2682.5 L1586.5,2682.5 L1588.0,2709.3 L1588.0,2762.1 L1584.0,2776.0 L1577.7,2782.7 L1568.9,2782.7 L1563.0,2772.0 L1561.6,2762.1 L1560.1,2738.7 L1556.0,2755.0 L1549.9,2762.1 L1538.1,2762.1 L1533.0,2750.0 L1532.3,2738.7 L1532.3,2718.1 L1544.0,2707.9Z" fill="url(#spB)" stroke="none"/><path d="M1574.8,2823.7 L1583.6,2835.5 L1585.1,2853.1 L1590.9,2867.7 L1588.0,2902.9 L1576.3,2920.5 L1567.5,2917.6 L1555.7,2902.9 L1533.7,2879.5 L1541.1,2867.7 L1555.7,2856.0 L1567.5,2853.1 L1566.0,2835.5 L1569.0,2826.0Z" fill="url(#spB)" stroke="none"/><path d="M1524.9,2961.6 L1535.2,2949.9 L1548.4,2926.4 L1555.0,2928.0 L1561.6,2935.2 L1570.0,2927.0 L1576.3,2924.9 L1584.0,2929.0 L1588.0,2938.1 L1593.9,2961.6 L1585.1,2979.2 L1570.4,2988.0 L1555.7,2983.6 L1540.0,2987.0 L1529.3,2986.5 L1524.9,2976.3Z" fill="url(#spB)" stroke="none"/><path d="M1527.1,3113.3 L1532.3,3101.6 L1544.7,3099.4 L1546.2,3128.0 L1552.1,3135.4 L1558.7,3128.0 L1561.6,3104.5 L1570.4,3099.4 L1577.7,3103.1 L1580.7,3110.4 L1579.9,3139.8 L1573.3,3154.4 L1561.6,3155.9 L1554.3,3151.5 L1542.5,3153.0 L1532.3,3145.6 L1529.3,3139.8 L1528.6,3122.1Z" fill="url(#spB)" stroke="none"/><path d="M1548.4,3106.0 L1553.0,3104.5 L1559.4,3106.0 L1559.4,3120.0 L1554.0,3123.6 L1548.4,3121.0Z" fill="url(#spB)" stroke="none"/><path d="M1516.3,3384.9 L1524.9,3369.6 L1536.3,3359.5 L1547.8,3360.5 L1555.5,3368.0 L1561.2,3360.5 L1580.4,3359.5 L1589.9,3371.5 L1599.5,3383.0 L1599.5,3400.2 L1593.7,3423.1 L1586.1,3427.9 L1576.5,3426.0 L1553.6,3424.1 L1532.5,3425.0 L1521.0,3417.4 L1518.2,3407.8Z" fill="url(#spB)" stroke="none"/><path d="M1642.6,2499.4 L1646.8,2482.6 L1653.1,2478.4 L1676.3,2474.2 L1680.5,2455.3 L1697.3,2448.9 L1714.2,2457.4 L1726.8,2444.7 L1737.3,2438.4 L1745.7,2444.7 L1756.3,2467.9 L1764.7,2465.8 L1768.9,2453.1 L1777.3,2452.1 L1785.7,2463.7 L1789.9,2480.5 L1800.5,2491.0 L1832.0,2491.0 L1856.2,2486.8 L1867.8,2470.0 L1874.1,2467.9 L1885.7,2475.2 L1896.2,2472.1 L1896.2,2457.4 L1903.6,2452.1 L1912.0,2457.4 L1910.9,2475.2 L1926.7,2471.0 L1936.2,2482.6 L1941.5,2499.4 L1937.2,2522.6 L1928.8,2537.3 L1918.3,2552.1 L1907.8,2565.5 L1888.8,2565.5 L1874.1,2565.5 L1853.1,2566.8 L1872.0,2552.1 L1863.6,2539.4 L1848.9,2528.9 L1832.0,2507.9 L1823.6,2499.4 L1811.0,2510.0 L1798.3,2526.8 L1781.5,2556.8 L1678.4,2556.8 L1672.1,2535.2 L1653.1,2533.1 L1646.8,2520.5Z" fill="url(#spB)" stroke="none"/><path d="M1681.9,2557.6 L1781.6,2557.6 L1783.1,2606.0 L1790.4,2617.7 L1810.9,2629.5 L1813.9,2641.2 L1799.2,2658.8 L1781.6,2673.5 L1784.5,2691.5 L1678.9,2691.5 L1681.9,2673.5 L1664.3,2655.9 L1652.5,2635.3 L1652.5,2620.7 L1668.7,2611.9 L1670.1,2588.4Z" fill="url(#spB)" stroke="none"/><path d="M1843.2,2570.8 L1854.9,2565.5 L1907.7,2564.9 L1909.2,2600.1 L1931.2,2611.9 L1944.4,2623.6 L1944.4,2641.2 L1937.1,2667.6 L1916.5,2673.5 L1916.5,2694.0 L1857.9,2694.0 L1855.0,2673.5 L1837.3,2647.1 L1828.5,2626.5 L1834.4,2611.9 L1860.8,2606.0 L1866.7,2576.7Z" fill="url(#spB)" stroke="none"/><path d="M1679.6,2690.0 L1787.2,2688.2 L1787.8,2698.4 L1781.6,2715.7 L1785.7,2731.0 L1784.7,2757.6 L1772.4,2757.6 L1762.2,2745.3 L1758.2,2741.2 L1746.9,2754.5 L1735.7,2762.0 L1683.7,2762.0 L1676.5,2755.5 L1671.4,2746.3 L1668.4,2731.0 L1673.5,2710.6Z" fill="url(#spB)" stroke="none"/><path d="M1681.6,2761.6 L1735.7,2761.6 L1738.8,2764.7 L1755.1,2764.7 L1762.2,2774.9 L1763.3,2790.2 L1755.1,2807.6 L1757.1,2815.7 L1765.3,2815.7 L1769.4,2787.1 L1780.6,2788.2 L1787.8,2806.5 L1792.9,2822.9 L1789.8,2833.1 L1765.3,2833.1 L1757.1,2840.2 L1723.5,2842.2 L1716.3,2830.0 L1707.1,2807.6 L1704.1,2794.3 L1689.8,2794.3 L1681.6,2787.1 L1679.6,2771.8Z" fill="url(#spB)" stroke="none"/><path d="M1652.5,2861.9 L1664.3,2856.0 L1681.9,2850.1 L1699.5,2856.0 L1720.0,2853.1 L1734.7,2856.0 L1734.7,2841.3 L1752.3,2841.3 L1755.2,2856.0 L1778.7,2856.0 L1793.3,2870.7 L1793.3,2891.2 L1787.5,2908.8 L1778.7,2926.4 L1772.8,2911.7 L1705.3,2911.7 L1670.1,2900.0 L1652.5,2882.4Z" fill="url(#spB)" stroke="none"/><path d="M1673.1,2946.9 L1681.9,2927.9 L1702.4,2929.3 L1705.3,2911.0 L1758.1,2911.0 L1759.6,2952.8 L1769.9,2960.1 L1778.7,2951.3 L1793.3,2954.3 L1800.7,2963.1 L1793.3,2971.9 L1778.7,2970.4 L1766.9,2966.0 L1761.1,2977.7 L1740.5,2979.2 L1728.8,2986.5 L1714.1,2977.7 L1702.4,2998.3 L1696.5,2998.3 L1687.7,2985.1 L1676.0,2973.3Z" fill="url(#spB)" stroke="none"/><path d="M1646.7,3136.0 L1650.0,3126.0 L1656.0,3123.6 L1661.0,3126.0 L1665.8,3136.0 L1663.0,3146.0 L1656.0,3150.0 L1650.0,3147.0Z" fill="url(#spB)" stroke="none"/><path d="M1667.2,3130.0 L1672.0,3120.0 L1680.0,3115.5 L1698.0,3114.8 L1698.0,3135.0 L1694.0,3150.0 L1688.0,3168.0 L1684.0,3177.9 L1678.0,3172.0 L1671.0,3150.0Z" fill="url(#spB)" stroke="none"/><path d="M1701.0,3125.0 L1706.0,3118.0 L1716.0,3113.0 L1727.3,3110.3 L1726.0,3125.0 L1720.0,3148.0 L1712.0,3163.1 L1705.0,3160.0 L1702.0,3145.0Z" fill="url(#spB)" stroke="none"/><path d="M1730.3,3130.0 L1736.0,3122.0 L1745.0,3112.0 L1751.0,3104.4 L1758.0,3108.0 L1765.5,3120.0 L1757.0,3140.0 L1752.0,3160.0 L1745.0,3168.9 L1735.0,3167.0 L1731.0,3150.0Z" fill="url(#spB)" stroke="none"/><path d="M1764.0,3135.0 L1770.0,3128.0 L1780.0,3120.5 L1788.0,3121.0 L1791.9,3128.0 L1784.0,3140.0 L1780.0,3160.0 L1775.0,3168.9 L1768.0,3166.0 L1765.0,3150.0Z" fill="url(#spB)" stroke="none"/><path d="M1857.9,3140.0 L1866.0,3131.0 L1878.0,3126.5 L1892.0,3125.8 L1903.0,3130.0 L1907.7,3138.0 L1903.0,3144.0 L1890.0,3147.0 L1880.0,3153.0 L1872.0,3155.7 L1863.0,3149.0Z" fill="url(#spB)" stroke="none"/><path d="M1679.8,3379.1 L1689.4,3372.4 L1704.7,3366.7 L1716.2,3368.6 L1729.6,3378.2 L1737.2,3390.6 L1743.0,3400.2 L1737.2,3410.7 L1727.7,3416.4 L1714.3,3413.6 L1699.0,3412.6 L1687.5,3405.9 L1679.8,3396.3Z" fill="url(#spB)" stroke="none"/><path d="M1717.1,3545.0 L1718.5,3535.0 L1723.5,3530.3 L1729.0,3534.0 L1730.5,3545.0Z" fill="url(#spB)" stroke="none"/><path d="M1744.9,3545.0 L1747.0,3539.0 L1752.0,3537.9 L1756.0,3539.5 L1757.3,3545.0Z" fill="url(#spB)" stroke="none"/><path d="M1842.3,2716.3 L1847.7,2710.9 L1862.0,2705.5 L1870.0,2699.3 L1873.6,2694.8 L1887.0,2693.9 L1900.4,2697.5 L1914.6,2702.9 L1913.8,2715.4 L1917.3,2724.3 L1936.1,2726.5 L1940.1,2730.5 L1940.1,2735.9 L1934.3,2739.0 L1918.2,2738.6 L1912.9,2743.9 L1894.1,2745.7 L1889.6,2749.3 L1878.0,2751.1 L1879.4,2763.6 L1877.1,2771.6 L1873.6,2777.0 L1862.0,2777.0 L1857.5,2769.8 L1853.5,2761.8 L1853.5,2751.1 L1855.7,2738.6 L1853.0,2728.8 L1845.9,2723.4 L1842.3,2718.9Z" fill="url(#spB)" stroke="none"/><path d="M1846.1,2826.0 L1852.0,2818.0 L1866.0,2814.5 L1876.0,2815.0 L1879.9,2825.0 L1875.0,2832.0 L1860.0,2834.0 L1850.0,2833.0Z" fill="url(#spB)" stroke="none"/><path d="M1890.1,2830.0 L1894.0,2814.0 L1902.0,2803.0 L1911.0,2800.3 L1917.5,2806.0 L1916.0,2818.0 L1908.0,2832.0 L1900.0,2838.4 L1893.0,2837.0Z" fill="url(#spB)" stroke="none"/><path d="M1852.0,2873.6 L1869.6,2861.9 L1910.7,2857.5 L1934.1,2861.9 L1937.1,2873.6 L1916.5,2905.9 L1910.7,2912.0 L1884.3,2912.0 L1866.7,2902.9 L1854.9,2885.3Z" fill="url(#spB)" stroke="none"/><path d="M1884.3,2911.7 L1913.6,2911.7 L1912.1,2942.5 L1910.7,2949.9 L1915.1,2961.6 L1907.7,2971.9 L1896.0,2973.3 L1875.5,2970.4 L1863.7,2964.5 L1862.3,2946.9 L1875.5,2929.3Z" fill="url(#spB)" stroke="none"/>
<rect x="261.0" y="390.5" width="2041.2" height="2.7" fill="#b0b0b0"/><rect x="261.0" y="390.5" width="2.8" height="1314.7" fill="#4c4c4c"/><rect x="2302.2" y="390.5" width="2.8" height="1314.7" fill="#1c1c1c"/><rect x="258.2" y="388.0" width="2046.8" height="2.5" fill="#000"/><rect x="258.2" y="388.0" width="2.8" height="1322.8" fill="#000"/><rect x="2305.0" y="390.3" width="5.4" height="1320.5" fill="#000"/><rect x="258.2" y="1705.2" width="2052.2" height="5.6" fill="#000"/><rect x="2302.0" y="2230.6" width="3.0" height="1313.4" fill="#e4e4e4"/><rect x="258.2" y="2225.5" width="2046.8" height="5.1" fill="#000"/><rect x="258.2" y="2225.5" width="5.3" height="1323.4" fill="#000"/><rect x="2305.0" y="2227.5" width="5.7" height="1321.4" fill="#000"/><rect x="258.2" y="3544.0" width="2052.5" height="4.9" fill="#000"/><rect x="266.1" y="1710.5" width="3.4" height="8.3" fill="#000"/><rect x="356.2" y="1710.5" width="4.4" height="16" fill="#000"/><rect x="447.3" y="1710.5" width="3.4" height="8.3" fill="#000"/><rect x="537.9" y="1710.5" width="3.4" height="8.3" fill="#000"/><rect x="628.6" y="1710.5" width="3.4" height="8.3" fill="#000"/><rect x="718.7" y="1710.5" width="4.4" height="16" fill="#000"/><rect x="809.8" y="1710.5" width="3.4" height="8.3" fill="#000"/><rect x="900.4" y="1710.5" width="3.4" height="8.3" fill="#000"/><rect x="991.1" y="1710.5" width="3.4" height="8.3" fill="#000"/><rect x="1081.2" y="1710.5" width="4.4" height="16" fill="#000"/><rect x="1172.3" y="1710.5" width="3.4" height="8.3" fill="#000"/><rect x="1262.9" y="1710.5" width="3.4" height="8.3" fill="#000"/><rect x="1353.6" y="1710.5" width="3.4" height="8.3" fill="#000"/><rect x="1443.7" y="1710.5" width="4.4" height="16" fill="#000"/><rect x="1534.8" y="1710.5" width="3.4" height="8.3" fill="#000"/><rect x="1625.4" y="1710.5" width="3.4" height="8.3" fill="#000"/><rect x="1716.1" y="1710.5" width="3.4" height="8.3" fill="#000"/><rect x="1806.2" y="1710.5" width="4.4" height="16" fill="#000"/><rect x="1897.3" y="1710.5" width="3.4" height="8.3" fill="#000"/><rect x="1987.9" y="1710.5" width="3.4" height="8.3" fill="#000"/><rect x="2078.6" y="1710.5" width="3.4" height="8.3" fill="#000"/><rect x="2168.7" y="1710.5" width="4.4" height="16" fill="#000"/><rect x="2259.8" y="1710.5" width="3.4" height="8.3" fill="#000"/><rect x="290.8" y="3548.6" width="4.4" height="16" fill="#000"/><rect x="380.0" y="3548.6" width="3.4" height="8.3" fill="#000"/><rect x="468.7" y="3548.6" width="3.4" height="8.3" fill="#000"/><rect x="557.5" y="3548.6" width="3.4" height="8.3" fill="#000"/><rect x="645.7" y="3548.6" width="4.4" height="16" fill="#000"/><rect x="734.9" y="3548.6" width="3.4" height="8.3" fill="#000"/><rect x="823.6" y="3548.6" width="3.4" height="8.3" fill="#000"/><rect x="912.4" y="3548.6" width="3.4" height="8.3" fill="#000"/><rect x="1000.6" y="3548.6" width="4.4" height="16" fill="#000"/><rect x="1089.8" y="3548.6" width="3.4" height="8.3" fill="#000"/><rect x="1178.5" y="3548.6" width="3.4" height="8.3" fill="#000"/><rect x="1267.3" y="3548.6" width="3.4" height="8.3" fill="#000"/><rect x="1355.5" y="3548.6" width="4.4" height="16" fill="#000"/><rect x="1444.7" y="3548.6" width="3.4" height="8.3" fill="#000"/><rect x="1533.4" y="3548.6" width="3.4" height="8.3" fill="#000"/><rect x="1622.2" y="3548.6" width="3.4" height="8.3" fill="#000"/><rect x="1710.4" y="3548.6" width="4.4" height="16" fill="#000"/><rect x="1799.6" y="3548.6" width="3.4" height="8.3" fill="#000"/><rect x="1888.3" y="3548.6" width="3.4" height="8.3" fill="#000"/><rect x="1977.1" y="3548.6" width="3.4" height="8.3" fill="#000"/><rect x="2065.3" y="3548.6" width="4.4" height="16" fill="#000"/><rect x="2154.5" y="3548.6" width="3.4" height="8.3" fill="#000"/><rect x="2243.2" y="3548.6" width="3.4" height="8.3" fill="#000"/><rect x="2310.2" y="426.7" width="8.6" height="4" fill="#000"/><rect x="2310.2" y="493.7" width="8.6" height="4" fill="#000"/><rect x="2310.2" y="560.6" width="8.6" height="4" fill="#000"/><rect x="2310.2" y="627.5" width="16.8" height="4" fill="#000"/><rect x="2310.2" y="694.4" width="8.6" height="4" fill="#000"/><rect x="2310.2" y="761.3" width="8.6" height="4" fill="#000"/><rect x="2310.2" y="828.3" width="8.6" height="4" fill="#000"/><rect x="2310.2" y="895.2" width="8.6" height="4" fill="#000"/><rect x="2310.2" y="962.1" width="16.8" height="4" fill="#000"/><rect x="2310.2" y="1029.0" width="8.6" height="4" fill="#000"/><rect x="2310.2" y="1095.9" width="8.6" height="4" fill="#000"/><rect x="2310.2" y="1162.9" width="8.6" height="4" fill="#000"/><rect x="2310.2" y="1229.8" width="8.6" height="4" fill="#000"/><rect x="2310.2" y="1296.7" width="16.8" height="4" fill="#000"/><rect x="2310.2" y="1363.6" width="8.6" height="4" fill="#000"/><rect x="2310.2" y="1430.5" width="8.6" height="4" fill="#000"/><rect x="2310.2" y="1497.5" width="8.6" height="4" fill="#000"/><rect x="2310.2" y="1564.4" width="8.6" height="4" fill="#000"/><rect x="2310.2" y="1631.3" width="16.8" height="4" fill="#000"/><rect x="2310.2" y="1698.2" width="8.6" height="4" fill="#000"/><rect x="2310.2" y="2235.8" width="8.6" height="4" fill="#000"/><rect x="2310.2" y="2305.5" width="8.6" height="4" fill="#000"/><rect x="2310.2" y="2375.1" width="8.6" height="4" fill="#000"/><rect x="2310.2" y="2444.8" width="8.6" height="4" fill="#000"/><rect x="2310.2" y="2514.4" width="16.8" height="4" fill="#000"/><rect x="2310.2" y="2584.0" width="8.6" height="4" fill="#000"/><rect x="2310.2" y="2653.7" width="8.6" height="4" fill="#000"/><rect x="2310.2" y="2723.3" width="8.6" height="4" fill="#000"/><rect x="2310.2" y="2793.0" width="8.6" height="4" fill="#000"/><rect x="2310.2" y="2862.6" width="16.8" height="4" fill="#000"/><rect x="2310.2" y="2932.2" width="8.6" height="4" fill="#000"/><rect x="2310.2" y="3001.9" width="8.6" height="4" fill="#000"/><rect x="2310.2" y="3071.5" width="8.6" height="4" fill="#000"/><rect x="2310.2" y="3141.2" width="8.6" height="4" fill="#000"/><rect x="2310.2" y="3210.8" width="16.8" height="4" fill="#000"/><rect x="2310.2" y="3280.4" width="8.6" height="4" fill="#000"/><rect x="2310.2" y="3350.1" width="8.6" height="4" fill="#000"/><rect x="2310.2" y="3419.7" width="8.6" height="4" fill="#000"/><rect x="2310.2" y="3489.4" width="8.6" height="4" fill="#000"/>
<text transform="translate(302.48 491.00) scale(1.0305 1)" font-size="59.30" fill="#333333">A</text><text transform="translate(303.26 2328.80) scale(0.9677 1)" font-size="59.30" fill="#333333">B</text><text transform="translate(626.98 237.40) scale(0.9385 1)" font-size="59.30" fill="#333333">H5W</text><text transform="translate(1296.37 262.70) scale(0.9408 1)" font-size="59.30" fill="#333333">H7W</text><text transform="translate(1480.85 139.40) scale(0.9443 1)" font-size="59.30" fill="#333333">H2′,6′W</text><text transform="translate(1698.45 83.60) scale(0.9456 1)" font-size="59.30" fill="#333333">H3′,5′,6,8W</text><text transform="translate(1925.08 251.80) scale(0.9368 1)" font-size="59.30" fill="#333333">H4′W</text><text transform="translate(565.54 2075.90) scale(0.9487 1)" font-size="59.30" fill="#333333">H5W</text><text transform="translate(1233.76 2102.60) scale(0.9416 1)" font-size="59.30" fill="#333333">H7W</text><text transform="translate(1418.66 1978.20) scale(0.9429 1)" font-size="59.30" fill="#333333">H2′,6′W</text><text transform="translate(1636.06 1921.50) scale(0.9430 1)" font-size="59.30" fill="#333333">H3′,5′,6,8W</text><text transform="translate(1862.61 2089.40) scale(0.9312 1)" font-size="59.30" fill="#333333">H4′W</text><text transform="translate(130.00 711.58) rotate(-90) scale(0.9540 1)" font-size="59.30" fill="#333333">H22 DHA</text><text transform="translate(128.00 1016.18) rotate(-90) scale(0.9536 1)" font-size="59.30" fill="#333333">H21 DHA</text><text transform="translate(57.00 1326.46) rotate(-90) scale(0.9237 1)" font-size="59.30" fill="#333333">H2,3 DHA</text><text transform="translate(88.90 2620.25) rotate(-90) scale(0.9194 1)" font-size="59.30" fill="#333333">H20 EPA</text><text transform="translate(140.70 2841.17) rotate(-90) scale(0.9243 1)" font-size="59.30" fill="#333333">H3 EPA</text><text transform="translate(72.70 2943.19) rotate(-90) scale(0.9295 1)" font-size="59.30" fill="#333333">H4,19 EPA</text><text transform="translate(317.59 1783.70) scale(0.9145 1)" font-size="62.21" fill="#000000">8.2</text><text transform="translate(680.09 1783.70) scale(0.9151 1)" font-size="62.21" fill="#000000">8.0</text><text transform="translate(1041.95 1783.70) scale(0.9158 1)" font-size="62.21" fill="#000000">7.8</text><text transform="translate(1404.44 1783.70) scale(0.9196 1)" font-size="62.21" fill="#000000">7.6</text><text transform="translate(1767.00 1783.70) scale(0.8985 1)" font-size="62.21" fill="#000000">7.4</text><text transform="translate(2129.12 1783.70) scale(0.9623 1)" font-size="60.34" fill="#000000">F2 [ppm]</text><text transform="translate(248.69 3611.70) scale(0.9145 1)" font-size="62.21" fill="#000000">8.2</text><text transform="translate(603.59 3611.70) scale(0.9151 1)" font-size="62.21" fill="#000000">8.0</text><text transform="translate(957.85 3611.70) scale(0.9158 1)" font-size="62.21" fill="#000000">7.8</text><text transform="translate(1312.74 3611.70) scale(0.9196 1)" font-size="62.21" fill="#000000">7.6</text><text transform="translate(1667.70 3611.70) scale(0.8985 1)" font-size="62.21" fill="#000000">7.4</text><text transform="translate(2022.53 3611.70) scale(0.9223 1)" font-size="62.21" fill="#000000">7.2</text><text transform="translate(2129.13 3611.70) scale(0.9582 1)" font-size="60.34" fill="#000000">F2 [ppm]</text><text transform="translate(2381.00 985.12) rotate(-90) scale(0.9841 1)" font-size="59.10" fill="#000000">2</text><text transform="translate(2381.00 1318.99) rotate(-90) scale(0.9531 1)" font-size="59.10" fill="#000000">3</text><text transform="translate(2381.00 1653.09) rotate(-90) scale(0.8845 1)" font-size="59.10" fill="#000000">4</text><text transform="translate(2381.00 620.16) rotate(-90) scale(0.9562 1)" font-size="60.34" fill="#000000">F1 [ppm]</text><text transform="translate(2375.50 2533.84) rotate(-90) scale(0.6545 1)" font-size="59.10" fill="#000000">1</text><text transform="translate(2375.50 2886.62) rotate(-90) scale(0.9841 1)" font-size="59.10" fill="#000000">2</text><text transform="translate(2375.50 3234.09) rotate(-90) scale(0.9531 1)" font-size="59.10" fill="#000000">3</text><text transform="translate(2375.50 2457.76) rotate(-90) scale(0.9550 1)" font-size="60.34" fill="#000000">F1 [ppm]</text>
<line x1="126.5" y1="899.5" x2="184.9" y2="941.2" stroke="#333333" stroke-width="4.2"/><polygon points="213.2,962.2 174.3,955.7 195.4,926.7" fill="#333333"/><line x1="67.2" y1="1179.0" x2="123.1" y2="1135.1" stroke="#333333" stroke-width="4.2"/><polygon points="151.6,1111.8 112.3,1121.4 133.9,1148.8" fill="#333333"/><line x1="73.1" y1="2902.9" x2="126.0" y2="2903.2" stroke="#333333" stroke-width="4.2"/><polygon points="162.2,2903.0 126.0,2885.8 126.0,2920.6" fill="#333333"/>
</svg></body></html>
